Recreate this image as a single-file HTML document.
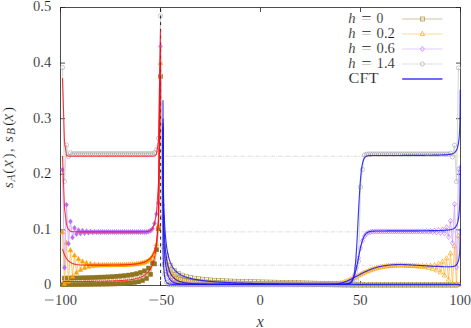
<!DOCTYPE html>
<html><head><meta charset="utf-8"><title>plot</title>
<style>html,body{margin:0;padding:0;background:#fff}svg{display:block}</style></head>
<body>
<svg width="471" height="328" viewBox="0 0 471 328">
<rect width="471" height="328" fill="#fff"/>
<defs><clipPath id="c"><rect x="60.5" y="7.5" width="400.8" height="278.6"/></clipPath></defs>
<g stroke="#d8d8d8" stroke-width="0.9" stroke-dasharray="4.1 1.2 1.04 1.2" stroke-dashoffset="0.9" fill="none">
<path d="M60.5 156.23H460.5"/>
<path d="M60.5 231.85H460.5"/>
<path d="M60.5 265.21H460.5"/>
</g>
<g stroke="#222" stroke-width="0.8" fill="none">
<rect x="60.5" y="7.5" width="400" height="278"/>
<path d="M60.5 285.5h4.5M460.5 285.5h-4.5"/>
<path d="M60.5 229.9h4.5M460.5 229.9h-4.5"/>
<path d="M60.5 174.3h4.5M460.5 174.3h-4.5"/>
<path d="M60.5 118.7h4.5M460.5 118.7h-4.5"/>
<path d="M60.5 63.1h4.5M460.5 63.1h-4.5"/>
<path d="M60.5 7.5h4.5M460.5 7.5h-4.5"/>
<path d="M60.5 285.5v-4.5M60.5 7.5v4.5"/>
<path d="M160.5 285.5v-4.5M160.5 7.5v4.5"/>
<path d="M260.5 285.5v-4.5M260.5 7.5v4.5"/>
<path d="M360.5 285.5v-4.5M360.5 7.5v4.5"/>
<path d="M460.5 285.5v-4.5M460.5 7.5v4.5"/>
</g>
<path d="M62.5 284.66 L64.5 278.11 L66.5 284.64 L68.5 278.05 L70.5 284.61 L72.5 277.98 L74.5 284.59 L76.5 277.9 L78.5 284.56 L80.5 277.81 L82.5 284.52 L84.5 277.71 L86.5 284.49 L88.5 277.61 L90.5 284.44 L92.5 277.49 L94.5 284.39 L96.5 277.35 L98.5 284.33 L100.5 277.2 L102.5 284.26 L104.5 277.03 L106.5 284.17 L108.5 276.83 L110.5 284.07 L112.5 276.6 L114.5 283.94 L116.5 276.33 L118.5 283.78 L120.5 276 L122.5 283.58 L124.5 275.6 L126.5 283.31 L128.5 275.11 L130.5 282.95 L132.5 274.49 L134.5 282.44 L136.5 273.66 L138.5 281.69 L140.5 272.51 L142.5 280.51 L144.5 270.83 L146.5 278.46 L148.5 268.11 L150.5 274.37 L152.5 262.98 L154.5 263.88 L156.5 249.64 L158.5 228.79 L160.5 76.44 L162.5 217.11 L164.5 264.37 L166.5 255.24 L168.5 273.27 L170.5 265.64 L172.5 276.69 L174.5 270.49 L176.5 278.5 L178.5 273.3 L180.5 279.62 L182.5 275.13 L184.5 280.38 L186.5 276.42 L188.5 280.94 L190.5 277.38 L192.5 281.36 L194.5 278.11 L196.5 281.68 L198.5 278.7 L200.5 281.95 L202.5 279.18 L204.5 282.16 L206.5 279.57 L208.5 282.35 L210.5 279.91 L212.5 282.5 L214.5 280.19 L216.5 282.63 L218.5 280.44 L220.5 282.75 L222.5 280.65 L224.5 282.85 L226.5 280.84 L228.5 282.94 L230.5 281.01 L232.5 283.02 L234.5 281.16 L236.5 283.09 L238.5 281.3 L240.5 283.15 L242.5 281.42 L244.5 283.21 L246.5 281.53 L248.5 283.26 L250.5 281.63 L252.5 283.31 L254.5 281.73 L256.5 283.36 L258.5 281.81 L260.5 283.4 L262.5 281.89 L264.5 283.44 L266.5 281.97 L268.5 283.49 L270.5 282.05 L272.5 283.55 L274.5 282.14 L276.5 283.61 L278.5 282.22 L280.5 283.68 L282.5 282.31 L284.5 283.75 L286.5 282.4 L288.5 283.83 L290.5 282.5 L292.5 283.91 L294.5 282.59 L296.5 284 L298.5 282.69 L300.5 284.09 L302.5 282.79 L304.5 284.18 L306.5 282.89 L308.5 284.27 L310.5 282.99 L312.5 284.37 L314.5 283.09 L316.5 284.46 L318.5 283.2 L320.5 284.56 L322.5 283.3 L324.5 284.65 L326.5 283.41 L328.5 284.74 L330.5 283.52 L332.5 284.83 L334.5 283.63 L336.5 284.92 L338.5 283.75 L340.5 285 L342.5 283.86 L344.5 285.08 L346.5 283.98 L348.5 285.15 L350.5 284.1 L352.5 285.22 L354.5 284.22 L356.5 285.28 L358.5 284.28 L360.5 285.28 L362.5 284.28 L364.5 285.28 L366.5 284.28 L368.5 285.28 L370.5 284.28 L372.5 285.28 L374.5 284.28 L376.5 285.28 L378.5 284.28 L380.5 285.28 L382.5 284.28 L384.5 285.28 L386.5 284.28 L388.5 285.28 L390.5 284.28 L392.5 285.28 L394.5 284.28 L396.5 285.28 L398.5 284.28 L400.5 285.28 L402.5 284.28 L404.5 285.28 L406.5 284.28 L408.5 285.28 L410.5 284.28 L412.5 285.28 L414.5 284.28 L416.5 285.28 L418.5 284.28 L420.5 285.28 L422.5 284.28 L424.5 285.28 L426.5 284.28 L428.5 285.28 L430.5 284.28 L432.5 285.28 L434.5 284.28 L436.5 285.28 L438.5 284.28 L440.5 285.28 L442.5 284.28 L444.5 285.28 L446.5 284.28 L448.5 285.28 L450.5 284.28 L452.5 285.28 L454.5 284.28 L456.5 285.28 L458.5 284.28" fill="none" stroke="#cdb88c" stroke-width="1.2" stroke-linejoin="round"/>
<rect x="60.2" y="282.36" width="4.6" height="4.6" fill="#8f7420"/>
<rect x="62.2" y="275.81" width="4.6" height="4.6" fill="#8f7420"/>
<rect x="64.2" y="282.34" width="4.6" height="4.6" fill="#8f7420"/>
<rect x="66.2" y="275.75" width="4.6" height="4.6" fill="#8f7420"/>
<rect x="68.2" y="282.31" width="4.6" height="4.6" fill="#8f7420"/>
<rect x="70.2" y="275.68" width="4.6" height="4.6" fill="#8f7420"/>
<rect x="72.2" y="282.29" width="4.6" height="4.6" fill="#8f7420"/>
<rect x="74.2" y="275.6" width="4.6" height="4.6" fill="#8f7420"/>
<rect x="76.2" y="282.26" width="4.6" height="4.6" fill="#8f7420"/>
<rect x="78.2" y="275.51" width="4.6" height="4.6" fill="#8f7420"/>
<rect x="80.2" y="282.22" width="4.6" height="4.6" fill="#8f7420"/>
<rect x="82.2" y="275.41" width="4.6" height="4.6" fill="#8f7420"/>
<rect x="84.2" y="282.19" width="4.6" height="4.6" fill="#8f7420"/>
<rect x="86.2" y="275.31" width="4.6" height="4.6" fill="#8f7420"/>
<rect x="88.2" y="282.14" width="4.6" height="4.6" fill="#8f7420"/>
<rect x="90.2" y="275.19" width="4.6" height="4.6" fill="#8f7420"/>
<rect x="92.2" y="282.09" width="4.6" height="4.6" fill="#8f7420"/>
<rect x="94.2" y="275.05" width="4.6" height="4.6" fill="#8f7420"/>
<rect x="96.2" y="282.03" width="4.6" height="4.6" fill="#8f7420"/>
<rect x="98.2" y="274.9" width="4.6" height="4.6" fill="#8f7420"/>
<rect x="100.2" y="281.96" width="4.6" height="4.6" fill="#8f7420"/>
<rect x="102.2" y="274.73" width="4.6" height="4.6" fill="#8f7420"/>
<rect x="104.2" y="281.87" width="4.6" height="4.6" fill="#8f7420"/>
<rect x="106.2" y="274.53" width="4.6" height="4.6" fill="#8f7420"/>
<rect x="108.2" y="281.77" width="4.6" height="4.6" fill="#8f7420"/>
<rect x="110.2" y="274.3" width="4.6" height="4.6" fill="#8f7420"/>
<rect x="112.2" y="281.64" width="4.6" height="4.6" fill="#8f7420"/>
<rect x="114.2" y="274.03" width="4.6" height="4.6" fill="#8f7420"/>
<rect x="116.2" y="281.48" width="4.6" height="4.6" fill="#8f7420"/>
<rect x="118.2" y="273.7" width="4.6" height="4.6" fill="#8f7420"/>
<rect x="120.2" y="281.28" width="4.6" height="4.6" fill="#8f7420"/>
<rect x="122.2" y="273.3" width="4.6" height="4.6" fill="#8f7420"/>
<rect x="124.2" y="281.01" width="4.6" height="4.6" fill="#8f7420"/>
<rect x="126.2" y="272.81" width="4.6" height="4.6" fill="#8f7420"/>
<rect x="128.2" y="280.65" width="4.6" height="4.6" fill="#8f7420"/>
<rect x="130.2" y="272.19" width="4.6" height="4.6" fill="#8f7420"/>
<rect x="132.2" y="280.14" width="4.6" height="4.6" fill="#8f7420"/>
<rect x="134.2" y="271.36" width="4.6" height="4.6" fill="#8f7420"/>
<rect x="136.2" y="279.39" width="4.6" height="4.6" fill="#8f7420"/>
<rect x="138.2" y="270.21" width="4.6" height="4.6" fill="#8f7420"/>
<rect x="140.2" y="278.21" width="4.6" height="4.6" fill="#8f7420"/>
<rect x="142.2" y="268.53" width="4.6" height="4.6" fill="#8f7420"/>
<rect x="144.2" y="276.16" width="4.6" height="4.6" fill="#8f7420"/>
<rect x="146.2" y="265.81" width="4.6" height="4.6" fill="#8f7420"/>
<rect x="148.2" y="272.07" width="4.6" height="4.6" fill="#8f7420"/>
<rect x="150.2" y="260.68" width="4.6" height="4.6" fill="#8f7420"/>
<rect x="152.2" y="261.58" width="4.6" height="4.6" fill="#8f7420"/>
<rect x="154.2" y="247.34" width="4.6" height="4.6" fill="#8f7420"/>
<rect x="156.2" y="226.49" width="4.6" height="4.6" fill="#8f7420"/>
<rect x="158.2" y="74.14" width="4.6" height="4.6" fill="#8f7420"/>
<rect x="160.5" y="215.11" width="4" height="4" fill="#d9c89a" fill-opacity="0.25" stroke="#a08422" stroke-opacity="0.85" stroke-width="0.55"/>
<rect x="162.5" y="262.37" width="4" height="4" fill="#d9c89a" fill-opacity="0.25" stroke="#a08422" stroke-opacity="0.85" stroke-width="0.55"/>
<rect x="164.5" y="253.24" width="4" height="4" fill="#d9c89a" fill-opacity="0.25" stroke="#a08422" stroke-opacity="0.85" stroke-width="0.55"/>
<rect x="166.5" y="271.27" width="4" height="4" fill="#d9c89a" fill-opacity="0.25" stroke="#a08422" stroke-opacity="0.85" stroke-width="0.55"/>
<rect x="168.5" y="263.64" width="4" height="4" fill="#d9c89a" fill-opacity="0.25" stroke="#a08422" stroke-opacity="0.85" stroke-width="0.55"/>
<rect x="170.5" y="274.69" width="4" height="4" fill="#d9c89a" fill-opacity="0.25" stroke="#a08422" stroke-opacity="0.85" stroke-width="0.55"/>
<rect x="172.5" y="268.49" width="4" height="4" fill="#d9c89a" fill-opacity="0.25" stroke="#a08422" stroke-opacity="0.85" stroke-width="0.55"/>
<rect x="174.5" y="276.5" width="4" height="4" fill="#d9c89a" fill-opacity="0.25" stroke="#a08422" stroke-opacity="0.85" stroke-width="0.55"/>
<rect x="176.5" y="271.3" width="4" height="4" fill="#d9c89a" fill-opacity="0.25" stroke="#a08422" stroke-opacity="0.85" stroke-width="0.55"/>
<rect x="178.5" y="277.62" width="4" height="4" fill="#d9c89a" fill-opacity="0.25" stroke="#a08422" stroke-opacity="0.85" stroke-width="0.55"/>
<rect x="180.5" y="273.13" width="4" height="4" fill="#d9c89a" fill-opacity="0.25" stroke="#a08422" stroke-opacity="0.85" stroke-width="0.55"/>
<rect x="182.5" y="278.38" width="4" height="4" fill="#d9c89a" fill-opacity="0.25" stroke="#a08422" stroke-opacity="0.85" stroke-width="0.55"/>
<rect x="184.5" y="274.42" width="4" height="4" fill="#d9c89a" fill-opacity="0.25" stroke="#a08422" stroke-opacity="0.85" stroke-width="0.55"/>
<rect x="186.5" y="278.94" width="4" height="4" fill="#d9c89a" fill-opacity="0.25" stroke="#a08422" stroke-opacity="0.85" stroke-width="0.55"/>
<rect x="188.5" y="275.38" width="4" height="4" fill="#d9c89a" fill-opacity="0.25" stroke="#a08422" stroke-opacity="0.85" stroke-width="0.55"/>
<rect x="190.5" y="279.36" width="4" height="4" fill="#d9c89a" fill-opacity="0.25" stroke="#a08422" stroke-opacity="0.85" stroke-width="0.55"/>
<rect x="192.5" y="276.11" width="4" height="4" fill="#d9c89a" fill-opacity="0.25" stroke="#a08422" stroke-opacity="0.85" stroke-width="0.55"/>
<rect x="194.5" y="279.68" width="4" height="4" fill="#d9c89a" fill-opacity="0.25" stroke="#a08422" stroke-opacity="0.85" stroke-width="0.55"/>
<rect x="196.5" y="276.7" width="4" height="4" fill="#d9c89a" fill-opacity="0.25" stroke="#a08422" stroke-opacity="0.85" stroke-width="0.55"/>
<rect x="198.5" y="279.95" width="4" height="4" fill="#d9c89a" fill-opacity="0.25" stroke="#a08422" stroke-opacity="0.85" stroke-width="0.55"/>
<rect x="200.5" y="277.18" width="4" height="4" fill="#d9c89a" fill-opacity="0.25" stroke="#a08422" stroke-opacity="0.85" stroke-width="0.55"/>
<rect x="202.5" y="280.16" width="4" height="4" fill="#d9c89a" fill-opacity="0.25" stroke="#a08422" stroke-opacity="0.85" stroke-width="0.55"/>
<rect x="204.5" y="277.57" width="4" height="4" fill="#d9c89a" fill-opacity="0.25" stroke="#a08422" stroke-opacity="0.85" stroke-width="0.55"/>
<rect x="206.5" y="280.35" width="4" height="4" fill="#d9c89a" fill-opacity="0.25" stroke="#a08422" stroke-opacity="0.85" stroke-width="0.55"/>
<rect x="208.5" y="277.91" width="4" height="4" fill="#d9c89a" fill-opacity="0.25" stroke="#a08422" stroke-opacity="0.85" stroke-width="0.55"/>
<rect x="210.5" y="280.5" width="4" height="4" fill="#d9c89a" fill-opacity="0.25" stroke="#a08422" stroke-opacity="0.85" stroke-width="0.55"/>
<rect x="212.5" y="278.19" width="4" height="4" fill="#d9c89a" fill-opacity="0.25" stroke="#a08422" stroke-opacity="0.85" stroke-width="0.55"/>
<rect x="214.5" y="280.63" width="4" height="4" fill="#d9c89a" fill-opacity="0.25" stroke="#a08422" stroke-opacity="0.85" stroke-width="0.55"/>
<rect x="216.5" y="278.44" width="4" height="4" fill="#d9c89a" fill-opacity="0.25" stroke="#a08422" stroke-opacity="0.85" stroke-width="0.55"/>
<rect x="218.5" y="280.75" width="4" height="4" fill="#d9c89a" fill-opacity="0.25" stroke="#a08422" stroke-opacity="0.85" stroke-width="0.55"/>
<rect x="220.5" y="278.65" width="4" height="4" fill="#d9c89a" fill-opacity="0.25" stroke="#a08422" stroke-opacity="0.85" stroke-width="0.55"/>
<rect x="222.5" y="280.85" width="4" height="4" fill="#d9c89a" fill-opacity="0.25" stroke="#a08422" stroke-opacity="0.85" stroke-width="0.55"/>
<rect x="224.5" y="278.84" width="4" height="4" fill="#d9c89a" fill-opacity="0.25" stroke="#a08422" stroke-opacity="0.85" stroke-width="0.55"/>
<rect x="226.5" y="280.94" width="4" height="4" fill="#d9c89a" fill-opacity="0.25" stroke="#a08422" stroke-opacity="0.85" stroke-width="0.55"/>
<rect x="228.5" y="279.01" width="4" height="4" fill="#d9c89a" fill-opacity="0.25" stroke="#a08422" stroke-opacity="0.85" stroke-width="0.55"/>
<rect x="230.5" y="281.02" width="4" height="4" fill="#d9c89a" fill-opacity="0.25" stroke="#a08422" stroke-opacity="0.85" stroke-width="0.55"/>
<rect x="232.5" y="279.16" width="4" height="4" fill="#d9c89a" fill-opacity="0.25" stroke="#a08422" stroke-opacity="0.85" stroke-width="0.55"/>
<rect x="234.5" y="281.09" width="4" height="4" fill="#d9c89a" fill-opacity="0.25" stroke="#a08422" stroke-opacity="0.85" stroke-width="0.55"/>
<rect x="236.5" y="279.3" width="4" height="4" fill="#d9c89a" fill-opacity="0.25" stroke="#a08422" stroke-opacity="0.85" stroke-width="0.55"/>
<rect x="238.5" y="281.15" width="4" height="4" fill="#d9c89a" fill-opacity="0.25" stroke="#a08422" stroke-opacity="0.85" stroke-width="0.55"/>
<rect x="240.5" y="279.42" width="4" height="4" fill="#d9c89a" fill-opacity="0.25" stroke="#a08422" stroke-opacity="0.85" stroke-width="0.55"/>
<rect x="242.5" y="281.21" width="4" height="4" fill="#d9c89a" fill-opacity="0.25" stroke="#a08422" stroke-opacity="0.85" stroke-width="0.55"/>
<rect x="244.5" y="279.53" width="4" height="4" fill="#d9c89a" fill-opacity="0.25" stroke="#a08422" stroke-opacity="0.85" stroke-width="0.55"/>
<rect x="246.5" y="281.26" width="4" height="4" fill="#d9c89a" fill-opacity="0.25" stroke="#a08422" stroke-opacity="0.85" stroke-width="0.55"/>
<rect x="248.5" y="279.63" width="4" height="4" fill="#d9c89a" fill-opacity="0.25" stroke="#a08422" stroke-opacity="0.85" stroke-width="0.55"/>
<rect x="250.5" y="281.31" width="4" height="4" fill="#d9c89a" fill-opacity="0.25" stroke="#a08422" stroke-opacity="0.85" stroke-width="0.55"/>
<rect x="252.5" y="279.73" width="4" height="4" fill="#d9c89a" fill-opacity="0.25" stroke="#a08422" stroke-opacity="0.85" stroke-width="0.55"/>
<rect x="254.5" y="281.36" width="4" height="4" fill="#d9c89a" fill-opacity="0.25" stroke="#a08422" stroke-opacity="0.85" stroke-width="0.55"/>
<rect x="256.5" y="279.81" width="4" height="4" fill="#d9c89a" fill-opacity="0.25" stroke="#a08422" stroke-opacity="0.85" stroke-width="0.55"/>
<rect x="258.5" y="281.4" width="4" height="4" fill="#d9c89a" fill-opacity="0.25" stroke="#a08422" stroke-opacity="0.85" stroke-width="0.55"/>
<rect x="260.5" y="279.89" width="4" height="4" fill="#d9c89a" fill-opacity="0.25" stroke="#a08422" stroke-opacity="0.85" stroke-width="0.55"/>
<rect x="262.5" y="281.44" width="4" height="4" fill="#d9c89a" fill-opacity="0.25" stroke="#a08422" stroke-opacity="0.85" stroke-width="0.55"/>
<rect x="264.5" y="279.97" width="4" height="4" fill="#d9c89a" fill-opacity="0.25" stroke="#a08422" stroke-opacity="0.85" stroke-width="0.55"/>
<rect x="266.5" y="281.49" width="4" height="4" fill="#d9c89a" fill-opacity="0.25" stroke="#a08422" stroke-opacity="0.85" stroke-width="0.55"/>
<rect x="268.5" y="280.05" width="4" height="4" fill="#d9c89a" fill-opacity="0.25" stroke="#a08422" stroke-opacity="0.85" stroke-width="0.55"/>
<rect x="270.5" y="281.55" width="4" height="4" fill="#d9c89a" fill-opacity="0.25" stroke="#a08422" stroke-opacity="0.85" stroke-width="0.55"/>
<rect x="272.5" y="280.14" width="4" height="4" fill="#d9c89a" fill-opacity="0.25" stroke="#a08422" stroke-opacity="0.85" stroke-width="0.55"/>
<rect x="274.5" y="281.61" width="4" height="4" fill="#d9c89a" fill-opacity="0.25" stroke="#a08422" stroke-opacity="0.85" stroke-width="0.55"/>
<rect x="276.5" y="280.22" width="4" height="4" fill="#d9c89a" fill-opacity="0.25" stroke="#a08422" stroke-opacity="0.85" stroke-width="0.55"/>
<rect x="278.5" y="281.68" width="4" height="4" fill="#d9c89a" fill-opacity="0.25" stroke="#a08422" stroke-opacity="0.85" stroke-width="0.55"/>
<rect x="280.5" y="280.31" width="4" height="4" fill="#d9c89a" fill-opacity="0.25" stroke="#a08422" stroke-opacity="0.85" stroke-width="0.55"/>
<rect x="282.5" y="281.75" width="4" height="4" fill="#d9c89a" fill-opacity="0.25" stroke="#a08422" stroke-opacity="0.85" stroke-width="0.55"/>
<rect x="284.5" y="280.4" width="4" height="4" fill="#d9c89a" fill-opacity="0.25" stroke="#a08422" stroke-opacity="0.85" stroke-width="0.55"/>
<rect x="286.5" y="281.83" width="4" height="4" fill="#d9c89a" fill-opacity="0.25" stroke="#a08422" stroke-opacity="0.85" stroke-width="0.55"/>
<rect x="288.5" y="280.5" width="4" height="4" fill="#d9c89a" fill-opacity="0.25" stroke="#a08422" stroke-opacity="0.85" stroke-width="0.55"/>
<rect x="290.5" y="281.91" width="4" height="4" fill="#d9c89a" fill-opacity="0.25" stroke="#a08422" stroke-opacity="0.85" stroke-width="0.55"/>
<rect x="292.5" y="280.59" width="4" height="4" fill="#d9c89a" fill-opacity="0.25" stroke="#a08422" stroke-opacity="0.85" stroke-width="0.55"/>
<rect x="294.5" y="282" width="4" height="4" fill="#d9c89a" fill-opacity="0.25" stroke="#a08422" stroke-opacity="0.85" stroke-width="0.55"/>
<rect x="296.5" y="280.69" width="4" height="4" fill="#d9c89a" fill-opacity="0.25" stroke="#a08422" stroke-opacity="0.85" stroke-width="0.55"/>
<rect x="298.5" y="282.09" width="4" height="4" fill="#d9c89a" fill-opacity="0.25" stroke="#a08422" stroke-opacity="0.85" stroke-width="0.55"/>
<rect x="300.5" y="280.79" width="4" height="4" fill="#d9c89a" fill-opacity="0.25" stroke="#a08422" stroke-opacity="0.85" stroke-width="0.55"/>
<rect x="302.5" y="282.18" width="4" height="4" fill="#d9c89a" fill-opacity="0.25" stroke="#a08422" stroke-opacity="0.85" stroke-width="0.55"/>
<rect x="304.5" y="280.89" width="4" height="4" fill="#d9c89a" fill-opacity="0.25" stroke="#a08422" stroke-opacity="0.85" stroke-width="0.55"/>
<rect x="306.5" y="282.27" width="4" height="4" fill="#d9c89a" fill-opacity="0.25" stroke="#a08422" stroke-opacity="0.85" stroke-width="0.55"/>
<rect x="308.5" y="280.99" width="4" height="4" fill="#d9c89a" fill-opacity="0.25" stroke="#a08422" stroke-opacity="0.85" stroke-width="0.55"/>
<rect x="310.5" y="282.37" width="4" height="4" fill="#d9c89a" fill-opacity="0.25" stroke="#a08422" stroke-opacity="0.85" stroke-width="0.55"/>
<rect x="312.5" y="281.09" width="4" height="4" fill="#d9c89a" fill-opacity="0.25" stroke="#a08422" stroke-opacity="0.85" stroke-width="0.55"/>
<rect x="314.5" y="282.46" width="4" height="4" fill="#d9c89a" fill-opacity="0.25" stroke="#a08422" stroke-opacity="0.85" stroke-width="0.55"/>
<rect x="316.5" y="281.2" width="4" height="4" fill="#d9c89a" fill-opacity="0.25" stroke="#a08422" stroke-opacity="0.85" stroke-width="0.55"/>
<rect x="318.5" y="282.56" width="4" height="4" fill="#d9c89a" fill-opacity="0.25" stroke="#a08422" stroke-opacity="0.85" stroke-width="0.55"/>
<rect x="320.5" y="281.3" width="4" height="4" fill="#d9c89a" fill-opacity="0.25" stroke="#a08422" stroke-opacity="0.85" stroke-width="0.55"/>
<rect x="322.5" y="282.65" width="4" height="4" fill="#d9c89a" fill-opacity="0.25" stroke="#a08422" stroke-opacity="0.85" stroke-width="0.55"/>
<rect x="324.5" y="281.41" width="4" height="4" fill="#d9c89a" fill-opacity="0.25" stroke="#a08422" stroke-opacity="0.85" stroke-width="0.55"/>
<rect x="326.5" y="282.74" width="4" height="4" fill="#d9c89a" fill-opacity="0.25" stroke="#a08422" stroke-opacity="0.85" stroke-width="0.55"/>
<rect x="328.5" y="281.52" width="4" height="4" fill="#d9c89a" fill-opacity="0.25" stroke="#a08422" stroke-opacity="0.85" stroke-width="0.55"/>
<rect x="330.5" y="282.83" width="4" height="4" fill="#d9c89a" fill-opacity="0.25" stroke="#a08422" stroke-opacity="0.85" stroke-width="0.55"/>
<rect x="332.5" y="281.63" width="4" height="4" fill="#d9c89a" fill-opacity="0.25" stroke="#a08422" stroke-opacity="0.85" stroke-width="0.55"/>
<rect x="334.5" y="282.92" width="4" height="4" fill="#d9c89a" fill-opacity="0.25" stroke="#a08422" stroke-opacity="0.85" stroke-width="0.55"/>
<rect x="336.5" y="281.75" width="4" height="4" fill="#d9c89a" fill-opacity="0.25" stroke="#a08422" stroke-opacity="0.85" stroke-width="0.55"/>
<rect x="338.5" y="283" width="4" height="4" fill="#d9c89a" fill-opacity="0.25" stroke="#a08422" stroke-opacity="0.85" stroke-width="0.55"/>
<rect x="340.5" y="281.86" width="4" height="4" fill="#d9c89a" fill-opacity="0.25" stroke="#a08422" stroke-opacity="0.85" stroke-width="0.55"/>
<rect x="342.5" y="283.08" width="4" height="4" fill="#d9c89a" fill-opacity="0.25" stroke="#a08422" stroke-opacity="0.85" stroke-width="0.55"/>
<rect x="344.5" y="281.98" width="4" height="4" fill="#d9c89a" fill-opacity="0.25" stroke="#a08422" stroke-opacity="0.85" stroke-width="0.55"/>
<rect x="346.5" y="283.15" width="4" height="4" fill="#d9c89a" fill-opacity="0.25" stroke="#a08422" stroke-opacity="0.85" stroke-width="0.55"/>
<rect x="348.5" y="282.1" width="4" height="4" fill="#d9c89a" fill-opacity="0.25" stroke="#a08422" stroke-opacity="0.85" stroke-width="0.55"/>
<rect x="350.5" y="283.22" width="4" height="4" fill="#d9c89a" fill-opacity="0.25" stroke="#a08422" stroke-opacity="0.85" stroke-width="0.55"/>
<rect x="352.5" y="282.22" width="4" height="4" fill="#d9c89a" fill-opacity="0.25" stroke="#a08422" stroke-opacity="0.85" stroke-width="0.55"/>
<rect x="354.5" y="283.28" width="4" height="4" fill="#d9c89a" fill-opacity="0.25" stroke="#a08422" stroke-opacity="0.85" stroke-width="0.55"/>
<rect x="356.5" y="282.28" width="4" height="4" fill="#d9c89a" fill-opacity="0.25" stroke="#a08422" stroke-opacity="0.85" stroke-width="0.55"/>
<rect x="358.5" y="283.28" width="4" height="4" fill="#d9c89a" fill-opacity="0.25" stroke="#a08422" stroke-opacity="0.85" stroke-width="0.55"/>
<rect x="360.5" y="282.28" width="4" height="4" fill="#d9c89a" fill-opacity="0.25" stroke="#a08422" stroke-opacity="0.85" stroke-width="0.55"/>
<rect x="362.5" y="283.28" width="4" height="4" fill="#d9c89a" fill-opacity="0.25" stroke="#a08422" stroke-opacity="0.85" stroke-width="0.55"/>
<rect x="364.5" y="282.28" width="4" height="4" fill="#d9c89a" fill-opacity="0.25" stroke="#a08422" stroke-opacity="0.85" stroke-width="0.55"/>
<rect x="366.5" y="283.28" width="4" height="4" fill="#d9c89a" fill-opacity="0.25" stroke="#a08422" stroke-opacity="0.85" stroke-width="0.55"/>
<rect x="368.5" y="282.28" width="4" height="4" fill="#d9c89a" fill-opacity="0.25" stroke="#a08422" stroke-opacity="0.85" stroke-width="0.55"/>
<rect x="370.5" y="283.28" width="4" height="4" fill="#d9c89a" fill-opacity="0.25" stroke="#a08422" stroke-opacity="0.85" stroke-width="0.55"/>
<rect x="372.5" y="282.28" width="4" height="4" fill="#d9c89a" fill-opacity="0.25" stroke="#a08422" stroke-opacity="0.85" stroke-width="0.55"/>
<rect x="374.5" y="283.28" width="4" height="4" fill="#d9c89a" fill-opacity="0.25" stroke="#a08422" stroke-opacity="0.85" stroke-width="0.55"/>
<rect x="376.5" y="282.28" width="4" height="4" fill="#d9c89a" fill-opacity="0.25" stroke="#a08422" stroke-opacity="0.85" stroke-width="0.55"/>
<rect x="378.5" y="283.28" width="4" height="4" fill="#d9c89a" fill-opacity="0.25" stroke="#a08422" stroke-opacity="0.85" stroke-width="0.55"/>
<rect x="380.5" y="282.28" width="4" height="4" fill="#d9c89a" fill-opacity="0.25" stroke="#a08422" stroke-opacity="0.85" stroke-width="0.55"/>
<rect x="382.5" y="283.28" width="4" height="4" fill="#d9c89a" fill-opacity="0.25" stroke="#a08422" stroke-opacity="0.85" stroke-width="0.55"/>
<rect x="384.5" y="282.28" width="4" height="4" fill="#d9c89a" fill-opacity="0.25" stroke="#a08422" stroke-opacity="0.85" stroke-width="0.55"/>
<rect x="386.5" y="283.28" width="4" height="4" fill="#d9c89a" fill-opacity="0.25" stroke="#a08422" stroke-opacity="0.85" stroke-width="0.55"/>
<rect x="388.5" y="282.28" width="4" height="4" fill="#d9c89a" fill-opacity="0.25" stroke="#a08422" stroke-opacity="0.85" stroke-width="0.55"/>
<rect x="390.5" y="283.28" width="4" height="4" fill="#d9c89a" fill-opacity="0.25" stroke="#a08422" stroke-opacity="0.85" stroke-width="0.55"/>
<rect x="392.5" y="282.28" width="4" height="4" fill="#d9c89a" fill-opacity="0.25" stroke="#a08422" stroke-opacity="0.85" stroke-width="0.55"/>
<rect x="394.5" y="283.28" width="4" height="4" fill="#d9c89a" fill-opacity="0.25" stroke="#a08422" stroke-opacity="0.85" stroke-width="0.55"/>
<rect x="396.5" y="282.28" width="4" height="4" fill="#d9c89a" fill-opacity="0.25" stroke="#a08422" stroke-opacity="0.85" stroke-width="0.55"/>
<rect x="398.5" y="283.28" width="4" height="4" fill="#d9c89a" fill-opacity="0.25" stroke="#a08422" stroke-opacity="0.85" stroke-width="0.55"/>
<rect x="400.5" y="282.28" width="4" height="4" fill="#d9c89a" fill-opacity="0.25" stroke="#a08422" stroke-opacity="0.85" stroke-width="0.55"/>
<rect x="402.5" y="283.28" width="4" height="4" fill="#d9c89a" fill-opacity="0.25" stroke="#a08422" stroke-opacity="0.85" stroke-width="0.55"/>
<rect x="404.5" y="282.28" width="4" height="4" fill="#d9c89a" fill-opacity="0.25" stroke="#a08422" stroke-opacity="0.85" stroke-width="0.55"/>
<rect x="406.5" y="283.28" width="4" height="4" fill="#d9c89a" fill-opacity="0.25" stroke="#a08422" stroke-opacity="0.85" stroke-width="0.55"/>
<rect x="408.5" y="282.28" width="4" height="4" fill="#d9c89a" fill-opacity="0.25" stroke="#a08422" stroke-opacity="0.85" stroke-width="0.55"/>
<rect x="410.5" y="283.28" width="4" height="4" fill="#d9c89a" fill-opacity="0.25" stroke="#a08422" stroke-opacity="0.85" stroke-width="0.55"/>
<rect x="412.5" y="282.28" width="4" height="4" fill="#d9c89a" fill-opacity="0.25" stroke="#a08422" stroke-opacity="0.85" stroke-width="0.55"/>
<rect x="414.5" y="283.28" width="4" height="4" fill="#d9c89a" fill-opacity="0.25" stroke="#a08422" stroke-opacity="0.85" stroke-width="0.55"/>
<rect x="416.5" y="282.28" width="4" height="4" fill="#d9c89a" fill-opacity="0.25" stroke="#a08422" stroke-opacity="0.85" stroke-width="0.55"/>
<rect x="418.5" y="283.28" width="4" height="4" fill="#d9c89a" fill-opacity="0.25" stroke="#a08422" stroke-opacity="0.85" stroke-width="0.55"/>
<rect x="420.5" y="282.28" width="4" height="4" fill="#d9c89a" fill-opacity="0.25" stroke="#a08422" stroke-opacity="0.85" stroke-width="0.55"/>
<rect x="422.5" y="283.28" width="4" height="4" fill="#d9c89a" fill-opacity="0.25" stroke="#a08422" stroke-opacity="0.85" stroke-width="0.55"/>
<rect x="424.5" y="282.28" width="4" height="4" fill="#d9c89a" fill-opacity="0.25" stroke="#a08422" stroke-opacity="0.85" stroke-width="0.55"/>
<rect x="426.5" y="283.28" width="4" height="4" fill="#d9c89a" fill-opacity="0.25" stroke="#a08422" stroke-opacity="0.85" stroke-width="0.55"/>
<rect x="428.5" y="282.28" width="4" height="4" fill="#d9c89a" fill-opacity="0.25" stroke="#a08422" stroke-opacity="0.85" stroke-width="0.55"/>
<rect x="430.5" y="283.28" width="4" height="4" fill="#d9c89a" fill-opacity="0.25" stroke="#a08422" stroke-opacity="0.85" stroke-width="0.55"/>
<rect x="432.5" y="282.28" width="4" height="4" fill="#d9c89a" fill-opacity="0.25" stroke="#a08422" stroke-opacity="0.85" stroke-width="0.55"/>
<rect x="434.5" y="283.28" width="4" height="4" fill="#d9c89a" fill-opacity="0.25" stroke="#a08422" stroke-opacity="0.85" stroke-width="0.55"/>
<rect x="436.5" y="282.28" width="4" height="4" fill="#d9c89a" fill-opacity="0.25" stroke="#a08422" stroke-opacity="0.85" stroke-width="0.55"/>
<rect x="438.5" y="283.28" width="4" height="4" fill="#d9c89a" fill-opacity="0.25" stroke="#a08422" stroke-opacity="0.85" stroke-width="0.55"/>
<rect x="440.5" y="282.28" width="4" height="4" fill="#d9c89a" fill-opacity="0.25" stroke="#a08422" stroke-opacity="0.85" stroke-width="0.55"/>
<rect x="442.5" y="283.28" width="4" height="4" fill="#d9c89a" fill-opacity="0.25" stroke="#a08422" stroke-opacity="0.85" stroke-width="0.55"/>
<rect x="444.5" y="282.28" width="4" height="4" fill="#d9c89a" fill-opacity="0.25" stroke="#a08422" stroke-opacity="0.85" stroke-width="0.55"/>
<rect x="446.5" y="283.28" width="4" height="4" fill="#d9c89a" fill-opacity="0.25" stroke="#a08422" stroke-opacity="0.85" stroke-width="0.55"/>
<rect x="448.5" y="282.28" width="4" height="4" fill="#d9c89a" fill-opacity="0.25" stroke="#a08422" stroke-opacity="0.85" stroke-width="0.55"/>
<rect x="450.5" y="283.28" width="4" height="4" fill="#d9c89a" fill-opacity="0.25" stroke="#a08422" stroke-opacity="0.85" stroke-width="0.55"/>
<rect x="452.5" y="282.28" width="4" height="4" fill="#d9c89a" fill-opacity="0.25" stroke="#a08422" stroke-opacity="0.85" stroke-width="0.55"/>
<rect x="454.5" y="283.28" width="4" height="4" fill="#d9c89a" fill-opacity="0.25" stroke="#a08422" stroke-opacity="0.85" stroke-width="0.55"/>
<rect x="456.5" y="282.28" width="4" height="4" fill="#d9c89a" fill-opacity="0.25" stroke="#a08422" stroke-opacity="0.85" stroke-width="0.55"/>
<path d="M62.5 232.39 L64.5 283.94 L66.5 242.96 L68.5 281.66 L70.5 250.28 L72.5 276.65 L74.5 255.44 L76.5 272.75 L78.5 259.03 L80.5 269.96 L82.5 261.43 L84.5 268.06 L86.5 262.99 L88.5 266.85 L90.5 263.95 L92.5 266.11 L94.5 264.51 L96.5 265.67 L98.5 264.83 L100.5 265.42 L102.5 264.99 L104.5 265.28 L106.5 265.07 L108.5 265.2 L110.5 265.09 L112.5 265.14 L114.5 265.07 L116.5 265.08 L118.5 265.03 L120.5 265.01 L122.5 264.96 L124.5 264.91 L126.5 264.84 L128.5 264.76 L130.5 264.66 L132.5 264.54 L134.5 264.38 L136.5 264.17 L138.5 263.91 L140.5 263.57 L142.5 263.12 L144.5 262.53 L146.5 261.71 L148.5 260.56 L150.5 258.89 L152.5 256.33 L154.5 252.13 L156.5 244.31 L158.5 226.04 L160.5 63.1 L162.5 204.06 L164.5 246.4 L166.5 261.75 L168.5 269.44 L170.5 273.92 L172.5 276.78 L174.5 278.71 L176.5 280.06 L178.5 281.05 L180.5 281.78 L182.5 282.33 L184.5 282.75 L186.5 283.07 L188.5 283.33 L190.5 283.53 L192.5 283.69 L194.5 283.82 L196.5 283.92 L198.5 283.94 L200.5 283.94 L202.5 283.94 L204.5 283.94 L206.5 283.94 L208.5 283.94 L210.5 283.94 L212.5 283.94 L214.5 283.94 L216.5 283.94 L218.5 283.94 L220.5 283.94 L222.5 283.94 L224.5 283.94 L226.5 283.94 L228.5 283.94 L230.5 283.94 L232.5 283.94 L234.5 283.94 L236.5 283.94 L238.5 283.94 L240.5 283.94 L242.5 283.94 L244.5 283.94 L246.5 283.94 L248.5 283.94 L250.5 283.94 L252.5 283.94 L254.5 283.94 L256.5 283.94 L258.5 283.94 L260.5 283.94 L262.5 283.94 L264.5 283.94 L266.5 283.94 L268.5 283.94 L270.5 283.94 L272.5 283.94 L274.5 283.94 L276.5 283.94 L278.5 283.94 L280.5 283.94 L282.5 283.94 L284.5 283.94 L286.5 283.94 L288.5 283.94 L290.5 283.94 L292.5 283.94 L294.5 283.94 L296.5 283.94 L298.5 283.94 L300.5 283.94 L302.5 283.94 L304.5 283.94 L306.5 283.94 L308.5 283.94 L310.5 283.94 L312.5 283.94 L314.5 283.94 L316.5 283.94 L318.5 283.94 L320.5 283.94 L322.5 283.94 L324.5 283.94 L326.5 283.94 L328.5 283.94 L330.5 283.94 L332.5 283.94 L334.5 283.94 L336.5 283.94 L338.5 283.78 L340.5 283.38 L342.5 282.83 L344.5 282.15 L346.5 281.38 L348.5 280.53 L350.5 279.62 L352.5 278.66 L354.5 277.66 L356.5 276.64 L358.5 275.61 L360.5 274.6 L362.5 273.61 L364.5 272.66 L366.5 271.75 L368.5 270.91 L370.5 270.13 L372.5 269.42 L374.5 268.78 L376.5 268.21 L378.5 267.71 L380.5 267.28 L382.5 266.9 L384.5 266.58 L386.5 266.31 L388.5 266.09 L390.5 265.9 L392.5 265.75 L394.5 265.63 L396.5 265.53 L398.5 265.45 L400.5 265.4 L402.5 265.46 L404.5 265.57 L406.5 265.64 L408.5 265.79 L410.5 265.83 L412.5 266.04 L414.5 266.01 L416.5 266.34 L418.5 266.16 L420.5 266.71 L422.5 266.23 L424.5 267.19 L426.5 266.15 L428.5 267.87 L430.5 265.83 L432.5 268.86 L434.5 265.12 L436.5 270.32 L438.5 263.81 L440.5 272.45 L442.5 261.65 L444.5 275.5 L446.5 258.31 L448.5 279.65 L450.5 253.4 L452.5 283.94 L454.5 246.33 L456.5 283.94 L458.5 236" fill="none" stroke="#ffbf5e" stroke-width="0.9" stroke-linejoin="round"/>
<polygon points="62.5,229.64 60.25,233.89 64.75,233.89" fill="#ffa200" stroke="#ffa200" stroke-width="0.5"/>
<polygon points="64.5,281.19 62.25,285.44 66.75,285.44" fill="#ffa200" stroke="#ffa200" stroke-width="0.5"/>
<polygon points="66.5,240.21 64.25,244.46 68.75,244.46" fill="#ffa200" stroke="#ffa200" stroke-width="0.5"/>
<polygon points="68.5,278.91 66.25,283.16 70.75,283.16" fill="#ffa200" stroke="#ffa200" stroke-width="0.5"/>
<polygon points="70.5,247.53 68.25,251.78 72.75,251.78" fill="#ffa200" stroke="#ffa200" stroke-width="0.5"/>
<polygon points="72.5,273.9 70.25,278.15 74.75,278.15" fill="#ffa200" stroke="#ffa200" stroke-width="0.5"/>
<polygon points="74.5,252.69 72.25,256.94 76.75,256.94" fill="#ffa200" stroke="#ffa200" stroke-width="0.5"/>
<polygon points="76.5,270 74.25,274.25 78.75,274.25" fill="#ffa200" stroke="#ffa200" stroke-width="0.5"/>
<polygon points="78.5,256.28 76.25,260.53 80.75,260.53" fill="#ffa200" stroke="#ffa200" stroke-width="0.5"/>
<polygon points="80.5,267.21 78.25,271.46 82.75,271.46" fill="#ffa200" stroke="#ffa200" stroke-width="0.5"/>
<polygon points="82.5,258.68 80.25,262.93 84.75,262.93" fill="#ffa200" stroke="#ffa200" stroke-width="0.5"/>
<polygon points="84.5,265.31 82.25,269.56 86.75,269.56" fill="#ffa200" stroke="#ffa200" stroke-width="0.5"/>
<polygon points="86.5,260.24 84.25,264.49 88.75,264.49" fill="#ffa200" stroke="#ffa200" stroke-width="0.5"/>
<polygon points="88.5,264.1 86.25,268.35 90.75,268.35" fill="#ffa200" stroke="#ffa200" stroke-width="0.5"/>
<polygon points="90.5,261.2 88.25,265.45 92.75,265.45" fill="#ffa200" stroke="#ffa200" stroke-width="0.5"/>
<polygon points="92.5,263.36 90.25,267.61 94.75,267.61" fill="#ffa200" stroke="#ffa200" stroke-width="0.5"/>
<polygon points="94.5,261.76 92.25,266.01 96.75,266.01" fill="#ffa200" stroke="#ffa200" stroke-width="0.5"/>
<polygon points="96.5,262.92 94.25,267.17 98.75,267.17" fill="#ffa200" stroke="#ffa200" stroke-width="0.5"/>
<polygon points="98.5,262.08 96.25,266.33 100.75,266.33" fill="#ffa200" stroke="#ffa200" stroke-width="0.5"/>
<polygon points="100.5,262.67 98.25,266.92 102.75,266.92" fill="#ffa200" stroke="#ffa200" stroke-width="0.5"/>
<polygon points="102.5,262.24 100.25,266.49 104.75,266.49" fill="#ffa200" stroke="#ffa200" stroke-width="0.5"/>
<polygon points="104.5,262.53 102.25,266.78 106.75,266.78" fill="#ffa200" stroke="#ffa200" stroke-width="0.5"/>
<polygon points="106.5,262.32 104.25,266.57 108.75,266.57" fill="#ffa200" stroke="#ffa200" stroke-width="0.5"/>
<polygon points="108.5,262.45 106.25,266.7 110.75,266.7" fill="#ffa200" stroke="#ffa200" stroke-width="0.5"/>
<polygon points="110.5,262.34 108.25,266.59 112.75,266.59" fill="#ffa200" stroke="#ffa200" stroke-width="0.5"/>
<polygon points="112.5,262.39 110.25,266.64 114.75,266.64" fill="#ffa200" stroke="#ffa200" stroke-width="0.5"/>
<polygon points="114.5,262.32 112.25,266.57 116.75,266.57" fill="#ffa200" stroke="#ffa200" stroke-width="0.5"/>
<polygon points="116.5,262.33 114.25,266.58 118.75,266.58" fill="#ffa200" stroke="#ffa200" stroke-width="0.5"/>
<polygon points="118.5,262.28 116.25,266.53 120.75,266.53" fill="#ffa200" stroke="#ffa200" stroke-width="0.5"/>
<polygon points="120.5,262.26 118.25,266.51 122.75,266.51" fill="#ffa200" stroke="#ffa200" stroke-width="0.5"/>
<polygon points="122.5,262.21 120.25,266.46 124.75,266.46" fill="#ffa200" stroke="#ffa200" stroke-width="0.5"/>
<polygon points="124.5,262.16 122.25,266.41 126.75,266.41" fill="#ffa200" stroke="#ffa200" stroke-width="0.5"/>
<polygon points="126.5,262.09 124.25,266.34 128.75,266.34" fill="#ffa200" stroke="#ffa200" stroke-width="0.5"/>
<polygon points="128.5,262.01 126.25,266.26 130.75,266.26" fill="#ffa200" stroke="#ffa200" stroke-width="0.5"/>
<polygon points="130.5,261.91 128.25,266.16 132.75,266.16" fill="#ffa200" stroke="#ffa200" stroke-width="0.5"/>
<polygon points="132.5,261.79 130.25,266.04 134.75,266.04" fill="#ffa200" stroke="#ffa200" stroke-width="0.5"/>
<polygon points="134.5,261.63 132.25,265.88 136.75,265.88" fill="#ffa200" stroke="#ffa200" stroke-width="0.5"/>
<polygon points="136.5,261.42 134.25,265.67 138.75,265.67" fill="#ffa200" stroke="#ffa200" stroke-width="0.5"/>
<polygon points="138.5,261.16 136.25,265.41 140.75,265.41" fill="#ffa200" stroke="#ffa200" stroke-width="0.5"/>
<polygon points="140.5,260.82 138.25,265.07 142.75,265.07" fill="#ffa200" stroke="#ffa200" stroke-width="0.5"/>
<polygon points="142.5,260.37 140.25,264.62 144.75,264.62" fill="#ffa200" stroke="#ffa200" stroke-width="0.5"/>
<polygon points="144.5,259.78 142.25,264.03 146.75,264.03" fill="#ffa200" stroke="#ffa200" stroke-width="0.5"/>
<polygon points="146.5,258.96 144.25,263.21 148.75,263.21" fill="#ffa200" stroke="#ffa200" stroke-width="0.5"/>
<polygon points="148.5,257.81 146.25,262.06 150.75,262.06" fill="#ffa200" stroke="#ffa200" stroke-width="0.5"/>
<polygon points="150.5,256.14 148.25,260.39 152.75,260.39" fill="#ffa200" stroke="#ffa200" stroke-width="0.5"/>
<polygon points="152.5,253.58 150.25,257.83 154.75,257.83" fill="#ffa200" stroke="#ffa200" stroke-width="0.5"/>
<polygon points="154.5,249.38 152.25,253.63 156.75,253.63" fill="#ffa200" stroke="#ffa200" stroke-width="0.5"/>
<polygon points="156.5,241.56 154.25,245.81 158.75,245.81" fill="#ffa200" stroke="#ffa200" stroke-width="0.5"/>
<polygon points="158.5,223.29 156.25,227.54 160.75,227.54" fill="#ffa200" stroke="#ffa200" stroke-width="0.5"/>
<polygon points="160.5,60.35 158.25,64.6 162.75,64.6" fill="#ffa200" stroke="#ffa200" stroke-width="0.5"/>
<polygon points="162.5,201.31 160.25,205.56 164.75,205.56" fill="none" stroke="#ffa200" stroke-width="0.65"/>
<polygon points="164.5,243.65 162.25,247.9 166.75,247.9" fill="none" stroke="#ffa200" stroke-width="0.65"/>
<polygon points="166.5,259 164.25,263.25 168.75,263.25" fill="none" stroke="#ffa200" stroke-width="0.65"/>
<polygon points="168.5,266.69 166.25,270.94 170.75,270.94" fill="none" stroke="#ffa200" stroke-width="0.65"/>
<polygon points="170.5,271.17 168.25,275.42 172.75,275.42" fill="none" stroke="#ffa200" stroke-width="0.65"/>
<polygon points="172.5,274.03 170.25,278.28 174.75,278.28" fill="none" stroke="#ffa200" stroke-width="0.65"/>
<polygon points="174.5,275.96 172.25,280.21 176.75,280.21" fill="none" stroke="#ffa200" stroke-width="0.65"/>
<polygon points="176.5,277.31 174.25,281.56 178.75,281.56" fill="none" stroke="#ffa200" stroke-width="0.65"/>
<polygon points="178.5,278.3 176.25,282.55 180.75,282.55" fill="none" stroke="#ffa200" stroke-width="0.65"/>
<polygon points="180.5,279.03 178.25,283.28 182.75,283.28" fill="none" stroke="#ffa200" stroke-width="0.65"/>
<polygon points="182.5,279.58 180.25,283.83 184.75,283.83" fill="none" stroke="#ffa200" stroke-width="0.65"/>
<polygon points="184.5,280 182.25,284.25 186.75,284.25" fill="none" stroke="#ffa200" stroke-width="0.65"/>
<polygon points="186.5,280.32 184.25,284.57 188.75,284.57" fill="none" stroke="#ffa200" stroke-width="0.65"/>
<polygon points="188.5,280.58 186.25,284.83 190.75,284.83" fill="none" stroke="#ffa200" stroke-width="0.65"/>
<polygon points="190.5,280.78 188.25,285.03 192.75,285.03" fill="none" stroke="#ffa200" stroke-width="0.65"/>
<polygon points="192.5,280.94 190.25,285.19 194.75,285.19" fill="none" stroke="#ffa200" stroke-width="0.65"/>
<polygon points="194.5,281.07 192.25,285.32 196.75,285.32" fill="none" stroke="#ffa200" stroke-width="0.65"/>
<polygon points="196.5,281.17 194.25,285.42 198.75,285.42" fill="none" stroke="#ffa200" stroke-width="0.65"/>
<polygon points="198.5,281.19 196.25,285.44 200.75,285.44" fill="none" stroke="#ffa200" stroke-width="0.65"/>
<polygon points="200.5,281.19 198.25,285.44 202.75,285.44" fill="none" stroke="#ffa200" stroke-width="0.65"/>
<polygon points="202.5,281.19 200.25,285.44 204.75,285.44" fill="none" stroke="#ffa200" stroke-width="0.65"/>
<polygon points="204.5,281.19 202.25,285.44 206.75,285.44" fill="none" stroke="#ffa200" stroke-width="0.65"/>
<polygon points="206.5,281.19 204.25,285.44 208.75,285.44" fill="none" stroke="#ffa200" stroke-width="0.65"/>
<polygon points="208.5,281.19 206.25,285.44 210.75,285.44" fill="none" stroke="#ffa200" stroke-width="0.65"/>
<polygon points="210.5,281.19 208.25,285.44 212.75,285.44" fill="none" stroke="#ffa200" stroke-width="0.65"/>
<polygon points="212.5,281.19 210.25,285.44 214.75,285.44" fill="none" stroke="#ffa200" stroke-width="0.65"/>
<polygon points="214.5,281.19 212.25,285.44 216.75,285.44" fill="none" stroke="#ffa200" stroke-width="0.65"/>
<polygon points="216.5,281.19 214.25,285.44 218.75,285.44" fill="none" stroke="#ffa200" stroke-width="0.65"/>
<polygon points="218.5,281.19 216.25,285.44 220.75,285.44" fill="none" stroke="#ffa200" stroke-width="0.65"/>
<polygon points="220.5,281.19 218.25,285.44 222.75,285.44" fill="none" stroke="#ffa200" stroke-width="0.65"/>
<polygon points="222.5,281.19 220.25,285.44 224.75,285.44" fill="none" stroke="#ffa200" stroke-width="0.65"/>
<polygon points="224.5,281.19 222.25,285.44 226.75,285.44" fill="none" stroke="#ffa200" stroke-width="0.65"/>
<polygon points="226.5,281.19 224.25,285.44 228.75,285.44" fill="none" stroke="#ffa200" stroke-width="0.65"/>
<polygon points="228.5,281.19 226.25,285.44 230.75,285.44" fill="none" stroke="#ffa200" stroke-width="0.65"/>
<polygon points="230.5,281.19 228.25,285.44 232.75,285.44" fill="none" stroke="#ffa200" stroke-width="0.65"/>
<polygon points="232.5,281.19 230.25,285.44 234.75,285.44" fill="none" stroke="#ffa200" stroke-width="0.65"/>
<polygon points="234.5,281.19 232.25,285.44 236.75,285.44" fill="none" stroke="#ffa200" stroke-width="0.65"/>
<polygon points="236.5,281.19 234.25,285.44 238.75,285.44" fill="none" stroke="#ffa200" stroke-width="0.65"/>
<polygon points="238.5,281.19 236.25,285.44 240.75,285.44" fill="none" stroke="#ffa200" stroke-width="0.65"/>
<polygon points="240.5,281.19 238.25,285.44 242.75,285.44" fill="none" stroke="#ffa200" stroke-width="0.65"/>
<polygon points="242.5,281.19 240.25,285.44 244.75,285.44" fill="none" stroke="#ffa200" stroke-width="0.65"/>
<polygon points="244.5,281.19 242.25,285.44 246.75,285.44" fill="none" stroke="#ffa200" stroke-width="0.65"/>
<polygon points="246.5,281.19 244.25,285.44 248.75,285.44" fill="none" stroke="#ffa200" stroke-width="0.65"/>
<polygon points="248.5,281.19 246.25,285.44 250.75,285.44" fill="none" stroke="#ffa200" stroke-width="0.65"/>
<polygon points="250.5,281.19 248.25,285.44 252.75,285.44" fill="none" stroke="#ffa200" stroke-width="0.65"/>
<polygon points="252.5,281.19 250.25,285.44 254.75,285.44" fill="none" stroke="#ffa200" stroke-width="0.65"/>
<polygon points="254.5,281.19 252.25,285.44 256.75,285.44" fill="none" stroke="#ffa200" stroke-width="0.65"/>
<polygon points="256.5,281.19 254.25,285.44 258.75,285.44" fill="none" stroke="#ffa200" stroke-width="0.65"/>
<polygon points="258.5,281.19 256.25,285.44 260.75,285.44" fill="none" stroke="#ffa200" stroke-width="0.65"/>
<polygon points="260.5,281.19 258.25,285.44 262.75,285.44" fill="none" stroke="#ffa200" stroke-width="0.65"/>
<polygon points="262.5,281.19 260.25,285.44 264.75,285.44" fill="none" stroke="#ffa200" stroke-width="0.65"/>
<polygon points="264.5,281.19 262.25,285.44 266.75,285.44" fill="none" stroke="#ffa200" stroke-width="0.65"/>
<polygon points="266.5,281.19 264.25,285.44 268.75,285.44" fill="none" stroke="#ffa200" stroke-width="0.65"/>
<polygon points="268.5,281.19 266.25,285.44 270.75,285.44" fill="none" stroke="#ffa200" stroke-width="0.65"/>
<polygon points="270.5,281.19 268.25,285.44 272.75,285.44" fill="none" stroke="#ffa200" stroke-width="0.65"/>
<polygon points="272.5,281.19 270.25,285.44 274.75,285.44" fill="none" stroke="#ffa200" stroke-width="0.65"/>
<polygon points="274.5,281.19 272.25,285.44 276.75,285.44" fill="none" stroke="#ffa200" stroke-width="0.65"/>
<polygon points="276.5,281.19 274.25,285.44 278.75,285.44" fill="none" stroke="#ffa200" stroke-width="0.65"/>
<polygon points="278.5,281.19 276.25,285.44 280.75,285.44" fill="none" stroke="#ffa200" stroke-width="0.65"/>
<polygon points="280.5,281.19 278.25,285.44 282.75,285.44" fill="none" stroke="#ffa200" stroke-width="0.65"/>
<polygon points="282.5,281.19 280.25,285.44 284.75,285.44" fill="none" stroke="#ffa200" stroke-width="0.65"/>
<polygon points="284.5,281.19 282.25,285.44 286.75,285.44" fill="none" stroke="#ffa200" stroke-width="0.65"/>
<polygon points="286.5,281.19 284.25,285.44 288.75,285.44" fill="none" stroke="#ffa200" stroke-width="0.65"/>
<polygon points="288.5,281.19 286.25,285.44 290.75,285.44" fill="none" stroke="#ffa200" stroke-width="0.65"/>
<polygon points="290.5,281.19 288.25,285.44 292.75,285.44" fill="none" stroke="#ffa200" stroke-width="0.65"/>
<polygon points="292.5,281.19 290.25,285.44 294.75,285.44" fill="none" stroke="#ffa200" stroke-width="0.65"/>
<polygon points="294.5,281.19 292.25,285.44 296.75,285.44" fill="none" stroke="#ffa200" stroke-width="0.65"/>
<polygon points="296.5,281.19 294.25,285.44 298.75,285.44" fill="none" stroke="#ffa200" stroke-width="0.65"/>
<polygon points="298.5,281.19 296.25,285.44 300.75,285.44" fill="none" stroke="#ffa200" stroke-width="0.65"/>
<polygon points="300.5,281.19 298.25,285.44 302.75,285.44" fill="none" stroke="#ffa200" stroke-width="0.65"/>
<polygon points="302.5,281.19 300.25,285.44 304.75,285.44" fill="none" stroke="#ffa200" stroke-width="0.65"/>
<polygon points="304.5,281.19 302.25,285.44 306.75,285.44" fill="none" stroke="#ffa200" stroke-width="0.65"/>
<polygon points="306.5,281.19 304.25,285.44 308.75,285.44" fill="none" stroke="#ffa200" stroke-width="0.65"/>
<polygon points="308.5,281.19 306.25,285.44 310.75,285.44" fill="none" stroke="#ffa200" stroke-width="0.65"/>
<polygon points="310.5,281.19 308.25,285.44 312.75,285.44" fill="none" stroke="#ffa200" stroke-width="0.65"/>
<polygon points="312.5,281.19 310.25,285.44 314.75,285.44" fill="none" stroke="#ffa200" stroke-width="0.65"/>
<polygon points="314.5,281.19 312.25,285.44 316.75,285.44" fill="none" stroke="#ffa200" stroke-width="0.65"/>
<polygon points="316.5,281.19 314.25,285.44 318.75,285.44" fill="none" stroke="#ffa200" stroke-width="0.65"/>
<polygon points="318.5,281.19 316.25,285.44 320.75,285.44" fill="none" stroke="#ffa200" stroke-width="0.65"/>
<polygon points="320.5,281.19 318.25,285.44 322.75,285.44" fill="none" stroke="#ffa200" stroke-width="0.65"/>
<polygon points="322.5,281.19 320.25,285.44 324.75,285.44" fill="none" stroke="#ffa200" stroke-width="0.65"/>
<polygon points="324.5,281.19 322.25,285.44 326.75,285.44" fill="none" stroke="#ffa200" stroke-width="0.65"/>
<polygon points="326.5,281.19 324.25,285.44 328.75,285.44" fill="none" stroke="#ffa200" stroke-width="0.65"/>
<polygon points="328.5,281.19 326.25,285.44 330.75,285.44" fill="none" stroke="#ffa200" stroke-width="0.65"/>
<polygon points="330.5,281.19 328.25,285.44 332.75,285.44" fill="none" stroke="#ffa200" stroke-width="0.65"/>
<polygon points="332.5,281.19 330.25,285.44 334.75,285.44" fill="none" stroke="#ffa200" stroke-width="0.65"/>
<polygon points="334.5,281.19 332.25,285.44 336.75,285.44" fill="none" stroke="#ffa200" stroke-width="0.65"/>
<polygon points="336.5,281.19 334.25,285.44 338.75,285.44" fill="none" stroke="#ffa200" stroke-width="0.65"/>
<polygon points="338.5,281.03 336.25,285.28 340.75,285.28" fill="none" stroke="#ffa200" stroke-width="0.65"/>
<polygon points="340.5,280.63 338.25,284.88 342.75,284.88" fill="none" stroke="#ffa200" stroke-width="0.65"/>
<polygon points="342.5,280.08 340.25,284.33 344.75,284.33" fill="none" stroke="#ffa200" stroke-width="0.65"/>
<polygon points="344.5,279.4 342.25,283.65 346.75,283.65" fill="none" stroke="#ffa200" stroke-width="0.65"/>
<polygon points="346.5,278.63 344.25,282.88 348.75,282.88" fill="none" stroke="#ffa200" stroke-width="0.65"/>
<polygon points="348.5,277.78 346.25,282.03 350.75,282.03" fill="none" stroke="#ffa200" stroke-width="0.65"/>
<polygon points="350.5,276.87 348.25,281.12 352.75,281.12" fill="none" stroke="#ffa200" stroke-width="0.65"/>
<polygon points="352.5,275.91 350.25,280.16 354.75,280.16" fill="none" stroke="#ffa200" stroke-width="0.65"/>
<polygon points="354.5,274.91 352.25,279.16 356.75,279.16" fill="none" stroke="#ffa200" stroke-width="0.65"/>
<polygon points="356.5,273.89 354.25,278.14 358.75,278.14" fill="none" stroke="#ffa200" stroke-width="0.65"/>
<polygon points="358.5,272.86 356.25,277.11 360.75,277.11" fill="none" stroke="#ffa200" stroke-width="0.65"/>
<polygon points="360.5,271.85 358.25,276.1 362.75,276.1" fill="none" stroke="#ffa200" stroke-width="0.65"/>
<polygon points="362.5,270.86 360.25,275.11 364.75,275.11" fill="none" stroke="#ffa200" stroke-width="0.65"/>
<polygon points="364.5,269.91 362.25,274.16 366.75,274.16" fill="none" stroke="#ffa200" stroke-width="0.65"/>
<polygon points="366.5,269 364.25,273.25 368.75,273.25" fill="none" stroke="#ffa200" stroke-width="0.65"/>
<polygon points="368.5,268.16 366.25,272.41 370.75,272.41" fill="none" stroke="#ffa200" stroke-width="0.65"/>
<polygon points="370.5,267.38 368.25,271.63 372.75,271.63" fill="none" stroke="#ffa200" stroke-width="0.65"/>
<polygon points="372.5,266.67 370.25,270.92 374.75,270.92" fill="none" stroke="#ffa200" stroke-width="0.65"/>
<polygon points="374.5,266.03 372.25,270.28 376.75,270.28" fill="none" stroke="#ffa200" stroke-width="0.65"/>
<polygon points="376.5,265.46 374.25,269.71 378.75,269.71" fill="none" stroke="#ffa200" stroke-width="0.65"/>
<polygon points="378.5,264.96 376.25,269.21 380.75,269.21" fill="none" stroke="#ffa200" stroke-width="0.65"/>
<polygon points="380.5,264.53 378.25,268.78 382.75,268.78" fill="none" stroke="#ffa200" stroke-width="0.65"/>
<polygon points="382.5,264.15 380.25,268.4 384.75,268.4" fill="none" stroke="#ffa200" stroke-width="0.65"/>
<polygon points="384.5,263.83 382.25,268.08 386.75,268.08" fill="none" stroke="#ffa200" stroke-width="0.65"/>
<polygon points="386.5,263.56 384.25,267.81 388.75,267.81" fill="none" stroke="#ffa200" stroke-width="0.65"/>
<polygon points="388.5,263.34 386.25,267.59 390.75,267.59" fill="none" stroke="#ffa200" stroke-width="0.65"/>
<polygon points="390.5,263.15 388.25,267.4 392.75,267.4" fill="none" stroke="#ffa200" stroke-width="0.65"/>
<polygon points="392.5,263 390.25,267.25 394.75,267.25" fill="none" stroke="#ffa200" stroke-width="0.65"/>
<polygon points="394.5,262.88 392.25,267.13 396.75,267.13" fill="none" stroke="#ffa200" stroke-width="0.65"/>
<polygon points="396.5,262.78 394.25,267.03 398.75,267.03" fill="none" stroke="#ffa200" stroke-width="0.65"/>
<polygon points="398.5,262.7 396.25,266.95 400.75,266.95" fill="none" stroke="#ffa200" stroke-width="0.65"/>
<polygon points="400.5,262.65 398.25,266.9 402.75,266.9" fill="none" stroke="#ffa200" stroke-width="0.65"/>
<polygon points="402.5,262.71 400.25,266.96 404.75,266.96" fill="none" stroke="#ffa200" stroke-width="0.65"/>
<polygon points="404.5,262.82 402.25,267.07 406.75,267.07" fill="none" stroke="#ffa200" stroke-width="0.65"/>
<polygon points="406.5,262.89 404.25,267.14 408.75,267.14" fill="none" stroke="#ffa200" stroke-width="0.65"/>
<polygon points="408.5,263.04 406.25,267.29 410.75,267.29" fill="none" stroke="#ffa200" stroke-width="0.65"/>
<polygon points="410.5,263.08 408.25,267.33 412.75,267.33" fill="none" stroke="#ffa200" stroke-width="0.65"/>
<polygon points="412.5,263.29 410.25,267.54 414.75,267.54" fill="none" stroke="#ffa200" stroke-width="0.65"/>
<polygon points="414.5,263.26 412.25,267.51 416.75,267.51" fill="none" stroke="#ffa200" stroke-width="0.65"/>
<polygon points="416.5,263.59 414.25,267.84 418.75,267.84" fill="none" stroke="#ffa200" stroke-width="0.65"/>
<polygon points="418.5,263.41 416.25,267.66 420.75,267.66" fill="none" stroke="#ffa200" stroke-width="0.65"/>
<polygon points="420.5,263.96 418.25,268.21 422.75,268.21" fill="none" stroke="#ffa200" stroke-width="0.65"/>
<polygon points="422.5,263.48 420.25,267.73 424.75,267.73" fill="none" stroke="#ffa200" stroke-width="0.65"/>
<polygon points="424.5,264.44 422.25,268.69 426.75,268.69" fill="none" stroke="#ffa200" stroke-width="0.65"/>
<polygon points="426.5,263.4 424.25,267.65 428.75,267.65" fill="none" stroke="#ffa200" stroke-width="0.65"/>
<polygon points="428.5,265.12 426.25,269.37 430.75,269.37" fill="none" stroke="#ffa200" stroke-width="0.65"/>
<polygon points="430.5,263.08 428.25,267.33 432.75,267.33" fill="none" stroke="#ffa200" stroke-width="0.65"/>
<polygon points="432.5,266.11 430.25,270.36 434.75,270.36" fill="none" stroke="#ffa200" stroke-width="0.65"/>
<polygon points="434.5,262.37 432.25,266.62 436.75,266.62" fill="none" stroke="#ffa200" stroke-width="0.65"/>
<polygon points="436.5,267.57 434.25,271.82 438.75,271.82" fill="none" stroke="#ffa200" stroke-width="0.65"/>
<polygon points="438.5,261.06 436.25,265.31 440.75,265.31" fill="none" stroke="#ffa200" stroke-width="0.65"/>
<polygon points="440.5,269.7 438.25,273.95 442.75,273.95" fill="none" stroke="#ffa200" stroke-width="0.65"/>
<polygon points="442.5,258.9 440.25,263.15 444.75,263.15" fill="none" stroke="#ffa200" stroke-width="0.65"/>
<polygon points="444.5,272.75 442.25,277 446.75,277" fill="none" stroke="#ffa200" stroke-width="0.65"/>
<polygon points="446.5,255.56 444.25,259.81 448.75,259.81" fill="none" stroke="#ffa200" stroke-width="0.65"/>
<polygon points="448.5,276.9 446.25,281.15 450.75,281.15" fill="none" stroke="#ffa200" stroke-width="0.65"/>
<polygon points="450.5,250.65 448.25,254.9 452.75,254.9" fill="none" stroke="#ffa200" stroke-width="0.65"/>
<polygon points="452.5,281.19 450.25,285.44 454.75,285.44" fill="none" stroke="#ffa200" stroke-width="0.65"/>
<polygon points="454.5,243.58 452.25,247.83 456.75,247.83" fill="none" stroke="#ffa200" stroke-width="0.65"/>
<polygon points="456.5,281.19 454.25,285.44 458.75,285.44" fill="none" stroke="#ffa200" stroke-width="0.65"/>
<polygon points="458.5,233.25 456.25,237.5 460.75,237.5" fill="none" stroke="#ffa200" stroke-width="0.65"/>
<path d="M62.5 169.74 L64.5 267.6 L66.5 204.77 L68.5 243.69 L70.5 221.45 L72.5 237.57 L74.5 227.9 L76.5 234.01 L78.5 230.18 L80.5 233.51 L82.5 230.68 L84.5 233.05 L86.5 231.2 L88.5 232.64 L90.5 231.52 L92.5 232.4 L94.5 231.72 L96.5 232.24 L98.5 231.83 L100.5 232.15 L102.5 231.9 L104.5 232.1 L106.5 231.95 L108.5 232.06 L110.5 231.97 L112.5 232.04 L114.5 231.99 L116.5 232.03 L118.5 232 L120.5 232.02 L122.5 232 L124.5 232.02 L126.5 232.01 L128.5 232.02 L130.5 232.01 L132.5 232.02 L134.5 232.01 L136.5 232.01 L138.5 232.01 L140.5 232.01 L142.5 232.01 L144.5 232.01 L146.5 232.01 L148.5 231.46 L150.5 230.62 L152.5 228.68 L154.5 223.39 L156.5 213.94 L158.5 203.1 L160.5 46.42 L162.5 217.99 L164.5 258.44 L166.5 271.6 L168.5 277.41 L170.5 280.35 L172.5 281.96 L174.5 282.89 L176.5 283.45 L178.5 283.79 L180.5 284 L182.5 284.13 L184.5 284.22 L186.5 284.28 L188.5 284.31 L190.5 284.34 L192.5 284.35 L194.5 284.37 L196.5 284.37 L198.5 284.38 L200.5 284.38 L202.5 284.38 L204.5 284.38 L206.5 284.39 L208.5 284.39 L210.5 284.39 L212.5 284.39 L214.5 284.39 L216.5 284.39 L218.5 284.39 L220.5 284.39 L222.5 284.39 L224.5 284.39 L226.5 284.39 L228.5 284.39 L230.5 284.39 L232.5 284.39 L234.5 284.39 L236.5 284.39 L238.5 284.39 L240.5 284.39 L242.5 284.39 L244.5 284.39 L246.5 284.39 L248.5 284.39 L250.5 284.39 L252.5 284.39 L254.5 284.39 L256.5 284.39 L258.5 284.39 L260.5 284.39 L262.5 284.39 L264.5 284.39 L266.5 284.39 L268.5 284.39 L270.5 284.39 L272.5 284.39 L274.5 284.39 L276.5 284.39 L278.5 284.39 L280.5 284.39 L282.5 284.39 L284.5 284.39 L286.5 284.39 L288.5 284.39 L290.5 284.39 L292.5 284.39 L294.5 284.39 L296.5 284.39 L298.5 284.39 L300.5 284.39 L302.5 284.39 L304.5 284.39 L306.5 284.39 L308.5 284.39 L310.5 284.39 L312.5 284.39 L314.5 284.39 L316.5 284.39 L318.5 284.39 L320.5 284.39 L322.5 284.39 L324.5 284.39 L326.5 284.39 L328.5 284.39 L330.5 284.39 L332.5 284.39 L334.5 284.38 L336.5 284.38 L338.5 284.36 L340.5 284.34 L342.5 284.28 L344.5 284.15 L346.5 283.87 L348.5 283.28 L350.5 282.05 L352.5 279.59 L354.5 275.02 L356.5 267.61 L358.5 257.89 L360.5 248.18 L362.5 240.77 L364.5 236.2 L366.5 233.74 L368.5 232.51 L370.5 231.92 L372.5 231.64 L374.5 231.51 L376.5 231.45 L378.5 231.43 L380.5 231.41 L382.5 231.41 L384.5 231.41 L386.5 231.4 L388.5 231.4 L390.5 231.4 L392.5 231.41 L394.5 231.4 L396.5 231.41 L398.5 231.39 L400.5 231.41 L402.5 231.39 L404.5 231.42 L406.5 231.38 L408.5 231.43 L410.5 231.36 L412.5 231.45 L414.5 231.33 L416.5 231.49 L418.5 231.29 L420.5 231.54 L422.5 231.22 L424.5 231.63 L426.5 231.1 L428.5 231.78 L430.5 230.91 L432.5 232.03 L434.5 230.59 L436.5 232.44 L438.5 230.07 L440.5 232.9 L442.5 229.57 L444.5 233.4 L446.5 227.29 L448.5 236.96 L450.5 220.84 L452.5 243.08 L454.5 204.16 L456.5 266.99 L458.5 169.13" fill="none" stroke="#d4abff" stroke-width="0.9" stroke-linejoin="round"/>
<polygon points="62.5,167.19 60.55,169.74 62.5,172.29 64.45,169.74" fill="#b56cff" stroke="#b56cff" stroke-width="0.5"/>
<polygon points="64.5,265.05 62.55,267.6 64.5,270.15 66.45,267.6" fill="#b56cff" stroke="#b56cff" stroke-width="0.5"/>
<polygon points="66.5,202.22 64.55,204.77 66.5,207.32 68.45,204.77" fill="#b56cff" stroke="#b56cff" stroke-width="0.5"/>
<polygon points="68.5,241.14 66.55,243.69 68.5,246.24 70.45,243.69" fill="#b56cff" stroke="#b56cff" stroke-width="0.5"/>
<polygon points="70.5,218.9 68.55,221.45 70.5,224 72.45,221.45" fill="#b56cff" stroke="#b56cff" stroke-width="0.5"/>
<polygon points="72.5,235.02 70.55,237.57 72.5,240.12 74.45,237.57" fill="#b56cff" stroke="#b56cff" stroke-width="0.5"/>
<polygon points="74.5,225.35 72.55,227.9 74.5,230.45 76.45,227.9" fill="#b56cff" stroke="#b56cff" stroke-width="0.5"/>
<polygon points="76.5,231.46 74.55,234.01 76.5,236.56 78.45,234.01" fill="#b56cff" stroke="#b56cff" stroke-width="0.5"/>
<polygon points="78.5,227.63 76.55,230.18 78.5,232.73 80.45,230.18" fill="#b56cff" stroke="#b56cff" stroke-width="0.5"/>
<polygon points="80.5,230.96 78.55,233.51 80.5,236.06 82.45,233.51" fill="#b56cff" stroke="#b56cff" stroke-width="0.5"/>
<polygon points="82.5,228.13 80.55,230.68 82.5,233.23 84.45,230.68" fill="#b56cff" stroke="#b56cff" stroke-width="0.5"/>
<polygon points="84.5,230.5 82.55,233.05 84.5,235.6 86.45,233.05" fill="#b56cff" stroke="#b56cff" stroke-width="0.5"/>
<polygon points="86.5,228.65 84.55,231.2 86.5,233.75 88.45,231.2" fill="#b56cff" stroke="#b56cff" stroke-width="0.5"/>
<polygon points="88.5,230.09 86.55,232.64 88.5,235.19 90.45,232.64" fill="#b56cff" stroke="#b56cff" stroke-width="0.5"/>
<polygon points="90.5,228.97 88.55,231.52 90.5,234.07 92.45,231.52" fill="#b56cff" stroke="#b56cff" stroke-width="0.5"/>
<polygon points="92.5,229.85 90.55,232.4 92.5,234.95 94.45,232.4" fill="#b56cff" stroke="#b56cff" stroke-width="0.5"/>
<polygon points="94.5,229.17 92.55,231.72 94.5,234.27 96.45,231.72" fill="#b56cff" stroke="#b56cff" stroke-width="0.5"/>
<polygon points="96.5,229.69 94.55,232.24 96.5,234.79 98.45,232.24" fill="#b56cff" stroke="#b56cff" stroke-width="0.5"/>
<polygon points="98.5,229.28 96.55,231.83 98.5,234.38 100.45,231.83" fill="#b56cff" stroke="#b56cff" stroke-width="0.5"/>
<polygon points="100.5,229.6 98.55,232.15 100.5,234.7 102.45,232.15" fill="#b56cff" stroke="#b56cff" stroke-width="0.5"/>
<polygon points="102.5,229.35 100.55,231.9 102.5,234.45 104.45,231.9" fill="#b56cff" stroke="#b56cff" stroke-width="0.5"/>
<polygon points="104.5,229.55 102.55,232.1 104.5,234.65 106.45,232.1" fill="#b56cff" stroke="#b56cff" stroke-width="0.5"/>
<polygon points="106.5,229.4 104.55,231.95 106.5,234.5 108.45,231.95" fill="#b56cff" stroke="#b56cff" stroke-width="0.5"/>
<polygon points="108.5,229.51 106.55,232.06 108.5,234.61 110.45,232.06" fill="#b56cff" stroke="#b56cff" stroke-width="0.5"/>
<polygon points="110.5,229.42 108.55,231.97 110.5,234.52 112.45,231.97" fill="#b56cff" stroke="#b56cff" stroke-width="0.5"/>
<polygon points="112.5,229.49 110.55,232.04 112.5,234.59 114.45,232.04" fill="#b56cff" stroke="#b56cff" stroke-width="0.5"/>
<polygon points="114.5,229.44 112.55,231.99 114.5,234.54 116.45,231.99" fill="#b56cff" stroke="#b56cff" stroke-width="0.5"/>
<polygon points="116.5,229.48 114.55,232.03 116.5,234.58 118.45,232.03" fill="#b56cff" stroke="#b56cff" stroke-width="0.5"/>
<polygon points="118.5,229.45 116.55,232 118.5,234.55 120.45,232" fill="#b56cff" stroke="#b56cff" stroke-width="0.5"/>
<polygon points="120.5,229.47 118.55,232.02 120.5,234.57 122.45,232.02" fill="#b56cff" stroke="#b56cff" stroke-width="0.5"/>
<polygon points="122.5,229.45 120.55,232 122.5,234.55 124.45,232" fill="#b56cff" stroke="#b56cff" stroke-width="0.5"/>
<polygon points="124.5,229.47 122.55,232.02 124.5,234.57 126.45,232.02" fill="#b56cff" stroke="#b56cff" stroke-width="0.5"/>
<polygon points="126.5,229.46 124.55,232.01 126.5,234.56 128.45,232.01" fill="#b56cff" stroke="#b56cff" stroke-width="0.5"/>
<polygon points="128.5,229.47 126.55,232.02 128.5,234.57 130.45,232.02" fill="#b56cff" stroke="#b56cff" stroke-width="0.5"/>
<polygon points="130.5,229.46 128.55,232.01 130.5,234.56 132.45,232.01" fill="#b56cff" stroke="#b56cff" stroke-width="0.5"/>
<polygon points="132.5,229.47 130.55,232.02 132.5,234.57 134.45,232.02" fill="#b56cff" stroke="#b56cff" stroke-width="0.5"/>
<polygon points="134.5,229.46 132.55,232.01 134.5,234.56 136.45,232.01" fill="#b56cff" stroke="#b56cff" stroke-width="0.5"/>
<polygon points="136.5,229.46 134.55,232.01 136.5,234.56 138.45,232.01" fill="#b56cff" stroke="#b56cff" stroke-width="0.5"/>
<polygon points="138.5,229.46 136.55,232.01 138.5,234.56 140.45,232.01" fill="#b56cff" stroke="#b56cff" stroke-width="0.5"/>
<polygon points="140.5,229.46 138.55,232.01 140.5,234.56 142.45,232.01" fill="#b56cff" stroke="#b56cff" stroke-width="0.5"/>
<polygon points="142.5,229.46 140.55,232.01 142.5,234.56 144.45,232.01" fill="#b56cff" stroke="#b56cff" stroke-width="0.5"/>
<polygon points="144.5,229.46 142.55,232.01 144.5,234.56 146.45,232.01" fill="#b56cff" stroke="#b56cff" stroke-width="0.5"/>
<polygon points="146.5,229.46 144.55,232.01 146.5,234.56 148.45,232.01" fill="#b56cff" stroke="#b56cff" stroke-width="0.5"/>
<polygon points="148.5,228.91 146.55,231.46 148.5,234.01 150.45,231.46" fill="#b56cff" stroke="#b56cff" stroke-width="0.5"/>
<polygon points="150.5,228.07 148.55,230.62 150.5,233.17 152.45,230.62" fill="#b56cff" stroke="#b56cff" stroke-width="0.5"/>
<polygon points="152.5,226.13 150.55,228.68 152.5,231.23 154.45,228.68" fill="#b56cff" stroke="#b56cff" stroke-width="0.5"/>
<polygon points="154.5,220.84 152.55,223.39 154.5,225.94 156.45,223.39" fill="#b56cff" stroke="#b56cff" stroke-width="0.5"/>
<polygon points="156.5,211.39 154.55,213.94 156.5,216.49 158.45,213.94" fill="#b56cff" stroke="#b56cff" stroke-width="0.5"/>
<polygon points="158.5,200.55 156.55,203.1 158.5,205.65 160.45,203.1" fill="#b56cff" stroke="#b56cff" stroke-width="0.5"/>
<polygon points="160.5,43.87 158.55,46.42 160.5,48.97 162.45,46.42" fill="#b56cff" stroke="#b56cff" stroke-width="0.5"/>
<polygon points="162.5,215.44 160.55,217.99 162.5,220.54 164.45,217.99" fill="none" stroke="#b56cff" stroke-width="0.65"/>
<polygon points="164.5,255.89 162.55,258.44 164.5,260.99 166.45,258.44" fill="none" stroke="#b56cff" stroke-width="0.65"/>
<polygon points="166.5,269.05 164.55,271.6 166.5,274.15 168.45,271.6" fill="none" stroke="#b56cff" stroke-width="0.65"/>
<polygon points="168.5,274.86 166.55,277.41 168.5,279.96 170.45,277.41" fill="none" stroke="#b56cff" stroke-width="0.65"/>
<polygon points="170.5,277.8 168.55,280.35 170.5,282.9 172.45,280.35" fill="none" stroke="#b56cff" stroke-width="0.65"/>
<polygon points="172.5,279.41 170.55,281.96 172.5,284.51 174.45,281.96" fill="none" stroke="#b56cff" stroke-width="0.65"/>
<polygon points="174.5,280.34 172.55,282.89 174.5,285.44 176.45,282.89" fill="none" stroke="#b56cff" stroke-width="0.65"/>
<polygon points="176.5,280.9 174.55,283.45 176.5,286 178.45,283.45" fill="none" stroke="#b56cff" stroke-width="0.65"/>
<polygon points="178.5,281.24 176.55,283.79 178.5,286.34 180.45,283.79" fill="none" stroke="#b56cff" stroke-width="0.65"/>
<polygon points="180.5,281.45 178.55,284 180.5,286.55 182.45,284" fill="none" stroke="#b56cff" stroke-width="0.65"/>
<polygon points="182.5,281.58 180.55,284.13 182.5,286.68 184.45,284.13" fill="none" stroke="#b56cff" stroke-width="0.65"/>
<polygon points="184.5,281.67 182.55,284.22 184.5,286.77 186.45,284.22" fill="none" stroke="#b56cff" stroke-width="0.65"/>
<polygon points="186.5,281.73 184.55,284.28 186.5,286.83 188.45,284.28" fill="none" stroke="#b56cff" stroke-width="0.65"/>
<polygon points="188.5,281.76 186.55,284.31 188.5,286.86 190.45,284.31" fill="none" stroke="#b56cff" stroke-width="0.65"/>
<polygon points="190.5,281.79 188.55,284.34 190.5,286.89 192.45,284.34" fill="none" stroke="#b56cff" stroke-width="0.65"/>
<polygon points="192.5,281.8 190.55,284.35 192.5,286.9 194.45,284.35" fill="none" stroke="#b56cff" stroke-width="0.65"/>
<polygon points="194.5,281.82 192.55,284.37 194.5,286.92 196.45,284.37" fill="none" stroke="#b56cff" stroke-width="0.65"/>
<polygon points="196.5,281.82 194.55,284.37 196.5,286.92 198.45,284.37" fill="none" stroke="#b56cff" stroke-width="0.65"/>
<polygon points="198.5,281.83 196.55,284.38 198.5,286.93 200.45,284.38" fill="none" stroke="#b56cff" stroke-width="0.65"/>
<polygon points="200.5,281.83 198.55,284.38 200.5,286.93 202.45,284.38" fill="none" stroke="#b56cff" stroke-width="0.65"/>
<polygon points="202.5,281.83 200.55,284.38 202.5,286.93 204.45,284.38" fill="none" stroke="#b56cff" stroke-width="0.65"/>
<polygon points="204.5,281.83 202.55,284.38 204.5,286.93 206.45,284.38" fill="none" stroke="#b56cff" stroke-width="0.65"/>
<polygon points="206.5,281.84 204.55,284.39 206.5,286.94 208.45,284.39" fill="none" stroke="#b56cff" stroke-width="0.65"/>
<polygon points="208.5,281.84 206.55,284.39 208.5,286.94 210.45,284.39" fill="none" stroke="#b56cff" stroke-width="0.65"/>
<polygon points="210.5,281.84 208.55,284.39 210.5,286.94 212.45,284.39" fill="none" stroke="#b56cff" stroke-width="0.65"/>
<polygon points="212.5,281.84 210.55,284.39 212.5,286.94 214.45,284.39" fill="none" stroke="#b56cff" stroke-width="0.65"/>
<polygon points="214.5,281.84 212.55,284.39 214.5,286.94 216.45,284.39" fill="none" stroke="#b56cff" stroke-width="0.65"/>
<polygon points="216.5,281.84 214.55,284.39 216.5,286.94 218.45,284.39" fill="none" stroke="#b56cff" stroke-width="0.65"/>
<polygon points="218.5,281.84 216.55,284.39 218.5,286.94 220.45,284.39" fill="none" stroke="#b56cff" stroke-width="0.65"/>
<polygon points="220.5,281.84 218.55,284.39 220.5,286.94 222.45,284.39" fill="none" stroke="#b56cff" stroke-width="0.65"/>
<polygon points="222.5,281.84 220.55,284.39 222.5,286.94 224.45,284.39" fill="none" stroke="#b56cff" stroke-width="0.65"/>
<polygon points="224.5,281.84 222.55,284.39 224.5,286.94 226.45,284.39" fill="none" stroke="#b56cff" stroke-width="0.65"/>
<polygon points="226.5,281.84 224.55,284.39 226.5,286.94 228.45,284.39" fill="none" stroke="#b56cff" stroke-width="0.65"/>
<polygon points="228.5,281.84 226.55,284.39 228.5,286.94 230.45,284.39" fill="none" stroke="#b56cff" stroke-width="0.65"/>
<polygon points="230.5,281.84 228.55,284.39 230.5,286.94 232.45,284.39" fill="none" stroke="#b56cff" stroke-width="0.65"/>
<polygon points="232.5,281.84 230.55,284.39 232.5,286.94 234.45,284.39" fill="none" stroke="#b56cff" stroke-width="0.65"/>
<polygon points="234.5,281.84 232.55,284.39 234.5,286.94 236.45,284.39" fill="none" stroke="#b56cff" stroke-width="0.65"/>
<polygon points="236.5,281.84 234.55,284.39 236.5,286.94 238.45,284.39" fill="none" stroke="#b56cff" stroke-width="0.65"/>
<polygon points="238.5,281.84 236.55,284.39 238.5,286.94 240.45,284.39" fill="none" stroke="#b56cff" stroke-width="0.65"/>
<polygon points="240.5,281.84 238.55,284.39 240.5,286.94 242.45,284.39" fill="none" stroke="#b56cff" stroke-width="0.65"/>
<polygon points="242.5,281.84 240.55,284.39 242.5,286.94 244.45,284.39" fill="none" stroke="#b56cff" stroke-width="0.65"/>
<polygon points="244.5,281.84 242.55,284.39 244.5,286.94 246.45,284.39" fill="none" stroke="#b56cff" stroke-width="0.65"/>
<polygon points="246.5,281.84 244.55,284.39 246.5,286.94 248.45,284.39" fill="none" stroke="#b56cff" stroke-width="0.65"/>
<polygon points="248.5,281.84 246.55,284.39 248.5,286.94 250.45,284.39" fill="none" stroke="#b56cff" stroke-width="0.65"/>
<polygon points="250.5,281.84 248.55,284.39 250.5,286.94 252.45,284.39" fill="none" stroke="#b56cff" stroke-width="0.65"/>
<polygon points="252.5,281.84 250.55,284.39 252.5,286.94 254.45,284.39" fill="none" stroke="#b56cff" stroke-width="0.65"/>
<polygon points="254.5,281.84 252.55,284.39 254.5,286.94 256.45,284.39" fill="none" stroke="#b56cff" stroke-width="0.65"/>
<polygon points="256.5,281.84 254.55,284.39 256.5,286.94 258.45,284.39" fill="none" stroke="#b56cff" stroke-width="0.65"/>
<polygon points="258.5,281.84 256.55,284.39 258.5,286.94 260.45,284.39" fill="none" stroke="#b56cff" stroke-width="0.65"/>
<polygon points="260.5,281.84 258.55,284.39 260.5,286.94 262.45,284.39" fill="none" stroke="#b56cff" stroke-width="0.65"/>
<polygon points="262.5,281.84 260.55,284.39 262.5,286.94 264.45,284.39" fill="none" stroke="#b56cff" stroke-width="0.65"/>
<polygon points="264.5,281.84 262.55,284.39 264.5,286.94 266.45,284.39" fill="none" stroke="#b56cff" stroke-width="0.65"/>
<polygon points="266.5,281.84 264.55,284.39 266.5,286.94 268.45,284.39" fill="none" stroke="#b56cff" stroke-width="0.65"/>
<polygon points="268.5,281.84 266.55,284.39 268.5,286.94 270.45,284.39" fill="none" stroke="#b56cff" stroke-width="0.65"/>
<polygon points="270.5,281.84 268.55,284.39 270.5,286.94 272.45,284.39" fill="none" stroke="#b56cff" stroke-width="0.65"/>
<polygon points="272.5,281.84 270.55,284.39 272.5,286.94 274.45,284.39" fill="none" stroke="#b56cff" stroke-width="0.65"/>
<polygon points="274.5,281.84 272.55,284.39 274.5,286.94 276.45,284.39" fill="none" stroke="#b56cff" stroke-width="0.65"/>
<polygon points="276.5,281.84 274.55,284.39 276.5,286.94 278.45,284.39" fill="none" stroke="#b56cff" stroke-width="0.65"/>
<polygon points="278.5,281.84 276.55,284.39 278.5,286.94 280.45,284.39" fill="none" stroke="#b56cff" stroke-width="0.65"/>
<polygon points="280.5,281.84 278.55,284.39 280.5,286.94 282.45,284.39" fill="none" stroke="#b56cff" stroke-width="0.65"/>
<polygon points="282.5,281.84 280.55,284.39 282.5,286.94 284.45,284.39" fill="none" stroke="#b56cff" stroke-width="0.65"/>
<polygon points="284.5,281.84 282.55,284.39 284.5,286.94 286.45,284.39" fill="none" stroke="#b56cff" stroke-width="0.65"/>
<polygon points="286.5,281.84 284.55,284.39 286.5,286.94 288.45,284.39" fill="none" stroke="#b56cff" stroke-width="0.65"/>
<polygon points="288.5,281.84 286.55,284.39 288.5,286.94 290.45,284.39" fill="none" stroke="#b56cff" stroke-width="0.65"/>
<polygon points="290.5,281.84 288.55,284.39 290.5,286.94 292.45,284.39" fill="none" stroke="#b56cff" stroke-width="0.65"/>
<polygon points="292.5,281.84 290.55,284.39 292.5,286.94 294.45,284.39" fill="none" stroke="#b56cff" stroke-width="0.65"/>
<polygon points="294.5,281.84 292.55,284.39 294.5,286.94 296.45,284.39" fill="none" stroke="#b56cff" stroke-width="0.65"/>
<polygon points="296.5,281.84 294.55,284.39 296.5,286.94 298.45,284.39" fill="none" stroke="#b56cff" stroke-width="0.65"/>
<polygon points="298.5,281.84 296.55,284.39 298.5,286.94 300.45,284.39" fill="none" stroke="#b56cff" stroke-width="0.65"/>
<polygon points="300.5,281.84 298.55,284.39 300.5,286.94 302.45,284.39" fill="none" stroke="#b56cff" stroke-width="0.65"/>
<polygon points="302.5,281.84 300.55,284.39 302.5,286.94 304.45,284.39" fill="none" stroke="#b56cff" stroke-width="0.65"/>
<polygon points="304.5,281.84 302.55,284.39 304.5,286.94 306.45,284.39" fill="none" stroke="#b56cff" stroke-width="0.65"/>
<polygon points="306.5,281.84 304.55,284.39 306.5,286.94 308.45,284.39" fill="none" stroke="#b56cff" stroke-width="0.65"/>
<polygon points="308.5,281.84 306.55,284.39 308.5,286.94 310.45,284.39" fill="none" stroke="#b56cff" stroke-width="0.65"/>
<polygon points="310.5,281.84 308.55,284.39 310.5,286.94 312.45,284.39" fill="none" stroke="#b56cff" stroke-width="0.65"/>
<polygon points="312.5,281.84 310.55,284.39 312.5,286.94 314.45,284.39" fill="none" stroke="#b56cff" stroke-width="0.65"/>
<polygon points="314.5,281.84 312.55,284.39 314.5,286.94 316.45,284.39" fill="none" stroke="#b56cff" stroke-width="0.65"/>
<polygon points="316.5,281.84 314.55,284.39 316.5,286.94 318.45,284.39" fill="none" stroke="#b56cff" stroke-width="0.65"/>
<polygon points="318.5,281.84 316.55,284.39 318.5,286.94 320.45,284.39" fill="none" stroke="#b56cff" stroke-width="0.65"/>
<polygon points="320.5,281.84 318.55,284.39 320.5,286.94 322.45,284.39" fill="none" stroke="#b56cff" stroke-width="0.65"/>
<polygon points="322.5,281.84 320.55,284.39 322.5,286.94 324.45,284.39" fill="none" stroke="#b56cff" stroke-width="0.65"/>
<polygon points="324.5,281.84 322.55,284.39 324.5,286.94 326.45,284.39" fill="none" stroke="#b56cff" stroke-width="0.65"/>
<polygon points="326.5,281.84 324.55,284.39 326.5,286.94 328.45,284.39" fill="none" stroke="#b56cff" stroke-width="0.65"/>
<polygon points="328.5,281.84 326.55,284.39 328.5,286.94 330.45,284.39" fill="none" stroke="#b56cff" stroke-width="0.65"/>
<polygon points="330.5,281.84 328.55,284.39 330.5,286.94 332.45,284.39" fill="none" stroke="#b56cff" stroke-width="0.65"/>
<polygon points="332.5,281.84 330.55,284.39 332.5,286.94 334.45,284.39" fill="none" stroke="#b56cff" stroke-width="0.65"/>
<polygon points="334.5,281.83 332.55,284.38 334.5,286.93 336.45,284.38" fill="none" stroke="#b56cff" stroke-width="0.65"/>
<polygon points="336.5,281.83 334.55,284.38 336.5,286.93 338.45,284.38" fill="none" stroke="#b56cff" stroke-width="0.65"/>
<polygon points="338.5,281.81 336.55,284.36 338.5,286.91 340.45,284.36" fill="none" stroke="#b56cff" stroke-width="0.65"/>
<polygon points="340.5,281.79 338.55,284.34 340.5,286.89 342.45,284.34" fill="none" stroke="#b56cff" stroke-width="0.65"/>
<polygon points="342.5,281.73 340.55,284.28 342.5,286.83 344.45,284.28" fill="none" stroke="#b56cff" stroke-width="0.65"/>
<polygon points="344.5,281.6 342.55,284.15 344.5,286.7 346.45,284.15" fill="none" stroke="#b56cff" stroke-width="0.65"/>
<polygon points="346.5,281.32 344.55,283.87 346.5,286.42 348.45,283.87" fill="none" stroke="#b56cff" stroke-width="0.65"/>
<polygon points="348.5,280.73 346.55,283.28 348.5,285.83 350.45,283.28" fill="none" stroke="#b56cff" stroke-width="0.65"/>
<polygon points="350.5,279.5 348.55,282.05 350.5,284.6 352.45,282.05" fill="none" stroke="#b56cff" stroke-width="0.65"/>
<polygon points="352.5,277.04 350.55,279.59 352.5,282.14 354.45,279.59" fill="none" stroke="#b56cff" stroke-width="0.65"/>
<polygon points="354.5,272.47 352.55,275.02 354.5,277.57 356.45,275.02" fill="none" stroke="#b56cff" stroke-width="0.65"/>
<polygon points="356.5,265.06 354.55,267.61 356.5,270.16 358.45,267.61" fill="none" stroke="#b56cff" stroke-width="0.65"/>
<polygon points="358.5,255.34 356.55,257.89 358.5,260.44 360.45,257.89" fill="none" stroke="#b56cff" stroke-width="0.65"/>
<polygon points="360.5,245.63 358.55,248.18 360.5,250.73 362.45,248.18" fill="none" stroke="#b56cff" stroke-width="0.65"/>
<polygon points="362.5,238.22 360.55,240.77 362.5,243.32 364.45,240.77" fill="none" stroke="#b56cff" stroke-width="0.65"/>
<polygon points="364.5,233.65 362.55,236.2 364.5,238.75 366.45,236.2" fill="none" stroke="#b56cff" stroke-width="0.65"/>
<polygon points="366.5,231.19 364.55,233.74 366.5,236.29 368.45,233.74" fill="none" stroke="#b56cff" stroke-width="0.65"/>
<polygon points="368.5,229.96 366.55,232.51 368.5,235.06 370.45,232.51" fill="none" stroke="#b56cff" stroke-width="0.65"/>
<polygon points="370.5,229.37 368.55,231.92 370.5,234.47 372.45,231.92" fill="none" stroke="#b56cff" stroke-width="0.65"/>
<polygon points="372.5,229.09 370.55,231.64 372.5,234.19 374.45,231.64" fill="none" stroke="#b56cff" stroke-width="0.65"/>
<polygon points="374.5,228.96 372.55,231.51 374.5,234.06 376.45,231.51" fill="none" stroke="#b56cff" stroke-width="0.65"/>
<polygon points="376.5,228.9 374.55,231.45 376.5,234 378.45,231.45" fill="none" stroke="#b56cff" stroke-width="0.65"/>
<polygon points="378.5,228.88 376.55,231.43 378.5,233.98 380.45,231.43" fill="none" stroke="#b56cff" stroke-width="0.65"/>
<polygon points="380.5,228.86 378.55,231.41 380.5,233.96 382.45,231.41" fill="none" stroke="#b56cff" stroke-width="0.65"/>
<polygon points="382.5,228.86 380.55,231.41 382.5,233.96 384.45,231.41" fill="none" stroke="#b56cff" stroke-width="0.65"/>
<polygon points="384.5,228.86 382.55,231.41 384.5,233.96 386.45,231.41" fill="none" stroke="#b56cff" stroke-width="0.65"/>
<polygon points="386.5,228.85 384.55,231.4 386.5,233.95 388.45,231.4" fill="none" stroke="#b56cff" stroke-width="0.65"/>
<polygon points="388.5,228.85 386.55,231.4 388.5,233.95 390.45,231.4" fill="none" stroke="#b56cff" stroke-width="0.65"/>
<polygon points="390.5,228.85 388.55,231.4 390.5,233.95 392.45,231.4" fill="none" stroke="#b56cff" stroke-width="0.65"/>
<polygon points="392.5,228.86 390.55,231.41 392.5,233.96 394.45,231.41" fill="none" stroke="#b56cff" stroke-width="0.65"/>
<polygon points="394.5,228.85 392.55,231.4 394.5,233.95 396.45,231.4" fill="none" stroke="#b56cff" stroke-width="0.65"/>
<polygon points="396.5,228.86 394.55,231.41 396.5,233.96 398.45,231.41" fill="none" stroke="#b56cff" stroke-width="0.65"/>
<polygon points="398.5,228.84 396.55,231.39 398.5,233.94 400.45,231.39" fill="none" stroke="#b56cff" stroke-width="0.65"/>
<polygon points="400.5,228.86 398.55,231.41 400.5,233.96 402.45,231.41" fill="none" stroke="#b56cff" stroke-width="0.65"/>
<polygon points="402.5,228.84 400.55,231.39 402.5,233.94 404.45,231.39" fill="none" stroke="#b56cff" stroke-width="0.65"/>
<polygon points="404.5,228.87 402.55,231.42 404.5,233.97 406.45,231.42" fill="none" stroke="#b56cff" stroke-width="0.65"/>
<polygon points="406.5,228.83 404.55,231.38 406.5,233.93 408.45,231.38" fill="none" stroke="#b56cff" stroke-width="0.65"/>
<polygon points="408.5,228.88 406.55,231.43 408.5,233.98 410.45,231.43" fill="none" stroke="#b56cff" stroke-width="0.65"/>
<polygon points="410.5,228.81 408.55,231.36 410.5,233.91 412.45,231.36" fill="none" stroke="#b56cff" stroke-width="0.65"/>
<polygon points="412.5,228.9 410.55,231.45 412.5,234 414.45,231.45" fill="none" stroke="#b56cff" stroke-width="0.65"/>
<polygon points="414.5,228.78 412.55,231.33 414.5,233.88 416.45,231.33" fill="none" stroke="#b56cff" stroke-width="0.65"/>
<polygon points="416.5,228.94 414.55,231.49 416.5,234.04 418.45,231.49" fill="none" stroke="#b56cff" stroke-width="0.65"/>
<polygon points="418.5,228.74 416.55,231.29 418.5,233.84 420.45,231.29" fill="none" stroke="#b56cff" stroke-width="0.65"/>
<polygon points="420.5,228.99 418.55,231.54 420.5,234.09 422.45,231.54" fill="none" stroke="#b56cff" stroke-width="0.65"/>
<polygon points="422.5,228.67 420.55,231.22 422.5,233.77 424.45,231.22" fill="none" stroke="#b56cff" stroke-width="0.65"/>
<polygon points="424.5,229.08 422.55,231.63 424.5,234.18 426.45,231.63" fill="none" stroke="#b56cff" stroke-width="0.65"/>
<polygon points="426.5,228.55 424.55,231.1 426.5,233.65 428.45,231.1" fill="none" stroke="#b56cff" stroke-width="0.65"/>
<polygon points="428.5,229.23 426.55,231.78 428.5,234.33 430.45,231.78" fill="none" stroke="#b56cff" stroke-width="0.65"/>
<polygon points="430.5,228.36 428.55,230.91 430.5,233.46 432.45,230.91" fill="none" stroke="#b56cff" stroke-width="0.65"/>
<polygon points="432.5,229.48 430.55,232.03 432.5,234.58 434.45,232.03" fill="none" stroke="#b56cff" stroke-width="0.65"/>
<polygon points="434.5,228.04 432.55,230.59 434.5,233.14 436.45,230.59" fill="none" stroke="#b56cff" stroke-width="0.65"/>
<polygon points="436.5,229.89 434.55,232.44 436.5,234.99 438.45,232.44" fill="none" stroke="#b56cff" stroke-width="0.65"/>
<polygon points="438.5,227.52 436.55,230.07 438.5,232.62 440.45,230.07" fill="none" stroke="#b56cff" stroke-width="0.65"/>
<polygon points="440.5,230.35 438.55,232.9 440.5,235.45 442.45,232.9" fill="none" stroke="#b56cff" stroke-width="0.65"/>
<polygon points="442.5,227.02 440.55,229.57 442.5,232.12 444.45,229.57" fill="none" stroke="#b56cff" stroke-width="0.65"/>
<polygon points="444.5,230.85 442.55,233.4 444.5,235.95 446.45,233.4" fill="none" stroke="#b56cff" stroke-width="0.65"/>
<polygon points="446.5,224.74 444.55,227.29 446.5,229.84 448.45,227.29" fill="none" stroke="#b56cff" stroke-width="0.65"/>
<polygon points="448.5,234.41 446.55,236.96 448.5,239.51 450.45,236.96" fill="none" stroke="#b56cff" stroke-width="0.65"/>
<polygon points="450.5,218.29 448.55,220.84 450.5,223.39 452.45,220.84" fill="none" stroke="#b56cff" stroke-width="0.65"/>
<polygon points="452.5,240.53 450.55,243.08 452.5,245.63 454.45,243.08" fill="none" stroke="#b56cff" stroke-width="0.65"/>
<polygon points="454.5,201.61 452.55,204.16 454.5,206.71 456.45,204.16" fill="none" stroke="#b56cff" stroke-width="0.65"/>
<polygon points="456.5,264.44 454.55,266.99 456.5,269.54 458.45,266.99" fill="none" stroke="#b56cff" stroke-width="0.65"/>
<polygon points="458.5,166.58 456.55,169.13 458.5,171.68 460.45,169.13" fill="none" stroke="#b56cff" stroke-width="0.65"/>
<path d="M62.5 67.55 L64.5 181.31 L66.5 144.9 L68.5 156.55 L70.5 152.82 L72.5 154.02 L74.5 153.64 L76.5 153.76 L78.5 153.72 L80.5 153.73 L82.5 153.73 L84.5 153.73 L86.5 153.73 L88.5 153.73 L90.5 153.73 L92.5 153.73 L94.5 153.73 L96.5 153.73 L98.5 153.73 L100.5 153.73 L102.5 153.73 L104.5 153.73 L106.5 153.73 L108.5 153.73 L110.5 153.73 L112.5 153.73 L114.5 153.73 L116.5 153.73 L118.5 153.73 L120.5 153.73 L122.5 153.73 L124.5 153.73 L126.5 153.73 L128.5 153.73 L130.5 153.73 L132.5 153.73 L134.5 153.73 L136.5 153.73 L138.5 153.73 L140.5 153.73 L142.5 153.73 L144.5 153.73 L146.5 153.73 L148.5 153.73 L150.5 153.73 L152.5 153.73 L154.5 152.62 L156.5 149.84 L158.5 138.16 L160.5 15.84 L162.5 246.47 L164.5 274.32 L166.5 282.3 L168.5 284.58 L170.5 284.83 L172.5 284.83 L174.5 284.83 L176.5 284.83 L178.5 284.83 L180.5 284.83 L182.5 284.83 L184.5 284.83 L186.5 284.83 L188.5 284.83 L190.5 284.83 L192.5 284.83 L194.5 284.83 L196.5 284.83 L198.5 284.83 L200.5 284.83 L202.5 284.83 L204.5 284.83 L206.5 284.83 L208.5 284.83 L210.5 284.83 L212.5 284.83 L214.5 284.83 L216.5 284.83 L218.5 284.83 L220.5 284.83 L222.5 284.83 L224.5 284.83 L226.5 284.83 L228.5 284.83 L230.5 284.83 L232.5 284.83 L234.5 284.83 L236.5 284.83 L238.5 284.83 L240.5 284.83 L242.5 284.83 L244.5 284.83 L246.5 284.83 L248.5 284.83 L250.5 284.83 L252.5 284.83 L254.5 284.83 L256.5 284.83 L258.5 284.83 L260.5 284.83 L262.5 284.83 L264.5 284.83 L266.5 284.83 L268.5 284.83 L270.5 284.83 L272.5 284.83 L274.5 284.83 L276.5 284.83 L278.5 284.83 L280.5 284.83 L282.5 284.83 L284.5 284.83 L286.5 284.83 L288.5 284.83 L290.5 284.83 L292.5 284.83 L294.5 284.83 L296.5 284.83 L298.5 284.83 L300.5 284.83 L302.5 284.83 L304.5 284.83 L306.5 284.83 L308.5 284.83 L310.5 284.83 L312.5 284.83 L314.5 284.83 L316.5 284.83 L318.5 284.83 L320.5 284.83 L322.5 284.83 L324.5 284.83 L326.5 284.83 L328.5 284.83 L330.5 284.83 L332.5 284.83 L334.5 284.83 L336.5 284.83 L338.5 284.83 L340.5 284.83 L342.5 284.83 L344.5 284.83 L346.5 284.83 L348.5 284.83 L350.5 284.83 L352.5 284.83 L354.5 284.39 L356.5 280.5 L358.5 261.2 L360.5 187.09 L362.5 169.52 L364.5 155.01 L366.5 154.23 L368.5 154.01 L370.5 154.01 L372.5 154.01 L374.5 154.01 L376.5 154.01 L378.5 154.01 L380.5 154.01 L382.5 154.01 L384.5 154.01 L386.5 154.01 L388.5 154.01 L390.5 154.01 L392.5 154.01 L394.5 154.01 L396.5 154.01 L398.5 154.01 L400.5 154.01 L402.5 154.01 L404.5 154.01 L406.5 154.01 L408.5 154.01 L410.5 154.01 L412.5 154.01 L414.5 154.01 L416.5 154.01 L418.5 154.01 L420.5 154.01 L422.5 154.01 L424.5 154.01 L426.5 154.01 L428.5 154.01 L430.5 154.01 L432.5 154.01 L434.5 154.01 L436.5 154.01 L438.5 154.01 L440.5 154.01 L442.5 154 L444.5 154.04 L446.5 153.91 L448.5 154.3 L450.5 153.1 L452.5 156.83 L454.5 145.18 L456.5 181.58 L458.5 67.83" fill="none" stroke="#d0d0d0" stroke-width="0.9" stroke-linejoin="round"/>
<circle cx="62.5" cy="67.55" r="2.1" fill="none" stroke="#a4a4a4" stroke-width="0.6"/>
<circle cx="64.5" cy="181.31" r="2.1" fill="none" stroke="#a4a4a4" stroke-width="0.6"/>
<circle cx="66.5" cy="144.9" r="2.1" fill="none" stroke="#a4a4a4" stroke-width="0.6"/>
<circle cx="68.5" cy="156.55" r="2.1" fill="none" stroke="#a4a4a4" stroke-width="0.6"/>
<circle cx="70.5" cy="152.82" r="2.1" fill="none" stroke="#a4a4a4" stroke-width="0.6"/>
<circle cx="72.5" cy="154.02" r="2.1" fill="none" stroke="#a4a4a4" stroke-width="0.6"/>
<circle cx="74.5" cy="153.64" r="2.1" fill="none" stroke="#a4a4a4" stroke-width="0.6"/>
<circle cx="76.5" cy="153.76" r="2.1" fill="none" stroke="#a4a4a4" stroke-width="0.6"/>
<circle cx="78.5" cy="153.72" r="2.1" fill="none" stroke="#a4a4a4" stroke-width="0.6"/>
<circle cx="80.5" cy="153.73" r="2.1" fill="none" stroke="#a4a4a4" stroke-width="0.6"/>
<circle cx="82.5" cy="153.73" r="2.1" fill="none" stroke="#a4a4a4" stroke-width="0.6"/>
<circle cx="84.5" cy="153.73" r="2.1" fill="none" stroke="#a4a4a4" stroke-width="0.6"/>
<circle cx="86.5" cy="153.73" r="2.1" fill="none" stroke="#a4a4a4" stroke-width="0.6"/>
<circle cx="88.5" cy="153.73" r="2.1" fill="none" stroke="#a4a4a4" stroke-width="0.6"/>
<circle cx="90.5" cy="153.73" r="2.1" fill="none" stroke="#a4a4a4" stroke-width="0.6"/>
<circle cx="92.5" cy="153.73" r="2.1" fill="none" stroke="#a4a4a4" stroke-width="0.6"/>
<circle cx="94.5" cy="153.73" r="2.1" fill="none" stroke="#a4a4a4" stroke-width="0.6"/>
<circle cx="96.5" cy="153.73" r="2.1" fill="none" stroke="#a4a4a4" stroke-width="0.6"/>
<circle cx="98.5" cy="153.73" r="2.1" fill="none" stroke="#a4a4a4" stroke-width="0.6"/>
<circle cx="100.5" cy="153.73" r="2.1" fill="none" stroke="#a4a4a4" stroke-width="0.6"/>
<circle cx="102.5" cy="153.73" r="2.1" fill="none" stroke="#a4a4a4" stroke-width="0.6"/>
<circle cx="104.5" cy="153.73" r="2.1" fill="none" stroke="#a4a4a4" stroke-width="0.6"/>
<circle cx="106.5" cy="153.73" r="2.1" fill="none" stroke="#a4a4a4" stroke-width="0.6"/>
<circle cx="108.5" cy="153.73" r="2.1" fill="none" stroke="#a4a4a4" stroke-width="0.6"/>
<circle cx="110.5" cy="153.73" r="2.1" fill="none" stroke="#a4a4a4" stroke-width="0.6"/>
<circle cx="112.5" cy="153.73" r="2.1" fill="none" stroke="#a4a4a4" stroke-width="0.6"/>
<circle cx="114.5" cy="153.73" r="2.1" fill="none" stroke="#a4a4a4" stroke-width="0.6"/>
<circle cx="116.5" cy="153.73" r="2.1" fill="none" stroke="#a4a4a4" stroke-width="0.6"/>
<circle cx="118.5" cy="153.73" r="2.1" fill="none" stroke="#a4a4a4" stroke-width="0.6"/>
<circle cx="120.5" cy="153.73" r="2.1" fill="none" stroke="#a4a4a4" stroke-width="0.6"/>
<circle cx="122.5" cy="153.73" r="2.1" fill="none" stroke="#a4a4a4" stroke-width="0.6"/>
<circle cx="124.5" cy="153.73" r="2.1" fill="none" stroke="#a4a4a4" stroke-width="0.6"/>
<circle cx="126.5" cy="153.73" r="2.1" fill="none" stroke="#a4a4a4" stroke-width="0.6"/>
<circle cx="128.5" cy="153.73" r="2.1" fill="none" stroke="#a4a4a4" stroke-width="0.6"/>
<circle cx="130.5" cy="153.73" r="2.1" fill="none" stroke="#a4a4a4" stroke-width="0.6"/>
<circle cx="132.5" cy="153.73" r="2.1" fill="none" stroke="#a4a4a4" stroke-width="0.6"/>
<circle cx="134.5" cy="153.73" r="2.1" fill="none" stroke="#a4a4a4" stroke-width="0.6"/>
<circle cx="136.5" cy="153.73" r="2.1" fill="none" stroke="#a4a4a4" stroke-width="0.6"/>
<circle cx="138.5" cy="153.73" r="2.1" fill="none" stroke="#a4a4a4" stroke-width="0.6"/>
<circle cx="140.5" cy="153.73" r="2.1" fill="none" stroke="#a4a4a4" stroke-width="0.6"/>
<circle cx="142.5" cy="153.73" r="2.1" fill="none" stroke="#a4a4a4" stroke-width="0.6"/>
<circle cx="144.5" cy="153.73" r="2.1" fill="none" stroke="#a4a4a4" stroke-width="0.6"/>
<circle cx="146.5" cy="153.73" r="2.1" fill="none" stroke="#a4a4a4" stroke-width="0.6"/>
<circle cx="148.5" cy="153.73" r="2.1" fill="none" stroke="#a4a4a4" stroke-width="0.6"/>
<circle cx="150.5" cy="153.73" r="2.1" fill="none" stroke="#a4a4a4" stroke-width="0.6"/>
<circle cx="152.5" cy="153.73" r="2.1" fill="none" stroke="#a4a4a4" stroke-width="0.6"/>
<circle cx="154.5" cy="152.62" r="2.1" fill="none" stroke="#a4a4a4" stroke-width="0.6"/>
<circle cx="156.5" cy="149.84" r="2.1" fill="none" stroke="#a4a4a4" stroke-width="0.6"/>
<circle cx="158.5" cy="138.16" r="2.1" fill="none" stroke="#a4a4a4" stroke-width="0.6"/>
<circle cx="160.5" cy="15.84" r="2.1" fill="none" stroke="#a4a4a4" stroke-width="0.6"/>
<circle cx="162.5" cy="246.47" r="2.1" fill="none" stroke="#a4a4a4" stroke-width="0.6"/>
<circle cx="164.5" cy="274.32" r="2.1" fill="none" stroke="#a4a4a4" stroke-width="0.6"/>
<circle cx="166.5" cy="282.3" r="2.1" fill="none" stroke="#a4a4a4" stroke-width="0.6"/>
<circle cx="168.5" cy="284.58" r="2.1" fill="none" stroke="#a4a4a4" stroke-width="0.6"/>
<circle cx="170.5" cy="284.83" r="2.1" fill="none" stroke="#a4a4a4" stroke-width="0.6"/>
<circle cx="172.5" cy="284.83" r="2.1" fill="none" stroke="#a4a4a4" stroke-width="0.6"/>
<circle cx="174.5" cy="284.83" r="2.1" fill="none" stroke="#a4a4a4" stroke-width="0.6"/>
<circle cx="176.5" cy="284.83" r="2.1" fill="none" stroke="#a4a4a4" stroke-width="0.6"/>
<circle cx="178.5" cy="284.83" r="2.1" fill="none" stroke="#a4a4a4" stroke-width="0.6"/>
<circle cx="180.5" cy="284.83" r="2.1" fill="none" stroke="#a4a4a4" stroke-width="0.6"/>
<circle cx="182.5" cy="284.83" r="2.1" fill="none" stroke="#a4a4a4" stroke-width="0.6"/>
<circle cx="184.5" cy="284.83" r="2.1" fill="none" stroke="#a4a4a4" stroke-width="0.6"/>
<circle cx="186.5" cy="284.83" r="2.1" fill="none" stroke="#a4a4a4" stroke-width="0.6"/>
<circle cx="188.5" cy="284.83" r="2.1" fill="none" stroke="#a4a4a4" stroke-width="0.6"/>
<circle cx="190.5" cy="284.83" r="2.1" fill="none" stroke="#a4a4a4" stroke-width="0.6"/>
<circle cx="192.5" cy="284.83" r="2.1" fill="none" stroke="#a4a4a4" stroke-width="0.6"/>
<circle cx="194.5" cy="284.83" r="2.1" fill="none" stroke="#a4a4a4" stroke-width="0.6"/>
<circle cx="196.5" cy="284.83" r="2.1" fill="none" stroke="#a4a4a4" stroke-width="0.6"/>
<circle cx="198.5" cy="284.83" r="2.1" fill="none" stroke="#a4a4a4" stroke-width="0.6"/>
<circle cx="200.5" cy="284.83" r="2.1" fill="none" stroke="#a4a4a4" stroke-width="0.6"/>
<circle cx="202.5" cy="284.83" r="2.1" fill="none" stroke="#a4a4a4" stroke-width="0.6"/>
<circle cx="204.5" cy="284.83" r="2.1" fill="none" stroke="#a4a4a4" stroke-width="0.6"/>
<circle cx="206.5" cy="284.83" r="2.1" fill="none" stroke="#a4a4a4" stroke-width="0.6"/>
<circle cx="208.5" cy="284.83" r="2.1" fill="none" stroke="#a4a4a4" stroke-width="0.6"/>
<circle cx="210.5" cy="284.83" r="2.1" fill="none" stroke="#a4a4a4" stroke-width="0.6"/>
<circle cx="212.5" cy="284.83" r="2.1" fill="none" stroke="#a4a4a4" stroke-width="0.6"/>
<circle cx="214.5" cy="284.83" r="2.1" fill="none" stroke="#a4a4a4" stroke-width="0.6"/>
<circle cx="216.5" cy="284.83" r="2.1" fill="none" stroke="#a4a4a4" stroke-width="0.6"/>
<circle cx="218.5" cy="284.83" r="2.1" fill="none" stroke="#a4a4a4" stroke-width="0.6"/>
<circle cx="220.5" cy="284.83" r="2.1" fill="none" stroke="#a4a4a4" stroke-width="0.6"/>
<circle cx="222.5" cy="284.83" r="2.1" fill="none" stroke="#a4a4a4" stroke-width="0.6"/>
<circle cx="224.5" cy="284.83" r="2.1" fill="none" stroke="#a4a4a4" stroke-width="0.6"/>
<circle cx="226.5" cy="284.83" r="2.1" fill="none" stroke="#a4a4a4" stroke-width="0.6"/>
<circle cx="228.5" cy="284.83" r="2.1" fill="none" stroke="#a4a4a4" stroke-width="0.6"/>
<circle cx="230.5" cy="284.83" r="2.1" fill="none" stroke="#a4a4a4" stroke-width="0.6"/>
<circle cx="232.5" cy="284.83" r="2.1" fill="none" stroke="#a4a4a4" stroke-width="0.6"/>
<circle cx="234.5" cy="284.83" r="2.1" fill="none" stroke="#a4a4a4" stroke-width="0.6"/>
<circle cx="236.5" cy="284.83" r="2.1" fill="none" stroke="#a4a4a4" stroke-width="0.6"/>
<circle cx="238.5" cy="284.83" r="2.1" fill="none" stroke="#a4a4a4" stroke-width="0.6"/>
<circle cx="240.5" cy="284.83" r="2.1" fill="none" stroke="#a4a4a4" stroke-width="0.6"/>
<circle cx="242.5" cy="284.83" r="2.1" fill="none" stroke="#a4a4a4" stroke-width="0.6"/>
<circle cx="244.5" cy="284.83" r="2.1" fill="none" stroke="#a4a4a4" stroke-width="0.6"/>
<circle cx="246.5" cy="284.83" r="2.1" fill="none" stroke="#a4a4a4" stroke-width="0.6"/>
<circle cx="248.5" cy="284.83" r="2.1" fill="none" stroke="#a4a4a4" stroke-width="0.6"/>
<circle cx="250.5" cy="284.83" r="2.1" fill="none" stroke="#a4a4a4" stroke-width="0.6"/>
<circle cx="252.5" cy="284.83" r="2.1" fill="none" stroke="#a4a4a4" stroke-width="0.6"/>
<circle cx="254.5" cy="284.83" r="2.1" fill="none" stroke="#a4a4a4" stroke-width="0.6"/>
<circle cx="256.5" cy="284.83" r="2.1" fill="none" stroke="#a4a4a4" stroke-width="0.6"/>
<circle cx="258.5" cy="284.83" r="2.1" fill="none" stroke="#a4a4a4" stroke-width="0.6"/>
<circle cx="260.5" cy="284.83" r="2.1" fill="none" stroke="#a4a4a4" stroke-width="0.6"/>
<circle cx="262.5" cy="284.83" r="2.1" fill="none" stroke="#a4a4a4" stroke-width="0.6"/>
<circle cx="264.5" cy="284.83" r="2.1" fill="none" stroke="#a4a4a4" stroke-width="0.6"/>
<circle cx="266.5" cy="284.83" r="2.1" fill="none" stroke="#a4a4a4" stroke-width="0.6"/>
<circle cx="268.5" cy="284.83" r="2.1" fill="none" stroke="#a4a4a4" stroke-width="0.6"/>
<circle cx="270.5" cy="284.83" r="2.1" fill="none" stroke="#a4a4a4" stroke-width="0.6"/>
<circle cx="272.5" cy="284.83" r="2.1" fill="none" stroke="#a4a4a4" stroke-width="0.6"/>
<circle cx="274.5" cy="284.83" r="2.1" fill="none" stroke="#a4a4a4" stroke-width="0.6"/>
<circle cx="276.5" cy="284.83" r="2.1" fill="none" stroke="#a4a4a4" stroke-width="0.6"/>
<circle cx="278.5" cy="284.83" r="2.1" fill="none" stroke="#a4a4a4" stroke-width="0.6"/>
<circle cx="280.5" cy="284.83" r="2.1" fill="none" stroke="#a4a4a4" stroke-width="0.6"/>
<circle cx="282.5" cy="284.83" r="2.1" fill="none" stroke="#a4a4a4" stroke-width="0.6"/>
<circle cx="284.5" cy="284.83" r="2.1" fill="none" stroke="#a4a4a4" stroke-width="0.6"/>
<circle cx="286.5" cy="284.83" r="2.1" fill="none" stroke="#a4a4a4" stroke-width="0.6"/>
<circle cx="288.5" cy="284.83" r="2.1" fill="none" stroke="#a4a4a4" stroke-width="0.6"/>
<circle cx="290.5" cy="284.83" r="2.1" fill="none" stroke="#a4a4a4" stroke-width="0.6"/>
<circle cx="292.5" cy="284.83" r="2.1" fill="none" stroke="#a4a4a4" stroke-width="0.6"/>
<circle cx="294.5" cy="284.83" r="2.1" fill="none" stroke="#a4a4a4" stroke-width="0.6"/>
<circle cx="296.5" cy="284.83" r="2.1" fill="none" stroke="#a4a4a4" stroke-width="0.6"/>
<circle cx="298.5" cy="284.83" r="2.1" fill="none" stroke="#a4a4a4" stroke-width="0.6"/>
<circle cx="300.5" cy="284.83" r="2.1" fill="none" stroke="#a4a4a4" stroke-width="0.6"/>
<circle cx="302.5" cy="284.83" r="2.1" fill="none" stroke="#a4a4a4" stroke-width="0.6"/>
<circle cx="304.5" cy="284.83" r="2.1" fill="none" stroke="#a4a4a4" stroke-width="0.6"/>
<circle cx="306.5" cy="284.83" r="2.1" fill="none" stroke="#a4a4a4" stroke-width="0.6"/>
<circle cx="308.5" cy="284.83" r="2.1" fill="none" stroke="#a4a4a4" stroke-width="0.6"/>
<circle cx="310.5" cy="284.83" r="2.1" fill="none" stroke="#a4a4a4" stroke-width="0.6"/>
<circle cx="312.5" cy="284.83" r="2.1" fill="none" stroke="#a4a4a4" stroke-width="0.6"/>
<circle cx="314.5" cy="284.83" r="2.1" fill="none" stroke="#a4a4a4" stroke-width="0.6"/>
<circle cx="316.5" cy="284.83" r="2.1" fill="none" stroke="#a4a4a4" stroke-width="0.6"/>
<circle cx="318.5" cy="284.83" r="2.1" fill="none" stroke="#a4a4a4" stroke-width="0.6"/>
<circle cx="320.5" cy="284.83" r="2.1" fill="none" stroke="#a4a4a4" stroke-width="0.6"/>
<circle cx="322.5" cy="284.83" r="2.1" fill="none" stroke="#a4a4a4" stroke-width="0.6"/>
<circle cx="324.5" cy="284.83" r="2.1" fill="none" stroke="#a4a4a4" stroke-width="0.6"/>
<circle cx="326.5" cy="284.83" r="2.1" fill="none" stroke="#a4a4a4" stroke-width="0.6"/>
<circle cx="328.5" cy="284.83" r="2.1" fill="none" stroke="#a4a4a4" stroke-width="0.6"/>
<circle cx="330.5" cy="284.83" r="2.1" fill="none" stroke="#a4a4a4" stroke-width="0.6"/>
<circle cx="332.5" cy="284.83" r="2.1" fill="none" stroke="#a4a4a4" stroke-width="0.6"/>
<circle cx="334.5" cy="284.83" r="2.1" fill="none" stroke="#a4a4a4" stroke-width="0.6"/>
<circle cx="336.5" cy="284.83" r="2.1" fill="none" stroke="#a4a4a4" stroke-width="0.6"/>
<circle cx="338.5" cy="284.83" r="2.1" fill="none" stroke="#a4a4a4" stroke-width="0.6"/>
<circle cx="340.5" cy="284.83" r="2.1" fill="none" stroke="#a4a4a4" stroke-width="0.6"/>
<circle cx="342.5" cy="284.83" r="2.1" fill="none" stroke="#a4a4a4" stroke-width="0.6"/>
<circle cx="344.5" cy="284.83" r="2.1" fill="none" stroke="#a4a4a4" stroke-width="0.6"/>
<circle cx="346.5" cy="284.83" r="2.1" fill="none" stroke="#a4a4a4" stroke-width="0.6"/>
<circle cx="348.5" cy="284.83" r="2.1" fill="none" stroke="#a4a4a4" stroke-width="0.6"/>
<circle cx="350.5" cy="284.83" r="2.1" fill="none" stroke="#a4a4a4" stroke-width="0.6"/>
<circle cx="352.5" cy="284.83" r="2.1" fill="none" stroke="#a4a4a4" stroke-width="0.6"/>
<circle cx="354.5" cy="284.39" r="2.1" fill="none" stroke="#a4a4a4" stroke-width="0.6"/>
<circle cx="356.5" cy="280.5" r="2.1" fill="none" stroke="#a4a4a4" stroke-width="0.6"/>
<circle cx="358.5" cy="261.2" r="2.1" fill="none" stroke="#a4a4a4" stroke-width="0.6"/>
<circle cx="360.5" cy="187.09" r="2.1" fill="none" stroke="#a4a4a4" stroke-width="0.6"/>
<circle cx="362.5" cy="169.52" r="2.1" fill="none" stroke="#a4a4a4" stroke-width="0.6"/>
<circle cx="364.5" cy="155.01" r="2.1" fill="none" stroke="#a4a4a4" stroke-width="0.6"/>
<circle cx="366.5" cy="154.23" r="2.1" fill="none" stroke="#a4a4a4" stroke-width="0.6"/>
<circle cx="368.5" cy="154.01" r="2.1" fill="none" stroke="#a4a4a4" stroke-width="0.6"/>
<circle cx="370.5" cy="154.01" r="2.1" fill="none" stroke="#a4a4a4" stroke-width="0.6"/>
<circle cx="372.5" cy="154.01" r="2.1" fill="none" stroke="#a4a4a4" stroke-width="0.6"/>
<circle cx="374.5" cy="154.01" r="2.1" fill="none" stroke="#a4a4a4" stroke-width="0.6"/>
<circle cx="376.5" cy="154.01" r="2.1" fill="none" stroke="#a4a4a4" stroke-width="0.6"/>
<circle cx="378.5" cy="154.01" r="2.1" fill="none" stroke="#a4a4a4" stroke-width="0.6"/>
<circle cx="380.5" cy="154.01" r="2.1" fill="none" stroke="#a4a4a4" stroke-width="0.6"/>
<circle cx="382.5" cy="154.01" r="2.1" fill="none" stroke="#a4a4a4" stroke-width="0.6"/>
<circle cx="384.5" cy="154.01" r="2.1" fill="none" stroke="#a4a4a4" stroke-width="0.6"/>
<circle cx="386.5" cy="154.01" r="2.1" fill="none" stroke="#a4a4a4" stroke-width="0.6"/>
<circle cx="388.5" cy="154.01" r="2.1" fill="none" stroke="#a4a4a4" stroke-width="0.6"/>
<circle cx="390.5" cy="154.01" r="2.1" fill="none" stroke="#a4a4a4" stroke-width="0.6"/>
<circle cx="392.5" cy="154.01" r="2.1" fill="none" stroke="#a4a4a4" stroke-width="0.6"/>
<circle cx="394.5" cy="154.01" r="2.1" fill="none" stroke="#a4a4a4" stroke-width="0.6"/>
<circle cx="396.5" cy="154.01" r="2.1" fill="none" stroke="#a4a4a4" stroke-width="0.6"/>
<circle cx="398.5" cy="154.01" r="2.1" fill="none" stroke="#a4a4a4" stroke-width="0.6"/>
<circle cx="400.5" cy="154.01" r="2.1" fill="none" stroke="#a4a4a4" stroke-width="0.6"/>
<circle cx="402.5" cy="154.01" r="2.1" fill="none" stroke="#a4a4a4" stroke-width="0.6"/>
<circle cx="404.5" cy="154.01" r="2.1" fill="none" stroke="#a4a4a4" stroke-width="0.6"/>
<circle cx="406.5" cy="154.01" r="2.1" fill="none" stroke="#a4a4a4" stroke-width="0.6"/>
<circle cx="408.5" cy="154.01" r="2.1" fill="none" stroke="#a4a4a4" stroke-width="0.6"/>
<circle cx="410.5" cy="154.01" r="2.1" fill="none" stroke="#a4a4a4" stroke-width="0.6"/>
<circle cx="412.5" cy="154.01" r="2.1" fill="none" stroke="#a4a4a4" stroke-width="0.6"/>
<circle cx="414.5" cy="154.01" r="2.1" fill="none" stroke="#a4a4a4" stroke-width="0.6"/>
<circle cx="416.5" cy="154.01" r="2.1" fill="none" stroke="#a4a4a4" stroke-width="0.6"/>
<circle cx="418.5" cy="154.01" r="2.1" fill="none" stroke="#a4a4a4" stroke-width="0.6"/>
<circle cx="420.5" cy="154.01" r="2.1" fill="none" stroke="#a4a4a4" stroke-width="0.6"/>
<circle cx="422.5" cy="154.01" r="2.1" fill="none" stroke="#a4a4a4" stroke-width="0.6"/>
<circle cx="424.5" cy="154.01" r="2.1" fill="none" stroke="#a4a4a4" stroke-width="0.6"/>
<circle cx="426.5" cy="154.01" r="2.1" fill="none" stroke="#a4a4a4" stroke-width="0.6"/>
<circle cx="428.5" cy="154.01" r="2.1" fill="none" stroke="#a4a4a4" stroke-width="0.6"/>
<circle cx="430.5" cy="154.01" r="2.1" fill="none" stroke="#a4a4a4" stroke-width="0.6"/>
<circle cx="432.5" cy="154.01" r="2.1" fill="none" stroke="#a4a4a4" stroke-width="0.6"/>
<circle cx="434.5" cy="154.01" r="2.1" fill="none" stroke="#a4a4a4" stroke-width="0.6"/>
<circle cx="436.5" cy="154.01" r="2.1" fill="none" stroke="#a4a4a4" stroke-width="0.6"/>
<circle cx="438.5" cy="154.01" r="2.1" fill="none" stroke="#a4a4a4" stroke-width="0.6"/>
<circle cx="440.5" cy="154.01" r="2.1" fill="none" stroke="#a4a4a4" stroke-width="0.6"/>
<circle cx="442.5" cy="154" r="2.1" fill="none" stroke="#a4a4a4" stroke-width="0.6"/>
<circle cx="444.5" cy="154.04" r="2.1" fill="none" stroke="#a4a4a4" stroke-width="0.6"/>
<circle cx="446.5" cy="153.91" r="2.1" fill="none" stroke="#a4a4a4" stroke-width="0.6"/>
<circle cx="448.5" cy="154.3" r="2.1" fill="none" stroke="#a4a4a4" stroke-width="0.6"/>
<circle cx="450.5" cy="153.1" r="2.1" fill="none" stroke="#a4a4a4" stroke-width="0.6"/>
<circle cx="452.5" cy="156.83" r="2.1" fill="none" stroke="#a4a4a4" stroke-width="0.6"/>
<circle cx="454.5" cy="145.18" r="2.1" fill="none" stroke="#a4a4a4" stroke-width="0.6"/>
<circle cx="456.5" cy="181.58" r="2.1" fill="none" stroke="#a4a4a4" stroke-width="0.6"/>
<circle cx="458.5" cy="67.83" r="2.1" fill="none" stroke="#a4a4a4" stroke-width="0.6"/>
<g clip-path="url(#c)">
<path d="M160.6 7.5V285.5" stroke="#111" stroke-width="0.9" stroke-dasharray="3.1 3.6" stroke-dashoffset="-1.2" fill="none"/>
<path d="M62.5 281.47 L64.5 281.47 L66.5 281.46 L68.5 281.46 L70.5 281.46 L72.5 281.45 L74.5 281.45 L76.5 281.44 L78.5 281.43 L80.5 281.42 L82.5 281.42 L84.5 281.41 L86.5 281.39 L88.5 281.38 L90.5 281.37 L92.5 281.35 L94.5 281.33 L96.5 281.31 L98.5 281.29 L100.5 281.26 L102.5 281.23 L104.5 281.19 L106.5 281.15 L108.5 281.1 L110.5 281.05 L112.5 280.99 L114.5 280.91 L116.5 280.83 L118.5 280.73 L120.5 280.62 L122.5 280.49 L124.5 280.33 L126.5 280.15 L128.5 279.93 L130.5 279.67 L132.5 279.36 L134.5 278.98 L136.5 278.52 L138.5 277.95 L140.5 277.25 L142.5 276.36 L144.5 275.21 L146.5 273.7 L148.5 271.66 L150.5 268.78 L152.5 264.51 L154.5 257.65 L156.5 245.14 L158.5 215.99 L160.5 79.31" fill="none" stroke="#fc0814" stroke-opacity="0.82" stroke-width="1.08" stroke-linejoin="round"/>
<path d="M62.5 248.83 L64.5 254.81 L66.5 258.6 L68.5 261.01 L70.5 262.54 L72.5 263.51 L74.5 264.13 L76.5 264.52 L78.5 264.76 L80.5 264.92 L82.5 265.02 L84.5 265.08 L86.5 265.12 L88.5 265.14 L90.5 265.15 L92.5 265.16 L94.5 265.16 L96.5 265.16 L98.5 265.15 L100.5 265.14 L102.5 265.13 L104.5 265.12 L106.5 265.11 L108.5 265.09 L110.5 265.07 L112.5 265.05 L114.5 265.02 L116.5 264.99 L118.5 264.95 L120.5 264.9 L122.5 264.84 L124.5 264.77 L126.5 264.68 L128.5 264.58 L130.5 264.45 L132.5 264.29 L134.5 264.1 L136.5 263.85 L138.5 263.54 L140.5 263.14 L142.5 262.63 L144.5 261.95 L146.5 261.05 L148.5 259.8 L150.5 258.02 L152.5 255.37 L154.5 251.12 L156.5 243.42 L158.5 223.27 L160.5 62.27" fill="none" stroke="#fc0814" stroke-opacity="0.82" stroke-width="1.08" stroke-linejoin="round"/>
<path d="M62.5 155.95 L64.5 208.44 L66.5 224.63 L68.5 229.62 L70.5 231.16 L72.5 231.63 L74.5 231.78 L76.5 231.83 L78.5 231.84 L80.5 231.84 L82.5 231.85 L84.5 231.85 L86.5 231.85 L88.5 231.85 L90.5 231.85 L92.5 231.85 L94.5 231.85 L96.5 231.85 L98.5 231.85 L100.5 231.85 L102.5 231.85 L104.5 231.85 L106.5 231.85 L108.5 231.85 L110.5 231.85 L112.5 231.85 L114.5 231.85 L116.5 231.85 L118.5 231.85 L120.5 231.85 L122.5 231.85 L124.5 231.85 L126.5 231.85 L128.5 231.85 L130.5 231.85 L132.5 231.85 L134.5 231.84 L136.5 231.84 L138.5 231.84 L140.5 231.83 L142.5 231.8 L144.5 231.74 L146.5 231.6 L148.5 231.25 L150.5 230.43 L152.5 228.47 L154.5 223.78 L156.5 212.51 L158.5 183.23 L160.5 46.42" fill="none" stroke="#fc0814" stroke-opacity="0.82" stroke-width="1.08" stroke-linejoin="round"/>
<path d="M62.5 78.11 L64.5 142.05 L66.5 155.51 L68.5 156.23 L70.5 156.23 L72.5 156.23 L74.5 156.23 L76.5 156.23 L78.5 156.23 L80.5 156.23 L82.5 156.23 L84.5 156.23 L86.5 156.23 L88.5 156.23 L90.5 156.23 L92.5 156.23 L94.5 156.23 L96.5 156.23 L98.5 156.23 L100.5 156.23 L102.5 156.23 L104.5 156.23 L106.5 156.23 L108.5 156.23 L110.5 156.23 L112.5 156.23 L114.5 156.23 L116.5 156.23 L118.5 156.23 L120.5 156.23 L122.5 156.23 L124.5 156.23 L126.5 156.23 L128.5 156.23 L130.5 156.23 L132.5 156.23 L134.5 156.23 L136.5 156.23 L138.5 156.23 L140.5 156.23 L142.5 156.23 L144.5 156.23 L146.5 156.23 L148.5 156.23 L150.5 156.23 L152.5 156.2 L154.5 156.02 L156.5 154.44 L158.5 141.16 L160.5 29.74" fill="none" stroke="#fc0814" stroke-opacity="0.82" stroke-width="1.08" stroke-linejoin="round"/>
<path d="M163 100.35 L163.1 174.32 L163.2 179.88 L163.3 184.91 L163.4 189.48 L163.5 193.66 L163.6 197.49 L163.7 201.01 L163.8 204.26 L163.9 207.27 L164 210.07 L164.1 212.67 L164.2 215.1 L164.3 217.37 L164.4 219.5 L164.5 221.5 L164.6 223.38 L164.7 225.16 L164.8 226.84 L164.9 228.42 L165 229.93 L165.1 231.35 L165.2 232.71 L165.3 234 L165.4 235.22 L165.5 236.4 L165.6 237.51 L165.7 238.58 L165.8 239.6 L165.9 240.58 L166 241.52 L166.1 242.41 L166.2 243.28 L166.3 244.11 L166.4 244.9 L166.5 245.67 L166.6 246.41 L166.7 247.12 L166.8 247.81 L166.9 248.47 L167 249.11 L167.1 249.73 L167.2 250.32 L167.3 250.9 L167.4 251.46 L167.5 252 L167.6 252.53 L167.7 253.04 L167.8 253.53 L167.9 254.01 L168 254.47 L168.1 254.92 L168.2 255.36 L168.3 255.79 L168.4 256.2 L168.5 256.6 L168.6 256.99 L168.7 257.37 L168.8 257.75 L168.9 258.11 L169 258.46 L169.1 258.8 L169.2 259.14 L169.3 259.46 L169.4 259.78 L169.5 260.09 L169.6 260.4 L169.7 260.69 L169.8 260.98 L169.9 261.27 L170 261.54 L170.1 261.81 L170.2 262.08 L170.3 262.34 L170.4 262.59 L170.5 262.84 L170.6 263.08 L170.7 263.31 L170.8 263.55 L170.9 263.77 L171 264 L171.1 264.22 L171.2 264.43 L171.3 264.64 L171.4 264.84 L171.5 265.05 L171.6 265.24 L171.7 265.44 L171.8 265.63 L171.9 265.81 L172 266 L172.1 266.18 L172.2 266.35 L172.3 266.53 L172.4 266.7 L172.5 266.87 L172.6 267.03 L172.7 267.19 L172.8 267.35 L172.9 267.51 L173 267.66 L173.1 267.81 L173.2 267.96 L173.3 268.11 L173.4 268.25 L173.5 268.39 L173.6 268.53 L173.7 268.67 L173.8 268.8 L173.9 268.93 L174 269.06 L174.1 269.19 L174.2 269.32 L174.3 269.44 L174.4 269.57 L174.5 269.69 L174.6 269.81 L174.7 269.92 L174.8 270.04 L174.9 270.15 L175 270.26 L175.1 270.38 L175.2 270.48 L175.3 270.59 L175.4 270.7 L175.5 270.8 L175.6 270.91 L175.7 271.01 L175.8 271.11 L175.9 271.21 L176 271.3 L176.1 271.4 L176.2 271.49 L176.3 271.59 L176.4 271.68 L176.5 271.77 L176.6 271.86 L176.7 271.95 L176.8 272.04 L176.9 272.13 L177 272.21 L177.1 272.3 L177.2 272.38 L177.3 272.46 L177.4 272.54 L177.5 272.62 L177.6 272.7 L177.7 272.78 L177.8 272.86 L177.9 272.94 L178 273.01 L178.1 273.09 L178.2 273.16 L178.3 273.23 L178.4 273.31 L178.5 273.38 L178.6 273.45 L178.7 273.52 L178.8 273.59 L178.9 273.65 L179 273.72 L179.1 273.79 L179.2 273.86 L179.3 273.92 L179.4 273.98 L179.5 274.05 L179.6 274.11 L179.7 274.17 L179.8 274.24 L179.9 274.3 L180 274.36 L180.1 274.42 L180.2 274.48 L180.3 274.54 L180.4 274.59 L180.5 274.65 L180.5 274.65 L181 274.93 L181.5 275.19 L182 275.45 L182.5 275.69 L183 275.92 L183.5 276.14 L184 276.35 L184.5 276.55 L185 276.74 L185.5 276.92 L186 277.1 L186.5 277.27 L187 277.44 L187.5 277.59 L188 277.74 L188.5 277.89 L189 278.03 L189.5 278.17 L190 278.3 L190.5 278.43 L191 278.55 L191.5 278.67 L192 278.78 L192.5 278.89 L193 279 L193.5 279.11 L194 279.21 L194.5 279.31 L195 279.4 L195.5 279.49 L196 279.58 L196.5 279.67 L197 279.76 L197.5 279.84 L198 279.92 L198.5 280 L199 280.08 L199.5 280.15 L200 280.22 L200.5 280.29 L201 280.36 L201.5 280.43 L202 280.5 L202.5 280.56 L203 280.62 L203.5 280.68 L204 280.74 L204.5 280.8 L205 280.86 L205.5 280.92 L206 280.97 L206.5 281.02 L207 281.08 L207.5 281.13 L208 281.18 L208.5 281.23 L209 281.27 L209.5 281.32 L210 281.37 L210.5 281.41 L211 281.46 L211.5 281.5 L212 281.54 L212.5 281.58 L213 281.63 L213.5 281.67 L214 281.71 L214.5 281.74 L215 281.78 L215.5 281.82 L216 281.86 L216.5 281.89 L217 281.93 L217.5 281.96 L218 282 L218.5 282.03 L219 282.06 L219.5 282.09 L220 282.13 L220.5 282.16 L221 282.19 L221.5 282.22 L222 282.25 L222.5 282.28 L223 282.31 L223.5 282.33 L224 282.36 L224.5 282.39 L225 282.42 L225.5 282.44 L226 282.47 L226.5 282.5 L227 282.52 L227.5 282.55 L228 282.57 L228.5 282.59 L229 282.62 L229.5 282.64 L230 282.67 L230.5 282.69 L231 282.71 L231.5 282.73 L232 282.76 L232.5 282.78 L233 282.8 L233.5 282.82 L234 282.84 L234.5 282.86 L235 282.88 L235.5 282.9 L236 282.92 L236.5 282.94 L237 282.96 L237.5 282.98 L238 283 L238.5 283.01 L239 283.03 L239.5 283.05 L240 283.07 L240.5 283.08 L241 283.1 L241.5 283.12 L242 283.13 L242.5 283.15 L243 283.17 L243.5 283.18 L244 283.2 L244.5 283.21 L245 283.23 L245.5 283.25 L246 283.26 L246.5 283.28 L247 283.29 L247.5 283.3 L248 283.32 L248.5 283.33 L249 283.35 L249.5 283.36 L250 283.37 L250.5 283.39 L251 283.4 L251.5 283.41 L252 283.43 L252.5 283.44 L253 283.45 L253.5 283.47 L254 283.48 L254.5 283.49 L255 283.5 L255.5 283.51 L256 283.53 L256.5 283.54 L257 283.55 L257.5 283.56 L258 283.57 L258.5 283.58 L259 283.59 L259.5 283.6 L260 283.62 L260.5 283.63 L261 283.64 L261.5 283.65 L262 283.66 L262.5 283.67 L263 283.68 L263.5 283.69 L264 283.7 L264.5 283.71 L265 283.72 L265.5 283.73 L266 283.74 L266.5 283.74 L267 283.75 L267.5 283.76 L268 283.77 L268.5 283.78 L269 283.79 L269.5 283.8 L270 283.81 L270.5 283.82 L271 283.82 L271.5 283.83 L272 283.84 L272.5 283.85 L273 283.86 L273.5 283.86 L274 283.87 L274.5 283.88 L275 283.89 L275.5 283.9 L276 283.9 L276.5 283.91 L277 283.92 L277.5 283.92 L278 283.93 L278.5 283.94 L279 283.95 L279.5 283.95 L280 283.96 L280.5 283.97 L281 283.97 L281.5 283.98 L282 283.99 L282.5 283.99 L283 284 L283.5 284.01 L284 284.01 L284.5 284.02 L285 284.02 L285.5 284.03 L286 284.04 L286.5 284.04 L287 284.05 L287.5 284.05 L288 284.06 L288.5 284.06 L289 284.07 L289.5 284.08 L290 284.08 L290.5 284.09 L291 284.09 L291.5 284.1 L292 284.1 L292.5 284.11 L293 284.11 L293.5 284.12 L294 284.12 L294.5 284.13 L295 284.13 L295.5 284.14 L296 284.14 L296.5 284.15 L297 284.15 L297.5 284.16 L298 284.16 L298.5 284.16 L299 284.17 L299.5 284.17 L300 284.18 L300.5 284.18 L301 284.19 L301.5 284.19 L302 284.19 L302.5 284.2 L303 284.2 L303.5 284.21 L304 284.21 L304.5 284.21 L305 284.22 L305.5 284.22 L306 284.22 L306.5 284.23 L307 284.23 L307.5 284.24 L308 284.24 L308.5 284.24 L309 284.25 L309.5 284.25 L310 284.25 L310.5 284.26 L311 284.26 L311.5 284.26 L312 284.26 L312.5 284.27 L313 284.27 L313.5 284.27 L314 284.28 L314.5 284.28 L315 284.28 L315.5 284.29 L316 284.29 L316.5 284.29 L317 284.29 L317.5 284.3 L318 284.3 L318.5 284.3 L319 284.3 L319.5 284.31 L320 284.31 L320.5 284.31 L321 284.31 L321.5 284.32 L322 284.32 L322.5 284.32 L323 284.32 L323.5 284.32 L324 284.33 L324.5 284.33 L325 284.33 L325.5 284.33 L326 284.33 L326.5 284.34 L327 284.34 L327.5 284.34 L328 284.34 L328.5 284.34 L329 284.35 L329.5 284.35 L330 284.35 L330.5 284.35 L331 284.35 L331.5 284.35 L332 284.35 L332.5 284.36 L333 284.36 L333.5 284.36 L334 284.36 L334.5 284.36 L335 284.36 L335.5 284.36 L336 284.37 L336.5 284.37 L337 284.37 L337.5 284.37 L338 284.37 L338.5 284.37 L339 284.37 L339.5 284.37 L340 284.37 L340.5 284.38 L341 284.38 L341.5 284.38 L342 284.38 L342.5 284.38 L343 284.38 L343.5 284.38 L344 284.38 L344.5 284.38 L345 284.38 L345.5 284.38 L346 284.38 L346.5 284.38 L347 284.38 L347.5 284.39 L348 284.39 L348.5 284.39 L349 284.39 L349.5 284.39 L350 284.39 L350.5 284.39 L351 284.39 L351.5 284.39 L352 284.39 L352.5 284.39 L353 284.39 L353.5 284.39 L354 284.39 L354.5 284.39 L355 284.39 L355.5 284.39 L356 284.39 L356.5 284.39 L357 284.39 L357.5 284.39 L358 284.39 L358.5 284.39 L359 284.39 L359.5 284.39 L360 284.39 L360.5 284.39 L361 284.39 L361.5 284.39 L362 284.39 L362.5 284.39 L363 284.39 L363.5 284.39 L364 284.39 L364.5 284.39 L365 284.39 L365.5 284.39 L366 284.39 L366.5 284.39 L367 284.39 L367.5 284.39 L368 284.39 L368.5 284.39 L369 284.39 L369.5 284.39 L370 284.39 L370.5 284.39 L371 284.39 L371.5 284.39 L372 284.39 L372.5 284.39 L373 284.39 L373.5 284.39 L374 284.39 L374.5 284.39 L375 284.39 L375.5 284.39 L376 284.39 L376.5 284.39 L377 284.39 L377.5 284.39 L378 284.39 L378.5 284.39 L379 284.39 L379.5 284.39 L380 284.39 L380.5 284.39 L381 284.39 L381.5 284.39 L382 284.39 L382.5 284.39 L383 284.39 L383.5 284.39 L384 284.39 L384.5 284.39 L385 284.39 L385.5 284.39 L386 284.39 L386.5 284.39 L387 284.39 L387.5 284.39 L388 284.39 L388.5 284.39 L389 284.39 L389.5 284.39 L390 284.39 L390.5 284.39 L391 284.39 L391.5 284.39 L392 284.39 L392.5 284.39 L393 284.39 L393.5 284.39 L394 284.39 L394.5 284.39 L395 284.39 L395.5 284.39 L396 284.39 L396.5 284.39 L397 284.39 L397.5 284.39 L398 284.39 L398.5 284.39 L399 284.39 L399.5 284.39 L400 284.39 L400.5 284.39 L401 284.39 L401.5 284.39 L402 284.39 L402.5 284.39 L403 284.39 L403.5 284.39 L404 284.39 L404.5 284.39 L405 284.39 L405.5 284.39 L406 284.39 L406.5 284.39 L407 284.39 L407.5 284.39 L408 284.39 L408.5 284.39 L409 284.39 L409.5 284.39 L410 284.39 L410.5 284.39 L411 284.39 L411.5 284.39 L412 284.39 L412.5 284.39 L413 284.39 L413.5 284.39 L414 284.39 L414.5 284.39 L415 284.39 L415.5 284.39 L416 284.39 L416.5 284.39 L417 284.39 L417.5 284.39 L418 284.39 L418.5 284.39 L419 284.39 L419.5 284.39 L420 284.39 L420.5 284.39 L421 284.39 L421.5 284.39 L422 284.39 L422.5 284.39 L423 284.39 L423.5 284.39 L424 284.39 L424.5 284.39 L425 284.39 L425.5 284.39 L426 284.39 L426.5 284.39 L427 284.39 L427.5 284.39 L428 284.39 L428.5 284.39 L429 284.39 L429.5 284.39 L430 284.39 L430.5 284.39 L431 284.39 L431.5 284.39 L432 284.39 L432.5 284.39 L433 284.39 L433.5 284.39 L434 284.39 L434.5 284.39 L435 284.39 L435.5 284.39 L436 284.39 L436.5 284.39 L437 284.39 L437.5 284.39 L438 284.39 L438.5 284.39 L439 284.39 L439.5 284.39 L440 284.39 L440.5 284.39 L441 284.39 L441.5 284.39 L442 284.39 L442.5 284.39 L443 284.39 L443.5 284.39 L444 284.39 L444.5 284.39 L445 284.39 L445.5 284.39 L446 284.39 L446.5 284.39 L447 284.39 L447.5 284.39 L448 284.39 L448.5 284.39 L449 284.39 L449.5 284.39 L450 284.39 L450.5 284.39 L451 284.39 L451.5 284.39 L452 284.39 L452.5 284.39 L453 284.39 L453.5 284.39 L454 284.39 L454.5 284.39 L454.52 284.39 L454.54 284.39 L454.56 284.39 L454.58 284.39 L454.6 284.39 L454.62 284.39 L454.64 284.39 L454.66 284.39 L454.68 284.39 L454.7 284.39 L454.72 284.39 L454.74 284.39 L454.76 284.39 L454.78 284.39 L454.8 284.39 L454.82 284.39 L454.84 284.39 L454.86 284.39 L454.88 284.39 L454.9 284.39 L454.92 284.39 L454.94 284.39 L454.96 284.39 L454.98 284.39 L455 284.39 L455.02 284.39 L455.04 284.39 L455.06 284.39 L455.08 284.39 L455.1 284.39 L455.12 284.39 L455.14 284.39 L455.16 284.39 L455.18 284.39 L455.2 284.39 L455.22 284.39 L455.24 284.39 L455.26 284.39 L455.28 284.39 L455.3 284.39 L455.32 284.39 L455.34 284.39 L455.36 284.39 L455.38 284.39 L455.4 284.39 L455.42 284.39 L455.44 284.39 L455.46 284.39 L455.48 284.39 L455.5 284.39 L455.52 284.39 L455.54 284.39 L455.56 284.39 L455.58 284.39 L455.6 284.39 L455.62 284.39 L455.64 284.39 L455.66 284.39 L455.68 284.39 L455.7 284.39 L455.72 284.39 L455.74 284.39 L455.76 284.39 L455.78 284.39 L455.8 284.39 L455.82 284.39 L455.84 284.39 L455.86 284.39 L455.88 284.39 L455.9 284.39 L455.92 284.39 L455.94 284.39 L455.96 284.39 L455.98 284.39 L456 284.39 L456.02 284.39 L456.04 284.39 L456.06 284.39 L456.08 284.39 L456.1 284.39 L456.12 284.39 L456.14 284.39 L456.16 284.39 L456.18 284.39 L456.2 284.39 L456.22 284.39 L456.24 284.39 L456.26 284.39 L456.28 284.39 L456.3 284.39 L456.32 284.39 L456.34 284.39 L456.36 284.39 L456.38 284.39 L456.4 284.39 L456.42 284.39 L456.44 284.39 L456.46 284.39 L456.48 284.39 L456.5 284.39 L456.52 284.39 L456.54 284.39 L456.56 284.39 L456.58 284.39 L456.6 284.39 L456.62 284.39 L456.64 284.39 L456.66 284.39 L456.68 284.39 L456.7 284.39 L456.72 284.39 L456.74 284.39 L456.76 284.39 L456.78 284.39 L456.8 284.39 L456.82 284.39 L456.84 284.39 L456.86 284.39 L456.88 284.39 L456.9 284.39 L456.92 284.39 L456.94 284.39 L456.96 284.39 L456.98 284.39 L457 284.39 L457.02 284.39 L457.04 284.39 L457.06 284.39 L457.08 284.39 L457.1 284.39 L457.12 284.39 L457.14 284.39 L457.16 284.39 L457.18 284.39 L457.2 284.39 L457.22 284.39 L457.24 284.39 L457.26 284.39 L457.28 284.39 L457.3 284.39 L457.32 284.39 L457.34 284.39 L457.36 284.39 L457.38 284.39 L457.4 284.39 L457.42 284.39 L457.44 284.39 L457.46 284.39 L457.48 284.39 L457.5 284.39 L457.52 284.39 L457.54 284.39 L457.56 284.39 L457.58 284.39 L457.6 284.39 L457.62 284.39 L457.64 284.39 L457.66 284.39 L457.68 284.39 L457.7 284.39 L457.72 284.39 L457.74 284.39 L457.76 284.39 L457.78 284.39 L457.8 284.39 L457.82 284.39 L457.84 284.39 L457.86 284.39 L457.88 284.39 L457.9 284.39 L457.92 284.39 L457.94 284.39 L457.96 284.39 L457.98 284.39 L458 284.39 L458.02 284.39 L458.04 284.39 L458.06 284.39 L458.08 284.39 L458.1 284.39 L458.12 284.39 L458.14 284.39 L458.16 284.39 L458.18 284.39 L458.2 284.39 L458.22 284.39 L458.24 284.39 L458.26 284.39 L458.28 284.39 L458.3 284.39 L458.32 284.39 L458.34 284.39 L458.36 284.39 L458.38 284.39 L458.4 284.39 L458.42 284.39 L458.44 284.39 L458.46 284.39 L458.48 284.39 L458.5 284.39 L458.52 284.39 L458.54 284.39 L458.56 284.39 L458.58 284.39 L458.6 284.39 L458.62 284.39 L458.64 284.39 L458.66 284.39 L458.68 284.39 L458.7 284.39 L458.72 284.39 L458.74 284.39 L458.76 284.39 L458.78 284.39 L458.8 284.39 L458.82 284.39 L458.84 284.39 L458.86 284.39 L458.88 284.39 L458.9 284.39 L458.92 284.39 L458.94 284.39 L458.96 284.39 L458.98 284.39 L459 284.39 L459.02 284.39 L459.04 284.39 L459.06 284.39 L459.08 284.39 L459.1 284.39 L459.12 284.39 L459.14 284.39 L459.16 284.39 L459.18 284.39 L459.2 284.39 L459.22 284.39 L459.24 284.39 L459.26 284.39 L459.28 284.39 L459.3 284.39 L459.32 284.39 L459.34 284.39 L459.36 284.39 L459.38 284.39 L459.4 284.39 L459.42 284.39 L459.44 284.39 L459.46 284.39 L459.48 284.39 L459.5 284.39 L459.52 284.39 L459.54 284.39 L459.56 284.39 L459.58 284.39 L459.6 284.39 L459.62 284.39 L459.64 284.39 L459.66 284.39 L459.68 284.39 L459.7 284.39 L459.72 284.39 L459.74 284.39 L459.76 284.39 L459.78 284.39 L459.8 284.39 L459.82 284.39 L459.84 284.39 L459.86 284.39 L459.88 284.39 L459.9 284.39 L459.92 284.39 L459.94 284.39 L459.96 284.39 L459.98 284.39 L460 284.39 L460.02 284.39 L460.04 284.39 L460.06 284.39 L460.08 284.39 L460.1 284.39 L460.12 284.39 L460.14 284.39 L460.16 284.39 L460.18 284.39 L460.2 284.39 L460.22 284.39 L460.24 284.39" fill="none" stroke="#1414f5" stroke-opacity="0.85" stroke-width="1.15" stroke-linejoin="round"/>
<path d="M163 118.7 L163.1 192.01 L163.2 197.25 L163.3 201.99 L163.4 206.29 L163.5 210.22 L163.6 213.81 L163.7 217.12 L163.8 220.16 L163.9 222.98 L164 225.59 L164.1 228.03 L164.2 230.29 L164.3 232.41 L164.4 234.39 L164.5 236.25 L164.6 238 L164.7 239.64 L164.8 241.19 L164.9 242.66 L165 244.04 L165.1 245.36 L165.2 246.6 L165.3 247.79 L165.4 248.91 L165.5 249.98 L165.6 251 L165.7 251.98 L165.8 252.91 L165.9 253.79 L166 254.64 L166.1 255.46 L166.2 256.24 L166.3 256.99 L166.4 257.7 L166.5 258.39 L166.6 259.05 L166.7 259.69 L166.8 260.3 L166.9 260.89 L167 261.46 L167.1 262.01 L167.2 262.54 L167.3 263.05 L167.4 263.54 L167.5 264.02 L167.6 264.48 L167.7 264.93 L167.8 265.36 L167.9 265.77 L168 266.18 L168.1 266.57 L168.2 266.95 L168.3 267.31 L168.4 267.67 L168.5 268.02 L168.6 268.35 L168.7 268.68 L168.8 268.99 L168.9 269.3 L169 269.6 L169.1 269.89 L169.2 270.17 L169.3 270.45 L169.4 270.72 L169.5 270.98 L169.6 271.23 L169.7 271.48 L169.8 271.72 L169.9 271.95 L170 272.18 L170.1 272.4 L170.2 272.62 L170.3 272.83 L170.4 273.04 L170.5 273.24 L170.6 273.44 L170.7 273.63 L170.8 273.81 L170.9 274 L171 274.18 L171.1 274.35 L171.2 274.52 L171.3 274.69 L171.4 274.85 L171.5 275.01 L171.6 275.17 L171.7 275.32 L171.8 275.47 L171.9 275.61 L172 275.76 L172.1 275.9 L172.2 276.03 L172.3 276.17 L172.4 276.3 L172.5 276.43 L172.6 276.55 L172.7 276.67 L172.8 276.79 L172.9 276.91 L173 277.03 L173.1 277.14 L173.2 277.25 L173.3 277.36 L173.4 277.47 L173.5 277.57 L173.6 277.68 L173.7 277.78 L173.8 277.88 L173.9 277.97 L174 278.07 L174.1 278.16 L174.2 278.25 L174.3 278.34 L174.4 278.43 L174.5 278.52 L174.6 278.6 L174.7 278.68 L174.8 278.77 L174.9 278.85 L175 278.93 L175.1 279 L175.2 279.08 L175.3 279.15 L175.4 279.23 L175.5 279.3 L175.6 279.37 L175.7 279.44 L175.8 279.51 L175.9 279.58 L176 279.64 L176.1 279.71 L176.2 279.77 L176.3 279.83 L176.4 279.9 L176.5 279.96 L176.6 280.02 L176.7 280.07 L176.8 280.13 L176.9 280.19 L177 280.24 L177.1 280.3 L177.2 280.35 L177.3 280.41 L177.4 280.46 L177.5 280.51 L177.6 280.56 L177.7 280.61 L177.8 280.66 L177.9 280.71 L178 280.76 L178.1 280.8 L178.2 280.85 L178.3 280.89 L178.4 280.94 L178.5 280.98 L178.6 281.03 L178.7 281.07 L178.8 281.11 L178.9 281.15 L179 281.19 L179.1 281.23 L179.2 281.27 L179.3 281.31 L179.4 281.35 L179.5 281.39 L179.6 281.42 L179.7 281.46 L179.8 281.5 L179.9 281.53 L180 281.57 L180.1 281.6 L180.2 281.64 L180.3 281.67 L180.4 281.7 L180.5 281.74 L180.5 281.74 L181 281.89 L181.5 282.04 L182 282.17 L182.5 282.3 L183 282.42 L183.5 282.53 L184 282.63 L184.5 282.73 L185 282.82 L185.5 282.9 L186 282.98 L186.5 283.06 L187 283.13 L187.5 283.19 L188 283.25 L188.5 283.31 L189 283.37 L189.5 283.42 L190 283.47 L190.5 283.51 L191 283.56 L191.5 283.6 L192 283.64 L192.5 283.67 L193 283.71 L193.5 283.74 L194 283.77 L194.5 283.8 L195 283.83 L195.5 283.85 L196 283.88 L196.5 283.9 L197 283.92 L197.5 283.94 L198 283.96 L198.5 283.98 L199 284 L199.5 284.02 L200 284.03 L200.5 284.05 L201 284.06 L201.5 284.08 L202 284.09 L202.5 284.1 L203 284.11 L203.5 284.13 L204 284.14 L204.5 284.15 L205 284.16 L205.5 284.16 L206 284.17 L206.5 284.18 L207 284.19 L207.5 284.2 L208 284.2 L208.5 284.21 L209 284.22 L209.5 284.22 L210 284.23 L210.5 284.24 L211 284.24 L211.5 284.25 L212 284.25 L212.5 284.26 L213 284.26 L213.5 284.26 L214 284.27 L214.5 284.27 L215 284.28 L215.5 284.28 L216 284.28 L216.5 284.29 L217 284.29 L217.5 284.29 L218 284.29 L218.5 284.3 L219 284.3 L219.5 284.3 L220 284.3 L220.5 284.31 L221 284.31 L221.5 284.31 L222 284.31 L222.5 284.31 L223 284.31 L223.5 284.32 L224 284.32 L224.5 284.32 L225 284.32 L225.5 284.32 L226 284.32 L226.5 284.32 L227 284.33 L227.5 284.33 L228 284.33 L228.5 284.33 L229 284.33 L229.5 284.33 L230 284.33 L230.5 284.33 L231 284.33 L231.5 284.33 L232 284.33 L232.5 284.34 L233 284.34 L233.5 284.34 L234 284.34 L234.5 284.34 L235 284.34 L235.5 284.34 L236 284.34 L236.5 284.34 L237 284.34 L237.5 284.34 L238 284.34 L238.5 284.34 L239 284.34 L239.5 284.34 L240 284.34 L240.5 284.34 L241 284.34 L241.5 284.34 L242 284.34 L242.5 284.34 L243 284.34 L243.5 284.34 L244 284.34 L244.5 284.34 L245 284.34 L245.5 284.34 L246 284.35 L246.5 284.35 L247 284.35 L247.5 284.35 L248 284.35 L248.5 284.35 L249 284.35 L249.5 284.35 L250 284.35 L250.5 284.35 L251 284.35 L251.5 284.35 L252 284.35 L252.5 284.35 L253 284.35 L253.5 284.35 L254 284.35 L254.5 284.35 L255 284.35 L255.5 284.35 L256 284.35 L256.5 284.35 L257 284.35 L257.5 284.35 L258 284.35 L258.5 284.35 L259 284.35 L259.5 284.35 L260 284.35 L260.5 284.35 L261 284.35 L261.5 284.35 L262 284.35 L262.5 284.35 L263 284.35 L263.5 284.35 L264 284.35 L264.5 284.35 L265 284.35 L265.5 284.35 L266 284.35 L266.5 284.35 L267 284.35 L267.5 284.35 L268 284.35 L268.5 284.35 L269 284.35 L269.5 284.35 L270 284.35 L270.5 284.35 L271 284.35 L271.5 284.34 L272 284.34 L272.5 284.34 L273 284.34 L273.5 284.34 L274 284.34 L274.5 284.34 L275 284.34 L275.5 284.34 L276 284.34 L276.5 284.34 L277 284.34 L277.5 284.34 L278 284.34 L278.5 284.34 L279 284.34 L279.5 284.34 L280 284.34 L280.5 284.34 L281 284.34 L281.5 284.34 L282 284.34 L282.5 284.34 L283 284.34 L283.5 284.34 L284 284.34 L284.5 284.34 L285 284.34 L285.5 284.34 L286 284.34 L286.5 284.34 L287 284.34 L287.5 284.34 L288 284.34 L288.5 284.34 L289 284.34 L289.5 284.34 L290 284.34 L290.5 284.34 L291 284.34 L291.5 284.34 L292 284.34 L292.5 284.34 L293 284.34 L293.5 284.34 L294 284.34 L294.5 284.34 L295 284.34 L295.5 284.34 L296 284.34 L296.5 284.34 L297 284.34 L297.5 284.34 L298 284.34 L298.5 284.34 L299 284.34 L299.5 284.34 L300 284.34 L300.5 284.34 L301 284.34 L301.5 284.34 L302 284.34 L302.5 284.34 L303 284.34 L303.5 284.34 L304 284.34 L304.5 284.34 L305 284.34 L305.5 284.34 L306 284.34 L306.5 284.34 L307 284.34 L307.5 284.34 L308 284.34 L308.5 284.33 L309 284.33 L309.5 284.33 L310 284.33 L310.5 284.33 L311 284.33 L311.5 284.33 L312 284.33 L312.5 284.33 L313 284.33 L313.5 284.33 L314 284.33 L314.5 284.33 L315 284.33 L315.5 284.33 L316 284.33 L316.5 284.33 L317 284.33 L317.5 284.33 L318 284.33 L318.5 284.33 L319 284.32 L319.5 284.32 L320 284.32 L320.5 284.32 L321 284.32 L321.5 284.32 L322 284.32 L322.5 284.31 L323 284.31 L323.5 284.31 L324 284.31 L324.5 284.3 L325 284.3 L325.5 284.3 L326 284.29 L326.5 284.29 L327 284.28 L327.5 284.28 L328 284.27 L328.5 284.26 L329 284.25 L329.5 284.24 L330 284.23 L330.5 284.22 L331 284.21 L331.5 284.19 L332 284.18 L332.5 284.16 L333 284.14 L333.5 284.12 L334 284.1 L334.5 284.07 L335 284.04 L335.5 284.01 L336 283.98 L336.5 283.95 L337 283.91 L337.5 283.86 L338 283.79 L338.5 283.71 L339 283.63 L339.5 283.53 L340 283.42 L340.5 283.3 L341 283.17 L341.5 283.03 L342 282.88 L342.5 282.72 L343 282.56 L343.5 282.39 L344 282.21 L344.5 282.02 L345 281.83 L345.5 281.63 L346 281.43 L346.5 281.22 L347 281.01 L347.5 280.79 L348 280.57 L348.5 280.34 L349 280.11 L349.5 279.87 L350 279.63 L350.5 279.39 L351 279.14 L351.5 278.89 L352 278.63 L352.5 278.38 L353 278.12 L353.5 277.86 L354 277.6 L354.5 277.33 L355 277.07 L355.5 276.8 L356 276.53 L356.5 276.26 L357 275.99 L357.5 275.72 L358 275.46 L358.5 275.19 L359 274.92 L359.5 274.65 L360 274.39 L360.5 274.12 L361 273.86 L361.5 273.6 L362 273.34 L362.5 273.08 L363 272.83 L363.5 272.58 L364 272.33 L364.5 272.09 L365 271.85 L365.5 271.61 L366 271.37 L366.5 271.14 L367 270.91 L367.5 270.69 L368 270.47 L368.5 270.26 L369 270.05 L369.5 269.84 L370 269.64 L370.5 269.44 L371 269.25 L371.5 269.06 L372 268.87 L372.5 268.69 L373 268.52 L373.5 268.35 L374 268.18 L374.5 268.02 L375 267.87 L375.5 267.71 L376 267.57 L376.5 267.42 L377 267.29 L377.5 267.15 L378 267.02 L378.5 266.9 L379 266.78 L379.5 266.66 L380 266.55 L380.5 266.44 L381 266.33 L381.5 266.23 L382 266.14 L382.5 266.04 L383 265.95 L383.5 265.87 L384 265.79 L384.5 265.71 L385 265.63 L385.5 265.56 L386 265.49 L386.5 265.42 L387 265.36 L387.5 265.3 L388 265.24 L388.5 265.18 L389 265.13 L389.5 265.08 L390 265.03 L390.5 264.99 L391 264.94 L391.5 264.9 L392 264.86 L392.5 264.83 L393 264.79 L393.5 264.76 L394 264.72 L394.5 264.69 L395 264.67 L395.5 264.64 L396 264.61 L396.5 264.59 L397 264.56 L397.5 264.54 L398 264.52 L398.5 264.5 L399 264.48 L399.5 264.47 L400 264.45 L400.5 264.44 L401 264.45 L401.5 264.47 L402 264.49 L402.5 264.51 L403 264.53 L403.5 264.55 L404 264.57 L404.5 264.6 L405 264.62 L405.5 264.64 L406 264.67 L406.5 264.69 L407 264.72 L407.5 264.74 L408 264.77 L408.5 264.8 L409 264.82 L409.5 264.85 L410 264.88 L410.5 264.9 L411 264.93 L411.5 264.96 L412 264.99 L412.5 265.02 L413 265.04 L413.5 265.07 L414 265.1 L414.5 265.13 L415 265.16 L415.5 265.19 L416 265.22 L416.5 265.25 L417 265.27 L417.5 265.3 L418 265.33 L418.5 265.36 L419 265.39 L419.5 265.42 L420 265.45 L420.5 265.48 L421 265.51 L421.5 265.54 L422 265.57 L422.5 265.6 L423 265.63 L423.5 265.66 L424 265.68 L424.5 265.71 L425 265.74 L425.5 265.77 L426 265.8 L426.5 265.83 L427 265.86 L427.5 265.89 L428 265.92 L428.5 265.94 L429 265.97 L429.5 266 L430 266.03 L430.5 266.06 L431 266.09 L431.5 266.11 L432 266.14 L432.5 266.17 L433 266.2 L433.5 266.22 L434 266.25 L434.5 266.28 L435 266.3 L435.5 266.33 L436 266.35 L436.5 266.38 L437 266.41 L437.5 266.43 L438 266.46 L438.5 266.48 L439 266.5 L439.5 266.53 L440 266.55 L440.5 266.57 L441 266.6 L441.5 266.62 L442 266.64 L442.5 266.66 L443 266.68 L443.5 266.7 L444 266.71 L444.5 266.73 L445 266.75 L445.5 266.76 L446 266.77 L446.5 266.78 L447 266.79 L447.5 266.8 L448 266.8 L448.5 266.8 L449 266.8 L449.5 266.79 L450 266.78 L450.5 266.76 L451 266.73 L451.5 266.69 L452 266.64 L452.5 266.57 L453 266.48 L453.5 266.37 L454 266.23 L454.5 266.05 L454.52 266.04 L454.54 266.04 L454.56 266.03 L454.58 266.02 L454.6 266.01 L454.62 266 L454.64 265.99 L454.66 265.98 L454.68 265.98 L454.7 265.97 L454.72 265.96 L454.74 265.95 L454.76 265.94 L454.78 265.93 L454.8 265.92 L454.82 265.91 L454.84 265.9 L454.86 265.89 L454.88 265.88 L454.9 265.87 L454.92 265.86 L454.94 265.85 L454.96 265.84 L454.98 265.83 L455 265.82 L455.02 265.81 L455.04 265.8 L455.06 265.79 L455.08 265.78 L455.1 265.77 L455.12 265.76 L455.14 265.75 L455.16 265.74 L455.18 265.72 L455.2 265.71 L455.22 265.7 L455.24 265.69 L455.26 265.68 L455.28 265.67 L455.3 265.65 L455.32 265.64 L455.34 265.63 L455.36 265.62 L455.38 265.6 L455.4 265.59 L455.42 265.58 L455.44 265.57 L455.46 265.55 L455.48 265.54 L455.5 265.53 L455.52 265.51 L455.54 265.5 L455.56 265.49 L455.58 265.47 L455.6 265.46 L455.62 265.44 L455.64 265.43 L455.66 265.42 L455.68 265.4 L455.7 265.39 L455.72 265.37 L455.74 265.36 L455.76 265.34 L455.78 265.33 L455.8 265.31 L455.82 265.3 L455.84 265.28 L455.86 265.26 L455.88 265.25 L455.9 265.23 L455.92 265.22 L455.94 265.2 L455.96 265.18 L455.98 265.17 L456 265.15 L456.02 265.13 L456.04 265.11 L456.06 265.1 L456.08 265.08 L456.1 265.06 L456.12 265.04 L456.14 265.02 L456.16 265.01 L456.18 264.99 L456.2 264.97 L456.22 264.95 L456.24 264.93 L456.26 264.91 L456.28 264.89 L456.3 264.87 L456.32 264.85 L456.34 264.83 L456.36 264.81 L456.38 264.79 L456.4 264.77 L456.42 264.75 L456.44 264.72 L456.46 264.7 L456.48 264.68 L456.5 264.66 L456.52 264.64 L456.54 264.61 L456.56 264.59 L456.58 264.57 L456.6 264.54 L456.62 264.52 L456.64 264.5 L456.66 264.47 L456.68 264.45 L456.7 264.42 L456.72 264.4 L456.74 264.37 L456.76 264.35 L456.78 264.32 L456.8 264.3 L456.82 264.27 L456.84 264.24 L456.86 264.22 L456.88 264.19 L456.9 264.16 L456.92 264.13 L456.94 264.11 L456.96 264.08 L456.98 264.05 L457 264.02 L457.02 263.99 L457.04 263.96 L457.06 263.93 L457.08 263.9 L457.1 263.87 L457.12 263.84 L457.14 263.81 L457.16 263.78 L457.18 263.74 L457.2 263.71 L457.22 263.68 L457.24 263.65 L457.26 263.61 L457.28 263.58 L457.3 263.54 L457.32 263.51 L457.34 263.47 L457.36 263.44 L457.38 263.4 L457.4 263.37 L457.42 263.33 L457.44 263.29 L457.46 263.25 L457.48 263.22 L457.5 263.18 L457.52 263.14 L457.54 263.1 L457.56 263.06 L457.58 263.02 L457.6 262.98 L457.62 262.94 L457.64 262.89 L457.66 262.85 L457.68 262.81 L457.7 262.77 L457.72 262.72 L457.74 262.68 L457.76 262.63 L457.78 262.59 L457.8 262.54 L457.82 262.49 L457.84 262.45 L457.86 262.4 L457.88 262.35 L457.9 262.3 L457.92 262.25 L457.94 262.2 L457.96 262.15 L457.98 262.1 L458 262.04 L458.02 261.99 L458.04 261.94 L458.06 261.88 L458.08 261.82 L458.1 261.77 L458.12 261.71 L458.14 261.65 L458.16 261.6 L458.18 261.54 L458.2 261.48 L458.22 261.41 L458.24 261.35 L458.26 261.29 L458.28 261.23 L458.3 261.16 L458.32 261.1 L458.34 261.03 L458.36 260.96 L458.38 260.89 L458.4 260.82 L458.42 260.75 L458.44 260.68 L458.46 260.61 L458.48 260.54 L458.5 260.46 L458.52 260.38 L458.54 260.31 L458.56 260.23 L458.58 260.15 L458.6 260.07 L458.62 259.98 L458.64 259.9 L458.66 259.82 L458.68 259.73 L458.7 259.64 L458.72 259.55 L458.74 259.46 L458.76 259.37 L458.78 259.27 L458.8 259.18 L458.82 259.08 L458.84 258.98 L458.86 258.88 L458.88 258.78 L458.9 258.67 L458.92 258.56 L458.94 258.45 L458.96 258.34 L458.98 258.23 L459 258.11 L459.02 257.99 L459.04 257.87 L459.06 257.75 L459.08 257.62 L459.1 257.5 L459.12 257.36 L459.14 257.23 L459.16 257.09 L459.18 256.95 L459.2 256.81 L459.22 256.66 L459.24 256.51 L459.26 256.35 L459.28 256.2 L459.3 256.03 L459.32 255.87 L459.34 255.69 L459.36 255.52 L459.38 255.34 L459.4 255.15 L459.42 254.96 L459.44 254.76 L459.46 254.56 L459.48 254.35 L459.5 254.13 L459.52 253.91 L459.54 253.68 L459.56 253.44 L459.58 253.19 L459.6 252.94 L459.62 252.67 L459.64 252.4 L459.66 252.11 L459.68 251.82 L459.7 251.51 L459.72 251.18 L459.74 250.85 L459.76 250.49 L459.78 250.13 L459.8 249.74 L459.82 249.33 L459.84 248.91 L459.86 248.46 L459.88 247.98 L459.9 247.48 L459.92 246.94 L459.94 246.38 L459.96 245.77 L459.98 245.13 L460 244.44 L460.02 243.69 L460.04 242.89 L460.06 242.02 L460.08 241.07 L460.1 240.04 L460.12 238.9 L460.14 237.65 L460.16 236.26 L460.18 234.71 L460.2 232.95 L460.22 230.96 L460.24 228.68" fill="none" stroke="#1414f5" stroke-opacity="0.85" stroke-width="1.15" stroke-linejoin="round"/>
<path d="M163 123.15 L163.1 212.25 L163.2 216.98 L163.3 221.25 L163.4 225.12 L163.5 228.63 L163.6 231.83 L163.7 234.76 L163.8 237.46 L163.9 239.94 L164 242.24 L164.1 244.36 L164.2 246.33 L164.3 248.17 L164.4 249.87 L164.5 251.47 L164.6 252.97 L164.7 254.37 L164.8 255.68 L164.9 256.92 L165 258.08 L165.1 259.18 L165.2 260.21 L165.3 261.19 L165.4 262.11 L165.5 262.99 L165.6 263.82 L165.7 264.61 L165.8 265.35 L165.9 266.07 L166 266.74 L166.1 267.39 L166.2 268 L166.3 268.59 L166.4 269.14 L166.5 269.68 L166.6 270.19 L166.7 270.67 L166.8 271.14 L166.9 271.59 L167 272.01 L167.1 272.42 L167.2 272.81 L167.3 273.19 L167.4 273.55 L167.5 273.9 L167.6 274.23 L167.7 274.55 L167.8 274.86 L167.9 275.16 L168 275.44 L168.1 275.71 L168.2 275.98 L168.3 276.23 L168.4 276.48 L168.5 276.71 L168.6 276.94 L168.7 277.16 L168.8 277.37 L168.9 277.58 L169 277.77 L169.1 277.96 L169.2 278.15 L169.3 278.32 L169.4 278.5 L169.5 278.66 L169.6 278.82 L169.7 278.98 L169.8 279.13 L169.9 279.27 L170 279.41 L170.1 279.55 L170.2 279.68 L170.3 279.81 L170.4 279.93 L170.5 280.05 L170.6 280.17 L170.7 280.28 L170.8 280.39 L170.9 280.49 L171 280.6 L171.1 280.69 L171.2 280.79 L171.3 280.88 L171.4 280.97 L171.5 281.06 L171.6 281.15 L171.7 281.23 L171.8 281.31 L171.9 281.39 L172 281.46 L172.1 281.54 L172.2 281.61 L172.3 281.68 L172.4 281.75 L172.5 281.81 L172.6 281.87 L172.7 281.94 L172.8 282 L172.9 282.06 L173 282.11 L173.1 282.17 L173.2 282.22 L173.3 282.27 L173.4 282.32 L173.5 282.37 L173.6 282.42 L173.7 282.47 L173.8 282.51 L173.9 282.56 L174 282.6 L174.1 282.64 L174.2 282.68 L174.3 282.72 L174.4 282.76 L174.5 282.8 L174.6 282.84 L174.7 282.87 L174.8 282.91 L174.9 282.94 L175 282.98 L175.1 283.01 L175.2 283.04 L175.3 283.07 L175.4 283.1 L175.5 283.13 L175.6 283.16 L175.7 283.18 L175.8 283.21 L175.9 283.24 L176 283.26 L176.1 283.29 L176.2 283.31 L176.3 283.34 L176.4 283.36 L176.5 283.38 L176.6 283.4 L176.7 283.42 L176.8 283.45 L176.9 283.47 L177 283.49 L177.1 283.51 L177.2 283.52 L177.3 283.54 L177.4 283.56 L177.5 283.58 L177.6 283.6 L177.7 283.61 L177.8 283.63 L177.9 283.64 L178 283.66 L178.1 283.68 L178.2 283.69 L178.3 283.7 L178.4 283.72 L178.5 283.73 L178.6 283.75 L178.7 283.76 L178.8 283.77 L178.9 283.78 L179 283.8 L179.1 283.81 L179.2 283.82 L179.3 283.83 L179.4 283.84 L179.5 283.85 L179.6 283.86 L179.7 283.87 L179.8 283.89 L179.9 283.89 L180 283.9 L180.1 283.91 L180.2 283.92 L180.3 283.93 L180.4 283.94 L180.5 283.95 L180.5 283.95 L181 283.99 L181.5 284.03 L182 284.06 L182.5 284.09 L183 284.11 L183.5 284.13 L184 284.16 L184.5 284.17 L185 284.19 L185.5 284.2 L186 284.22 L186.5 284.23 L187 284.24 L187.5 284.25 L188 284.26 L188.5 284.27 L189 284.27 L189.5 284.28 L190 284.28 L190.5 284.29 L191 284.29 L191.5 284.3 L192 284.3 L192.5 284.31 L193 284.31 L193.5 284.31 L194 284.31 L194.5 284.32 L195 284.32 L195.5 284.32 L196 284.32 L196.5 284.32 L197 284.32 L197.5 284.33 L198 284.33 L198.5 284.33 L199 284.33 L199.5 284.33 L200 284.33 L200.5 284.33 L201 284.33 L201.5 284.33 L202 284.33 L202.5 284.33 L203 284.33 L203.5 284.33 L204 284.33 L204.5 284.33 L205 284.33 L205.5 284.33 L206 284.33 L206.5 284.33 L207 284.33 L207.5 284.33 L208 284.33 L208.5 284.33 L209 284.33 L209.5 284.33 L210 284.33 L210.5 284.33 L211 284.33 L211.5 284.33 L212 284.33 L212.5 284.33 L213 284.33 L213.5 284.33 L214 284.33 L214.5 284.33 L215 284.33 L215.5 284.33 L216 284.33 L216.5 284.33 L217 284.33 L217.5 284.33 L218 284.33 L218.5 284.33 L219 284.33 L219.5 284.33 L220 284.33 L220.5 284.33 L221 284.33 L221.5 284.33 L222 284.33 L222.5 284.33 L223 284.33 L223.5 284.33 L224 284.33 L224.5 284.33 L225 284.33 L225.5 284.33 L226 284.33 L226.5 284.33 L227 284.33 L227.5 284.33 L228 284.33 L228.5 284.33 L229 284.33 L229.5 284.33 L230 284.33 L230.5 284.33 L231 284.33 L231.5 284.33 L232 284.33 L232.5 284.33 L233 284.33 L233.5 284.33 L234 284.33 L234.5 284.33 L235 284.33 L235.5 284.33 L236 284.33 L236.5 284.33 L237 284.33 L237.5 284.33 L238 284.33 L238.5 284.33 L239 284.33 L239.5 284.33 L240 284.33 L240.5 284.33 L241 284.33 L241.5 284.33 L242 284.33 L242.5 284.33 L243 284.33 L243.5 284.33 L244 284.33 L244.5 284.33 L245 284.33 L245.5 284.33 L246 284.33 L246.5 284.33 L247 284.33 L247.5 284.33 L248 284.33 L248.5 284.33 L249 284.32 L249.5 284.32 L250 284.32 L250.5 284.32 L251 284.32 L251.5 284.32 L252 284.32 L252.5 284.32 L253 284.32 L253.5 284.32 L254 284.32 L254.5 284.32 L255 284.32 L255.5 284.32 L256 284.32 L256.5 284.32 L257 284.32 L257.5 284.32 L258 284.32 L258.5 284.32 L259 284.32 L259.5 284.32 L260 284.32 L260.5 284.32 L261 284.32 L261.5 284.32 L262 284.32 L262.5 284.32 L263 284.32 L263.5 284.32 L264 284.32 L264.5 284.32 L265 284.32 L265.5 284.32 L266 284.32 L266.5 284.32 L267 284.32 L267.5 284.32 L268 284.32 L268.5 284.32 L269 284.32 L269.5 284.32 L270 284.32 L270.5 284.32 L271 284.32 L271.5 284.32 L272 284.32 L272.5 284.32 L273 284.32 L273.5 284.32 L274 284.32 L274.5 284.32 L275 284.32 L275.5 284.32 L276 284.32 L276.5 284.32 L277 284.32 L277.5 284.32 L278 284.31 L278.5 284.31 L279 284.31 L279.5 284.31 L280 284.31 L280.5 284.31 L281 284.31 L281.5 284.31 L282 284.31 L282.5 284.31 L283 284.31 L283.5 284.31 L284 284.31 L284.5 284.31 L285 284.31 L285.5 284.31 L286 284.31 L286.5 284.31 L287 284.31 L287.5 284.31 L288 284.31 L288.5 284.31 L289 284.31 L289.5 284.31 L290 284.31 L290.5 284.31 L291 284.31 L291.5 284.31 L292 284.31 L292.5 284.31 L293 284.31 L293.5 284.31 L294 284.31 L294.5 284.31 L295 284.31 L295.5 284.31 L296 284.31 L296.5 284.31 L297 284.31 L297.5 284.31 L298 284.31 L298.5 284.31 L299 284.31 L299.5 284.31 L300 284.3 L300.5 284.3 L301 284.3 L301.5 284.3 L302 284.3 L302.5 284.3 L303 284.3 L303.5 284.3 L304 284.3 L304.5 284.3 L305 284.3 L305.5 284.3 L306 284.3 L306.5 284.3 L307 284.3 L307.5 284.3 L308 284.3 L308.5 284.3 L309 284.3 L309.5 284.3 L310 284.3 L310.5 284.3 L311 284.3 L311.5 284.3 L312 284.3 L312.5 284.3 L313 284.3 L313.5 284.3 L314 284.3 L314.5 284.3 L315 284.3 L315.5 284.3 L316 284.3 L316.5 284.3 L317 284.3 L317.5 284.29 L318 284.29 L318.5 284.29 L319 284.29 L319.5 284.29 L320 284.29 L320.5 284.29 L321 284.29 L321.5 284.29 L322 284.29 L322.5 284.29 L323 284.29 L323.5 284.29 L324 284.29 L324.5 284.29 L325 284.29 L325.5 284.29 L326 284.29 L326.5 284.29 L327 284.29 L327.5 284.29 L328 284.29 L328.5 284.29 L329 284.29 L329.5 284.29 L330 284.29 L330.5 284.28 L331 284.28 L331.5 284.28 L332 284.28 L332.5 284.28 L333 284.28 L333.5 284.28 L334 284.28 L334.5 284.28 L335 284.28 L335.5 284.28 L336 284.27 L336.5 284.27 L337 284.27 L337.5 284.27 L338 284.26 L338.5 284.26 L339 284.25 L339.5 284.25 L340 284.24 L340.5 284.23 L341 284.23 L341.5 284.21 L342 284.2 L342.5 284.18 L343 284.16 L343.5 284.14 L344 284.11 L344.5 284.07 L345 284.02 L345.5 283.97 L346 283.9 L346.5 283.82 L347 283.72 L347.5 283.6 L348 283.46 L348.5 283.28 L349 283.07 L349.5 282.81 L350 282.5 L350.5 282.13 L351 281.68 L351.5 281.15 L352 280.51 L352.5 279.76 L353 278.87 L353.5 277.82 L354 276.61 L354.5 275.22 L355 273.63 L355.5 271.84 L356 269.85 L356.5 267.67 L357 265.33 L357.5 262.84 L358 260.26 L358.5 257.62 L359 254.99 L359.5 252.41 L360 249.92 L360.5 247.58 L361 245.4 L361.5 243.41 L362 241.62 L362.5 240.03 L363 238.64 L363.5 237.42 L364 236.38 L364.5 235.49 L365 234.74 L365.5 234.1 L366 233.57 L366.5 233.12 L367 232.75 L367.5 232.44 L368 232.18 L368.5 231.97 L369 231.79 L369.5 231.65 L370 231.53 L370.5 231.43 L371 231.34 L371.5 231.28 L372 231.22 L372.5 231.18 L373 231.14 L373.5 231.11 L374 231.08 L374.5 231.06 L375 231.04 L375.5 231.03 L376 231.02 L376.5 231.01 L377 231 L377.5 230.99 L378 230.98 L378.5 230.98 L379 230.98 L379.5 230.97 L380 230.97 L380.5 230.97 L381 230.96 L381.5 230.96 L382 230.96 L382.5 230.96 L383 230.95 L383.5 230.95 L384 230.95 L384.5 230.95 L385 230.95 L385.5 230.95 L386 230.95 L386.5 230.94 L387 230.94 L387.5 230.94 L388 230.94 L388.5 230.94 L389 230.94 L389.5 230.94 L390 230.93 L390.5 230.93 L391 230.93 L391.5 230.93 L392 230.93 L392.5 230.93 L393 230.93 L393.5 230.92 L394 230.92 L394.5 230.92 L395 230.92 L395.5 230.92 L396 230.92 L396.5 230.91 L397 230.91 L397.5 230.91 L398 230.91 L398.5 230.91 L399 230.91 L399.5 230.9 L400 230.9 L400.5 230.9 L401 230.9 L401.5 230.9 L402 230.9 L402.5 230.89 L403 230.89 L403.5 230.89 L404 230.89 L404.5 230.88 L405 230.88 L405.5 230.88 L406 230.88 L406.5 230.88 L407 230.87 L407.5 230.87 L408 230.87 L408.5 230.87 L409 230.86 L409.5 230.86 L410 230.86 L410.5 230.86 L411 230.85 L411.5 230.85 L412 230.85 L412.5 230.85 L413 230.84 L413.5 230.84 L414 230.84 L414.5 230.83 L415 230.83 L415.5 230.83 L416 230.82 L416.5 230.82 L417 230.82 L417.5 230.81 L418 230.81 L418.5 230.81 L419 230.8 L419.5 230.8 L420 230.79 L420.5 230.79 L421 230.79 L421.5 230.78 L422 230.78 L422.5 230.77 L423 230.77 L423.5 230.76 L424 230.76 L424.5 230.75 L425 230.75 L425.5 230.74 L426 230.74 L426.5 230.73 L427 230.72 L427.5 230.72 L428 230.71 L428.5 230.71 L429 230.7 L429.5 230.69 L430 230.69 L430.5 230.68 L431 230.67 L431.5 230.66 L432 230.65 L432.5 230.65 L433 230.64 L433.5 230.63 L434 230.62 L434.5 230.61 L435 230.6 L435.5 230.59 L436 230.58 L436.5 230.57 L437 230.56 L437.5 230.54 L438 230.53 L438.5 230.52 L439 230.5 L439.5 230.49 L440 230.47 L440.5 230.46 L441 230.44 L441.5 230.42 L442 230.4 L442.5 230.38 L443 230.36 L443.5 230.33 L444 230.31 L444.5 230.28 L445 230.26 L445.5 230.22 L446 230.19 L446.5 230.15 L447 230.12 L447.5 230.07 L448 230.02 L448.5 229.97 L449 229.91 L449.5 229.84 L450 229.76 L450.5 229.68 L451 229.57 L451.5 229.46 L452 229.32 L452.5 229.15 L453 228.95 L453.5 228.71 L454 228.42 L454.5 228.07 L454.52 228.05 L454.54 228.04 L454.56 228.02 L454.58 228 L454.6 227.99 L454.62 227.97 L454.64 227.96 L454.66 227.94 L454.68 227.92 L454.7 227.9 L454.72 227.89 L454.74 227.87 L454.76 227.85 L454.78 227.84 L454.8 227.82 L454.82 227.8 L454.84 227.78 L454.86 227.76 L454.88 227.74 L454.9 227.73 L454.92 227.71 L454.94 227.69 L454.96 227.67 L454.98 227.65 L455 227.63 L455.02 227.61 L455.04 227.59 L455.06 227.57 L455.08 227.55 L455.1 227.53 L455.12 227.51 L455.14 227.49 L455.16 227.47 L455.18 227.45 L455.2 227.43 L455.22 227.41 L455.24 227.38 L455.26 227.36 L455.28 227.34 L455.3 227.32 L455.32 227.3 L455.34 227.27 L455.36 227.25 L455.38 227.23 L455.4 227.2 L455.42 227.18 L455.44 227.16 L455.46 227.13 L455.48 227.11 L455.5 227.09 L455.52 227.06 L455.54 227.04 L455.56 227.01 L455.58 226.99 L455.6 226.96 L455.62 226.93 L455.64 226.91 L455.66 226.88 L455.68 226.86 L455.7 226.83 L455.72 226.8 L455.74 226.78 L455.76 226.75 L455.78 226.72 L455.8 226.69 L455.82 226.67 L455.84 226.64 L455.86 226.61 L455.88 226.58 L455.9 226.55 L455.92 226.52 L455.94 226.49 L455.96 226.46 L455.98 226.43 L456 226.4 L456.02 226.37 L456.04 226.34 L456.06 226.31 L456.08 226.27 L456.1 226.24 L456.12 226.21 L456.14 226.18 L456.16 226.14 L456.18 226.11 L456.2 226.08 L456.22 226.04 L456.24 226.01 L456.26 225.97 L456.28 225.94 L456.3 225.9 L456.32 225.87 L456.34 225.83 L456.36 225.8 L456.38 225.76 L456.4 225.72 L456.42 225.68 L456.44 225.65 L456.46 225.61 L456.48 225.57 L456.5 225.53 L456.52 225.49 L456.54 225.45 L456.56 225.41 L456.58 225.37 L456.6 225.33 L456.62 225.29 L456.64 225.25 L456.66 225.2 L456.68 225.16 L456.7 225.12 L456.72 225.07 L456.74 225.03 L456.76 224.98 L456.78 224.94 L456.8 224.89 L456.82 224.85 L456.84 224.8 L456.86 224.75 L456.88 224.71 L456.9 224.66 L456.92 224.61 L456.94 224.56 L456.96 224.51 L456.98 224.46 L457 224.41 L457.02 224.36 L457.04 224.31 L457.06 224.26 L457.08 224.2 L457.1 224.15 L457.12 224.1 L457.14 224.04 L457.16 223.99 L457.18 223.93 L457.2 223.88 L457.22 223.82 L457.24 223.76 L457.26 223.7 L457.28 223.64 L457.3 223.59 L457.32 223.53 L457.34 223.46 L457.36 223.4 L457.38 223.34 L457.4 223.28 L457.42 223.21 L457.44 223.15 L457.46 223.09 L457.48 223.02 L457.5 222.95 L457.52 222.89 L457.54 222.82 L457.56 222.75 L457.58 222.68 L457.6 222.61 L457.62 222.54 L457.64 222.47 L457.66 222.39 L457.68 222.32 L457.7 222.24 L457.72 222.17 L457.74 222.09 L457.76 222.01 L457.78 221.94 L457.8 221.86 L457.82 221.78 L457.84 221.7 L457.86 221.61 L457.88 221.53 L457.9 221.45 L457.92 221.36 L457.94 221.27 L457.96 221.19 L457.98 221.1 L458 221.01 L458.02 220.92 L458.04 220.82 L458.06 220.73 L458.08 220.64 L458.1 220.54 L458.12 220.44 L458.14 220.34 L458.16 220.24 L458.18 220.14 L458.2 220.04 L458.22 219.94 L458.24 219.83 L458.26 219.72 L458.28 219.62 L458.3 219.51 L458.32 219.39 L458.34 219.28 L458.36 219.17 L458.38 219.05 L458.4 218.93 L458.42 218.81 L458.44 218.69 L458.46 218.57 L458.48 218.44 L458.5 218.31 L458.52 218.19 L458.54 218.05 L458.56 217.92 L458.58 217.79 L458.6 217.65 L458.62 217.51 L458.64 217.37 L458.66 217.22 L458.68 217.08 L458.7 216.93 L458.72 216.78 L458.74 216.62 L458.76 216.47 L458.78 216.31 L458.8 216.14 L458.82 215.98 L458.84 215.81 L458.86 215.64 L458.88 215.47 L458.9 215.29 L458.92 215.11 L458.94 214.92 L458.96 214.74 L458.98 214.54 L459 214.35 L459.02 214.15 L459.04 213.95 L459.06 213.74 L459.08 213.53 L459.1 213.31 L459.12 213.09 L459.14 212.86 L459.16 212.63 L459.18 212.39 L459.2 212.15 L459.22 211.9 L459.24 211.65 L459.26 211.39 L459.28 211.12 L459.3 210.85 L459.32 210.57 L459.34 210.28 L459.36 209.98 L459.38 209.68 L459.4 209.37 L459.42 209.05 L459.44 208.72 L459.46 208.38 L459.48 208.02 L459.5 207.66 L459.52 207.29 L459.54 206.9 L459.56 206.5 L459.58 206.09 L459.6 205.66 L459.62 205.22 L459.64 204.76 L459.66 204.28 L459.68 203.78 L459.7 203.26 L459.72 202.72 L459.74 202.16 L459.76 201.57 L459.78 200.95 L459.8 200.31 L459.82 199.63 L459.84 198.91 L459.86 198.16 L459.88 197.37 L459.9 196.53 L459.92 195.64 L459.94 194.69 L459.96 193.68 L459.98 192.6 L460 191.44 L460.02 190.2 L460.04 188.86 L460.06 187.41 L460.08 185.83 L460.1 184.11 L460.12 182.21 L460.14 180.12 L460.16 177.8 L460.18 175.21 L460.2 172.29 L460.22 168.97 L460.24 165.15" fill="none" stroke="#1414f5" stroke-opacity="0.85" stroke-width="1.15" stroke-linejoin="round"/>
<path d="M163 127.04 L163.1 254.04 L163.2 256.96 L163.3 259.53 L163.4 261.82 L163.5 263.85 L163.6 265.66 L163.7 267.28 L163.8 268.74 L163.9 270.05 L164 271.23 L164.1 272.3 L164.2 273.27 L164.3 274.15 L164.4 274.95 L164.5 275.68 L164.6 276.34 L164.7 276.95 L164.8 277.51 L164.9 278.02 L165 278.48 L165.1 278.91 L165.2 279.31 L165.3 279.67 L165.4 280 L165.5 280.31 L165.6 280.59 L165.7 280.86 L165.8 281.1 L165.9 281.32 L166 281.53 L166.1 281.72 L166.2 281.9 L166.3 282.06 L166.4 282.22 L166.5 282.36 L166.6 282.49 L166.7 282.61 L166.8 282.73 L166.9 282.83 L167 282.93 L167.1 283.02 L167.2 283.11 L167.3 283.19 L167.4 283.26 L167.5 283.33 L167.6 283.39 L167.7 283.45 L167.8 283.51 L167.9 283.56 L168 283.61 L168.1 283.66 L168.2 283.7 L168.3 283.74 L168.4 283.78 L168.5 283.81 L168.6 283.84 L168.7 283.88 L168.8 283.9 L168.9 283.93 L169 283.96 L169.1 283.98 L169.2 284 L169.3 284.02 L169.4 284.04 L169.5 284.06 L169.6 284.08 L169.7 284.09 L169.8 284.11 L169.9 284.12 L170 284.13 L170.1 284.15 L170.2 284.16 L170.3 284.17 L170.4 284.18 L170.5 284.19 L170.6 284.2 L170.7 284.21 L170.8 284.21 L170.9 284.22 L171 284.23 L171.1 284.24 L171.2 284.24 L171.3 284.25 L171.4 284.25 L171.5 284.26 L171.6 284.26 L171.7 284.27 L171.8 284.27 L171.9 284.28 L172 284.28 L172.1 284.28 L172.2 284.29 L172.3 284.29 L172.4 284.29 L172.5 284.3 L172.6 284.3 L172.7 284.3 L172.8 284.3 L172.9 284.3 L173 284.31 L173.1 284.31 L173.2 284.31 L173.3 284.31 L173.4 284.31 L173.5 284.32 L173.6 284.32 L173.7 284.32 L173.8 284.32 L173.9 284.32 L174 284.32 L174.1 284.32 L174.2 284.32 L174.3 284.33 L174.4 284.33 L174.5 284.33 L174.6 284.33 L174.7 284.33 L174.8 284.33 L174.9 284.33 L175 284.33 L175.1 284.33 L175.2 284.33 L175.3 284.33 L175.4 284.33 L175.5 284.33 L175.6 284.33 L175.7 284.33 L175.8 284.33 L175.9 284.33 L176 284.33 L176.1 284.34 L176.2 284.34 L176.3 284.34 L176.4 284.34 L176.5 284.34 L176.6 284.34 L176.7 284.34 L176.8 284.34 L176.9 284.34 L177 284.34 L177.1 284.34 L177.2 284.34 L177.3 284.34 L177.4 284.34 L177.5 284.34 L177.6 284.34 L177.7 284.34 L177.8 284.34 L177.9 284.34 L178 284.34 L178.1 284.34 L178.2 284.34 L178.3 284.34 L178.4 284.34 L178.5 284.34 L178.6 284.34 L178.7 284.34 L178.8 284.34 L178.9 284.34 L179 284.34 L179.1 284.34 L179.2 284.34 L179.3 284.34 L179.4 284.34 L179.5 284.34 L179.6 284.34 L179.7 284.34 L179.8 284.34 L179.9 284.34 L180 284.34 L180.1 284.34 L180.2 284.34 L180.3 284.34 L180.4 284.34 L180.5 284.34 L180.5 284.34 L181 284.34 L181.5 284.34 L182 284.34 L182.5 284.34 L183 284.34 L183.5 284.34 L184 284.34 L184.5 284.34 L185 284.34 L185.5 284.34 L186 284.34 L186.5 284.34 L187 284.34 L187.5 284.34 L188 284.34 L188.5 284.34 L189 284.34 L189.5 284.34 L190 284.34 L190.5 284.34 L191 284.34 L191.5 284.34 L192 284.34 L192.5 284.34 L193 284.34 L193.5 284.34 L194 284.34 L194.5 284.34 L195 284.34 L195.5 284.34 L196 284.34 L196.5 284.34 L197 284.34 L197.5 284.34 L198 284.34 L198.5 284.34 L199 284.34 L199.5 284.34 L200 284.34 L200.5 284.34 L201 284.34 L201.5 284.34 L202 284.34 L202.5 284.34 L203 284.34 L203.5 284.34 L204 284.34 L204.5 284.34 L205 284.34 L205.5 284.34 L206 284.34 L206.5 284.34 L207 284.34 L207.5 284.34 L208 284.34 L208.5 284.34 L209 284.33 L209.5 284.33 L210 284.33 L210.5 284.33 L211 284.33 L211.5 284.33 L212 284.33 L212.5 284.33 L213 284.33 L213.5 284.33 L214 284.33 L214.5 284.33 L215 284.33 L215.5 284.33 L216 284.33 L216.5 284.33 L217 284.33 L217.5 284.33 L218 284.33 L218.5 284.33 L219 284.33 L219.5 284.33 L220 284.33 L220.5 284.33 L221 284.33 L221.5 284.33 L222 284.33 L222.5 284.33 L223 284.33 L223.5 284.33 L224 284.33 L224.5 284.33 L225 284.33 L225.5 284.33 L226 284.33 L226.5 284.33 L227 284.33 L227.5 284.33 L228 284.33 L228.5 284.33 L229 284.33 L229.5 284.33 L230 284.33 L230.5 284.33 L231 284.33 L231.5 284.33 L232 284.33 L232.5 284.33 L233 284.33 L233.5 284.33 L234 284.33 L234.5 284.33 L235 284.33 L235.5 284.33 L236 284.33 L236.5 284.33 L237 284.33 L237.5 284.33 L238 284.33 L238.5 284.33 L239 284.33 L239.5 284.33 L240 284.33 L240.5 284.33 L241 284.33 L241.5 284.33 L242 284.33 L242.5 284.33 L243 284.33 L243.5 284.33 L244 284.33 L244.5 284.33 L245 284.33 L245.5 284.33 L246 284.33 L246.5 284.33 L247 284.33 L247.5 284.33 L248 284.33 L248.5 284.33 L249 284.32 L249.5 284.32 L250 284.32 L250.5 284.32 L251 284.32 L251.5 284.32 L252 284.32 L252.5 284.32 L253 284.32 L253.5 284.32 L254 284.32 L254.5 284.32 L255 284.32 L255.5 284.32 L256 284.32 L256.5 284.32 L257 284.32 L257.5 284.32 L258 284.32 L258.5 284.32 L259 284.32 L259.5 284.32 L260 284.32 L260.5 284.32 L261 284.32 L261.5 284.32 L262 284.32 L262.5 284.32 L263 284.32 L263.5 284.32 L264 284.32 L264.5 284.32 L265 284.32 L265.5 284.32 L266 284.32 L266.5 284.32 L267 284.32 L267.5 284.32 L268 284.32 L268.5 284.32 L269 284.32 L269.5 284.32 L270 284.32 L270.5 284.32 L271 284.32 L271.5 284.32 L272 284.32 L272.5 284.32 L273 284.32 L273.5 284.32 L274 284.32 L274.5 284.32 L275 284.32 L275.5 284.32 L276 284.32 L276.5 284.32 L277 284.32 L277.5 284.32 L278 284.31 L278.5 284.31 L279 284.31 L279.5 284.31 L280 284.31 L280.5 284.31 L281 284.31 L281.5 284.31 L282 284.31 L282.5 284.31 L283 284.31 L283.5 284.31 L284 284.31 L284.5 284.31 L285 284.31 L285.5 284.31 L286 284.31 L286.5 284.31 L287 284.31 L287.5 284.31 L288 284.31 L288.5 284.31 L289 284.31 L289.5 284.31 L290 284.31 L290.5 284.31 L291 284.31 L291.5 284.31 L292 284.31 L292.5 284.31 L293 284.31 L293.5 284.31 L294 284.31 L294.5 284.31 L295 284.31 L295.5 284.31 L296 284.31 L296.5 284.31 L297 284.31 L297.5 284.31 L298 284.31 L298.5 284.31 L299 284.31 L299.5 284.31 L300 284.3 L300.5 284.3 L301 284.3 L301.5 284.3 L302 284.3 L302.5 284.3 L303 284.3 L303.5 284.3 L304 284.3 L304.5 284.3 L305 284.3 L305.5 284.3 L306 284.3 L306.5 284.3 L307 284.3 L307.5 284.3 L308 284.3 L308.5 284.3 L309 284.3 L309.5 284.3 L310 284.3 L310.5 284.3 L311 284.3 L311.5 284.3 L312 284.3 L312.5 284.3 L313 284.3 L313.5 284.3 L314 284.3 L314.5 284.3 L315 284.3 L315.5 284.3 L316 284.3 L316.5 284.3 L317 284.3 L317.5 284.29 L318 284.29 L318.5 284.29 L319 284.29 L319.5 284.29 L320 284.29 L320.5 284.29 L321 284.29 L321.5 284.29 L322 284.29 L322.5 284.29 L323 284.29 L323.5 284.29 L324 284.29 L324.5 284.29 L325 284.29 L325.5 284.29 L326 284.29 L326.5 284.29 L327 284.29 L327.5 284.29 L328 284.29 L328.5 284.29 L329 284.29 L329.5 284.29 L330 284.29 L330.5 284.29 L331 284.28 L331.5 284.28 L332 284.28 L332.5 284.28 L333 284.28 L333.5 284.28 L334 284.28 L334.5 284.28 L335 284.28 L335.5 284.28 L336 284.28 L336.5 284.28 L337 284.28 L337.5 284.28 L338 284.28 L338.5 284.28 L339 284.28 L339.5 284.28 L340 284.28 L340.5 284.27 L341 284.27 L341.5 284.27 L342 284.27 L342.5 284.27 L343 284.26 L343.5 284.26 L344 284.25 L344.5 284.25 L345 284.24 L345.5 284.22 L346 284.2 L346.5 284.18 L347 284.15 L347.5 284.1 L348 284.04 L348.5 283.95 L349 283.83 L349.5 283.67 L350 283.46 L350.5 283.16 L351 282.76 L351.5 282.22 L352 281.48 L352.5 280.49 L353 279.16 L353.5 277.39 L354 275.05 L354.5 271.99 L355 268.05 L355.5 263.09 L356 256.96 L356.5 249.64 L357 241.19 L357.5 231.83 L358 221.91 L358.5 211.9 L359 202.26 L359.5 193.41 L360 185.62 L360.5 179.02 L361 173.6 L361.5 169.27 L362 165.88 L362.5 163.27 L363 161.29 L363.5 159.8 L364 158.68 L364.5 157.85 L365 157.24 L365.5 156.78 L366 156.45 L366.5 156.2 L367 156.02 L367.5 155.89 L368 155.79 L368.5 155.72 L369 155.67 L369.5 155.63 L370 155.6 L370.5 155.58 L371 155.57 L371.5 155.55 L372 155.54 L372.5 155.54 L373 155.53 L373.5 155.53 L374 155.53 L374.5 155.52 L375 155.52 L375.5 155.52 L376 155.52 L376.5 155.52 L377 155.52 L377.5 155.51 L378 155.51 L378.5 155.51 L379 155.51 L379.5 155.51 L380 155.51 L380.5 155.51 L381 155.51 L381.5 155.51 L382 155.5 L382.5 155.5 L383 155.5 L383.5 155.5 L384 155.5 L384.5 155.5 L385 155.5 L385.5 155.5 L386 155.49 L386.5 155.49 L387 155.49 L387.5 155.49 L388 155.49 L388.5 155.49 L389 155.49 L389.5 155.49 L390 155.48 L390.5 155.48 L391 155.48 L391.5 155.48 L392 155.48 L392.5 155.48 L393 155.48 L393.5 155.47 L394 155.47 L394.5 155.47 L395 155.47 L395.5 155.47 L396 155.47 L396.5 155.47 L397 155.46 L397.5 155.46 L398 155.46 L398.5 155.46 L399 155.46 L399.5 155.46 L400 155.45 L400.5 155.45 L401 155.45 L401.5 155.45 L402 155.45 L402.5 155.44 L403 155.44 L403.5 155.44 L404 155.44 L404.5 155.44 L405 155.43 L405.5 155.43 L406 155.43 L406.5 155.43 L407 155.42 L407.5 155.42 L408 155.42 L408.5 155.42 L409 155.41 L409.5 155.41 L410 155.41 L410.5 155.41 L411 155.4 L411.5 155.4 L412 155.4 L412.5 155.4 L413 155.39 L413.5 155.39 L414 155.39 L414.5 155.38 L415 155.38 L415.5 155.38 L416 155.37 L416.5 155.37 L417 155.37 L417.5 155.36 L418 155.36 L418.5 155.36 L419 155.35 L419.5 155.35 L420 155.34 L420.5 155.34 L421 155.34 L421.5 155.33 L422 155.33 L422.5 155.32 L423 155.32 L423.5 155.31 L424 155.31 L424.5 155.3 L425 155.3 L425.5 155.29 L426 155.29 L426.5 155.28 L427 155.28 L427.5 155.27 L428 155.26 L428.5 155.26 L429 155.25 L429.5 155.24 L430 155.24 L430.5 155.23 L431 155.22 L431.5 155.21 L432 155.21 L432.5 155.2 L433 155.19 L433.5 155.18 L434 155.17 L434.5 155.16 L435 155.15 L435.5 155.14 L436 155.13 L436.5 155.12 L437 155.11 L437.5 155.09 L438 155.08 L438.5 155.07 L439 155.05 L439.5 155.04 L440 155.02 L440.5 155.01 L441 154.99 L441.5 154.97 L442 154.95 L442.5 154.93 L443 154.91 L443.5 154.89 L444 154.86 L444.5 154.83 L445 154.81 L445.5 154.78 L446 154.74 L446.5 154.71 L447 154.67 L447.5 154.62 L448 154.57 L448.5 154.52 L449 154.46 L449.5 154.39 L450 154.32 L450.5 154.23 L451 154.13 L451.5 154.01 L452 153.87 L452.5 153.7 L453 153.5 L453.5 153.26 L454 152.97 L454.5 152.62 L454.52 152.6 L454.54 152.59 L454.56 152.57 L454.58 152.56 L454.6 152.54 L454.62 152.52 L454.64 152.51 L454.66 152.49 L454.68 152.47 L454.7 152.46 L454.72 152.44 L454.74 152.42 L454.76 152.4 L454.78 152.39 L454.8 152.37 L454.82 152.35 L454.84 152.33 L454.86 152.31 L454.88 152.3 L454.9 152.28 L454.92 152.26 L454.94 152.24 L454.96 152.22 L454.98 152.2 L455 152.18 L455.02 152.16 L455.04 152.14 L455.06 152.12 L455.08 152.1 L455.1 152.08 L455.12 152.06 L455.14 152.04 L455.16 152.02 L455.18 152 L455.2 151.98 L455.22 151.96 L455.24 151.93 L455.26 151.91 L455.28 151.89 L455.3 151.87 L455.32 151.85 L455.34 151.82 L455.36 151.8 L455.38 151.78 L455.4 151.76 L455.42 151.73 L455.44 151.71 L455.46 151.68 L455.48 151.66 L455.5 151.64 L455.52 151.61 L455.54 151.59 L455.56 151.56 L455.58 151.54 L455.6 151.51 L455.62 151.49 L455.64 151.46 L455.66 151.43 L455.68 151.41 L455.7 151.38 L455.72 151.35 L455.74 151.33 L455.76 151.3 L455.78 151.27 L455.8 151.24 L455.82 151.22 L455.84 151.19 L455.86 151.16 L455.88 151.13 L455.9 151.1 L455.92 151.07 L455.94 151.04 L455.96 151.01 L455.98 150.98 L456 150.95 L456.02 150.92 L456.04 150.89 L456.06 150.86 L456.08 150.83 L456.1 150.79 L456.12 150.76 L456.14 150.73 L456.16 150.69 L456.18 150.66 L456.2 150.63 L456.22 150.59 L456.24 150.56 L456.26 150.52 L456.28 150.49 L456.3 150.45 L456.32 150.42 L456.34 150.38 L456.36 150.35 L456.38 150.31 L456.4 150.27 L456.42 150.23 L456.44 150.2 L456.46 150.16 L456.48 150.12 L456.5 150.08 L456.52 150.04 L456.54 150 L456.56 149.96 L456.58 149.92 L456.6 149.88 L456.62 149.84 L456.64 149.8 L456.66 149.75 L456.68 149.71 L456.7 149.67 L456.72 149.62 L456.74 149.58 L456.76 149.54 L456.78 149.49 L456.8 149.44 L456.82 149.4 L456.84 149.35 L456.86 149.31 L456.88 149.26 L456.9 149.21 L456.92 149.16 L456.94 149.11 L456.96 149.06 L456.98 149.01 L457 148.96 L457.02 148.91 L457.04 148.86 L457.06 148.81 L457.08 148.76 L457.1 148.7 L457.12 148.65 L457.14 148.59 L457.16 148.54 L457.18 148.48 L457.2 148.43 L457.22 148.37 L457.24 148.31 L457.26 148.25 L457.28 148.2 L457.3 148.14 L457.32 148.08 L457.34 148.02 L457.36 147.95 L457.38 147.89 L457.4 147.83 L457.42 147.77 L457.44 147.7 L457.46 147.64 L457.48 147.57 L457.5 147.5 L457.52 147.44 L457.54 147.37 L457.56 147.3 L457.58 147.23 L457.6 147.16 L457.62 147.09 L457.64 147.02 L457.66 146.94 L457.68 146.87 L457.7 146.8 L457.72 146.72 L457.74 146.64 L457.76 146.57 L457.78 146.49 L457.8 146.41 L457.82 146.33 L457.84 146.25 L457.86 146.16 L457.88 146.08 L457.9 146 L457.92 145.91 L457.94 145.82 L457.96 145.74 L457.98 145.65 L458 145.56 L458.02 145.47 L458.04 145.37 L458.06 145.28 L458.08 145.19 L458.1 145.09 L458.12 144.99 L458.14 144.89 L458.16 144.79 L458.18 144.69 L458.2 144.59 L458.22 144.49 L458.24 144.38 L458.26 144.27 L458.28 144.17 L458.3 144.06 L458.32 143.94 L458.34 143.83 L458.36 143.72 L458.38 143.6 L458.4 143.48 L458.42 143.36 L458.44 143.24 L458.46 143.12 L458.48 142.99 L458.5 142.87 L458.52 142.74 L458.54 142.61 L458.56 142.47 L458.58 142.34 L458.6 142.2 L458.62 142.06 L458.64 141.92 L458.66 141.77 L458.68 141.63 L458.7 141.48 L458.72 141.33 L458.74 141.17 L458.76 141.02 L458.78 140.86 L458.8 140.7 L458.82 140.53 L458.84 140.36 L458.86 140.19 L458.88 140.02 L458.9 139.84 L458.92 139.66 L458.94 139.47 L458.96 139.29 L458.98 139.09 L459 138.9 L459.02 138.7 L459.04 138.5 L459.06 138.29 L459.08 138.08 L459.1 137.86 L459.12 137.64 L459.14 137.41 L459.16 137.18 L459.18 136.94 L459.2 136.7 L459.22 136.45 L459.24 136.2 L459.26 135.94 L459.28 135.67 L459.3 135.4 L459.32 135.12 L459.34 134.83 L459.36 134.54 L459.38 134.23 L459.4 133.92 L459.42 133.6 L459.44 133.27 L459.46 132.93 L459.48 132.58 L459.5 132.21 L459.52 131.84 L459.54 131.45 L459.56 131.05 L459.58 130.64 L459.6 130.21 L459.62 129.77 L459.64 129.31 L459.66 128.83 L459.68 128.33 L459.7 127.81 L459.72 127.27 L459.74 126.71 L459.76 126.12 L459.78 125.5 L459.8 124.86 L459.82 124.18 L459.84 123.46 L459.86 122.71 L459.88 121.92 L459.9 121.08 L459.92 120.19 L459.94 119.24 L459.96 118.23 L459.98 117.15 L460 116 L460.02 114.75 L460.04 113.41 L460.06 111.96 L460.08 110.38 L460.1 108.66 L460.12 106.76 L460.14 104.68 L460.16 102.35 L460.18 99.76 L460.2 96.84 L460.22 93.52 L460.24 89.7" fill="none" stroke="#1414f5" stroke-opacity="0.85" stroke-width="1.15" stroke-linejoin="round"/>
</g>
<g font-family="'Liberation Serif', serif" font-size="14.6" fill="#1c1c1c" stroke="#fff" stroke-width="0.14">
<text x="51.2" y="289.4" text-anchor="end">0</text>
<text x="51.2" y="233.8" text-anchor="end">0.1</text>
<text x="51.2" y="178.2" text-anchor="end">0.2</text>
<text x="51.2" y="122.6" text-anchor="end">0.3</text>
<text x="51.2" y="67" text-anchor="end">0.4</text>
<text x="51.2" y="11.4" text-anchor="end">0.5</text>
<text x="260.2" y="304.6" text-anchor="middle">0</text>
<text x="360.2" y="304.6" text-anchor="middle">50</text>
<text x="460.2" y="304.6" text-anchor="middle">100</text>
<text x="55.1" y="304.6">100</text><path d="M44.9 300H53.7" stroke="#333" stroke-width="0.65"/>
<text x="159.6" y="304.6">50</text><path d="M149.4 300H158.2" stroke="#333" stroke-width="0.65"/>
<text x="260.2" y="327.3" text-anchor="middle" font-style="italic" font-size="16.5">x</text>
<g transform="translate(12.9,0) rotate(-90)">
<text x="-188.2" y="0" font-size="15.5" font-style="italic">s</text>
<text x="-181.6" y="2" font-size="11.5" font-style="italic">A</text>
<text x="-173.8" y="0" font-size="15">(</text>
<text x="-167.6" y="0" font-size="16.5" font-style="italic">x</text>
<text x="-158.4" y="0" font-size="15">)</text>
<text x="-152" y="0" font-size="15">,</text>
<text x="-142.2" y="0" font-size="15.5" font-style="italic">s</text>
<text x="-135" y="2" font-size="11.5" font-style="italic">B</text>
<text x="-125.8" y="0" font-size="15">(</text>
<text x="-121.2" y="0" font-size="16.5" font-style="italic">x</text>
<text x="-112" y="0" font-size="15">)</text>
</g>
<text x="348.3" y="22.7" font-style="italic">h</text><text x="361.3" y="22.7" textLength="10.4" lengthAdjust="spacingAndGlyphs">=</text><text x="376.6" y="22.7" textLength="6.8" lengthAdjust="spacingAndGlyphs">0</text>
<path d="M402.2 19H442.4" stroke="#d3c19c" stroke-width="1.2" fill="none"/>
<rect x="420.4" y="17" width="4" height="4" fill="none" stroke="#a08422" stroke-opacity="0.85" stroke-width="0.75"/>
<text x="348.3" y="37.7" font-style="italic">h</text><text x="361.3" y="37.7" textLength="10.4" lengthAdjust="spacingAndGlyphs">=</text><text x="376.6" y="37.7" textLength="18.3" lengthAdjust="spacingAndGlyphs">0.2</text>
<path d="M402.2 34H442.4" stroke="#ffd08a" stroke-width="0.85" fill="none"/>
<polygon points="422.4,31.25 420.15,35.5 424.65,35.5" fill="none" stroke="#ffa200" stroke-width="0.65"/>
<text x="348.3" y="52.7" font-style="italic">h</text><text x="361.3" y="52.7" textLength="10.4" lengthAdjust="spacingAndGlyphs">=</text><text x="376.6" y="52.7" textLength="18.3" lengthAdjust="spacingAndGlyphs">0.6</text>
<path d="M402.2 49H442.4" stroke="#dcc0ff" stroke-width="0.85" fill="none"/>
<polygon points="422.4,46.45 420.45,49 422.4,51.55 424.35,49" fill="none" stroke="#b56cff" stroke-width="0.65"/>
<text x="348.3" y="67.7" font-style="italic">h</text><text x="361.3" y="67.7" textLength="10.4" lengthAdjust="spacingAndGlyphs">=</text><text x="376.6" y="67.7" textLength="18.3" lengthAdjust="spacingAndGlyphs">1.4</text>
<path d="M402.2 64H442.4" stroke="#d9d9d9" stroke-width="0.85" fill="none"/>
<circle cx="422.4" cy="64" r="2.1" fill="none" stroke="#a4a4a4" stroke-width="0.6"/>
<text x="348.5" y="82.7" textLength="30" lengthAdjust="spacingAndGlyphs">CFT</text>
<path d="M402.2 79H442.4" stroke="#3a3aff" stroke-width="1.5" fill="none"/>
</g>
</svg>
</body></html>
